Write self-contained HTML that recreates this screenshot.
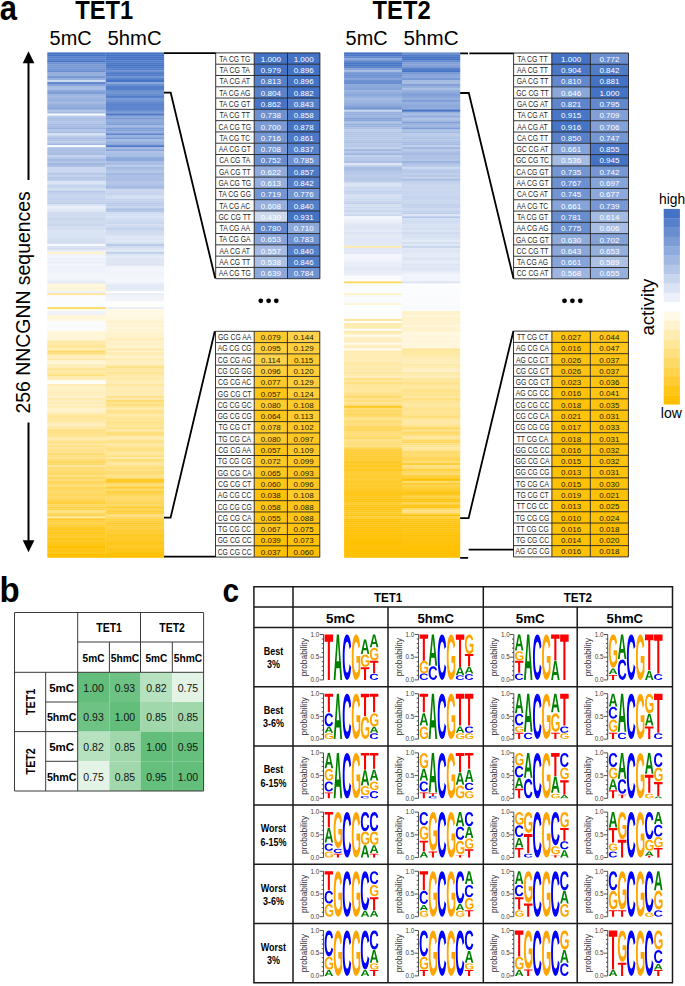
<!DOCTYPE html>
<html><head><meta charset="utf-8"><style>
html,body{margin:0;padding:0;background:#fff;width:685px;height:986px;overflow:hidden}
svg{display:block}
text{font-family:"Liberation Sans",sans-serif}
</style></head><body>
<svg width="685" height="986" viewBox="0 0 685 986">
<rect width="685" height="986" fill="#fff"/>
<text x="-0.3" y="19.7" font-size="35.5" font-weight="bold" textLength="17.2" lengthAdjust="spacingAndGlyphs" fill="#000">a</text>
<text x="75.3" y="19.4" font-size="25.5" font-weight="bold" textLength="58" lengthAdjust="spacingAndGlyphs" fill="#000">TET1</text>
<text x="372.6" y="19.4" font-size="25.5" font-weight="bold" textLength="58" lengthAdjust="spacingAndGlyphs" fill="#000">TET2</text>
<text x="49.6" y="45" font-size="19.6" textLength="42" lengthAdjust="spacingAndGlyphs" fill="#000">5mC</text>
<text x="107.6" y="45" font-size="19.6" textLength="54" lengthAdjust="spacingAndGlyphs" fill="#000">5hmC</text>
<text x="345.6" y="45" font-size="19.6" textLength="42" lengthAdjust="spacingAndGlyphs" fill="#000">5mC</text>
<text x="403.6" y="45" font-size="19.6" textLength="55" lengthAdjust="spacingAndGlyphs" fill="#000">5hmC</text>
<rect x="47.30" y="91.88" width="58.50" height="2.27" fill="#7b9cd5"/>
<rect x="47.30" y="93.86" width="58.50" height="2.27" fill="#9cb5e0"/>
<rect x="47.30" y="95.83" width="58.50" height="2.27" fill="#a5bbe2"/>
<rect x="47.30" y="97.81" width="58.50" height="2.27" fill="#9bb4e0"/>
<rect x="47.30" y="99.78" width="58.50" height="2.27" fill="#9ab3df"/>
<rect x="47.30" y="101.76" width="58.50" height="2.27" fill="#a9bee4"/>
<rect x="47.30" y="103.73" width="58.50" height="2.27" fill="#95afde"/>
<rect x="47.30" y="105.70" width="58.50" height="2.27" fill="#92addd"/>
<rect x="47.30" y="107.68" width="58.50" height="2.27" fill="#88a6da"/>
<rect x="47.30" y="109.65" width="58.50" height="2.27" fill="#b2c5e7"/>
<rect x="47.30" y="111.63" width="58.50" height="2.27" fill="#a6bce3"/>
<rect x="47.30" y="113.60" width="58.50" height="2.27" fill="#f9fbfd"/>
<rect x="47.30" y="115.57" width="58.50" height="2.27" fill="#b9cae9"/>
<rect x="47.30" y="117.55" width="58.50" height="2.27" fill="#a7bde3"/>
<rect x="47.30" y="119.52" width="58.50" height="2.27" fill="#adc1e5"/>
<rect x="47.30" y="121.50" width="58.50" height="2.27" fill="#b5c7e8"/>
<rect x="47.30" y="123.47" width="58.50" height="2.27" fill="#a8bde3"/>
<rect x="47.30" y="125.45" width="58.50" height="2.27" fill="#a6bce3"/>
<rect x="47.30" y="127.42" width="58.50" height="2.27" fill="#99b2df"/>
<rect x="47.30" y="129.39" width="58.50" height="2.27" fill="#b3c6e7"/>
<rect x="47.30" y="131.37" width="58.50" height="2.27" fill="#a3bae2"/>
<rect x="47.30" y="133.34" width="58.50" height="2.27" fill="#dae3f3"/>
<rect x="47.30" y="135.32" width="58.50" height="2.27" fill="#bbcce9"/>
<rect x="47.30" y="137.29" width="58.50" height="2.27" fill="#a7bde3"/>
<rect x="47.30" y="139.27" width="58.50" height="2.27" fill="#afc2e6"/>
<rect x="47.30" y="141.24" width="58.50" height="2.27" fill="#bccdea"/>
<rect x="47.30" y="143.21" width="58.50" height="2.27" fill="#a2b9e2"/>
<rect x="47.30" y="145.19" width="58.50" height="2.27" fill="#fbfcfe"/>
<rect x="47.30" y="147.16" width="58.50" height="2.27" fill="#aec2e6"/>
<rect x="47.30" y="149.14" width="58.50" height="2.27" fill="#a7bce3"/>
<rect x="47.30" y="151.11" width="58.50" height="2.27" fill="#adc1e5"/>
<rect x="47.30" y="153.09" width="58.50" height="2.27" fill="#a4bae2"/>
<rect x="47.30" y="155.06" width="58.50" height="2.27" fill="#c3d1ec"/>
<rect x="47.30" y="157.03" width="58.50" height="2.27" fill="#b5c7e8"/>
<rect x="47.30" y="159.01" width="58.50" height="2.27" fill="#a5bbe3"/>
<rect x="47.30" y="160.98" width="58.50" height="2.27" fill="#b3c6e7"/>
<rect x="47.30" y="162.96" width="58.50" height="2.27" fill="#a1b8e1"/>
<rect x="47.30" y="164.93" width="58.50" height="2.27" fill="#aabfe4"/>
<rect x="47.30" y="166.90" width="58.50" height="2.27" fill="#cdd9ef"/>
<rect x="47.30" y="168.88" width="58.50" height="2.27" fill="#c9d6ee"/>
<rect x="47.30" y="170.85" width="58.50" height="2.27" fill="#cad7ee"/>
<rect x="47.30" y="172.83" width="58.50" height="2.27" fill="#b6c8e8"/>
<rect x="47.30" y="174.80" width="58.50" height="2.27" fill="#c4d2ec"/>
<rect x="47.30" y="176.78" width="58.50" height="2.27" fill="#b6c8e8"/>
<rect x="47.30" y="178.75" width="58.50" height="2.27" fill="#b8c9e9"/>
<rect x="47.30" y="180.72" width="58.50" height="2.27" fill="#dbe4f4"/>
<rect x="47.30" y="182.70" width="58.50" height="2.27" fill="#dae3f3"/>
<rect x="47.30" y="184.67" width="58.50" height="2.27" fill="#c4d3ed"/>
<rect x="47.30" y="186.65" width="58.50" height="2.27" fill="#c7d5ed"/>
<rect x="47.30" y="188.62" width="58.50" height="2.27" fill="#d8e1f3"/>
<rect x="47.30" y="190.60" width="58.50" height="2.27" fill="#b7c9e8"/>
<rect x="47.30" y="192.57" width="58.50" height="2.27" fill="#c1d1ec"/>
<rect x="47.30" y="194.54" width="58.50" height="2.27" fill="#c7d4ed"/>
<rect x="47.30" y="196.52" width="58.50" height="2.27" fill="#c5d3ed"/>
<rect x="47.30" y="198.49" width="58.50" height="2.27" fill="#c0cfeb"/>
<rect x="47.30" y="200.47" width="58.50" height="2.27" fill="#c5d3ed"/>
<rect x="47.30" y="202.44" width="58.50" height="2.27" fill="#bbccea"/>
<rect x="47.30" y="204.41" width="58.50" height="2.27" fill="#dfe7f5"/>
<rect x="47.30" y="206.39" width="58.50" height="2.27" fill="#e9eef8"/>
<rect x="47.30" y="208.36" width="58.50" height="2.27" fill="#e2e9f6"/>
<rect x="47.30" y="210.34" width="58.50" height="2.27" fill="#dce4f4"/>
<rect x="47.30" y="212.31" width="58.50" height="2.27" fill="#ccd8ef"/>
<rect x="47.30" y="214.29" width="58.50" height="2.27" fill="#cedaf0"/>
<rect x="47.30" y="216.26" width="58.50" height="2.27" fill="#cedaf0"/>
<rect x="47.30" y="218.23" width="58.50" height="2.27" fill="#c4d2ec"/>
<rect x="47.30" y="220.21" width="58.50" height="2.27" fill="#ccd9ef"/>
<rect x="47.30" y="222.18" width="58.50" height="2.27" fill="#ccd9ef"/>
<rect x="47.30" y="224.16" width="58.50" height="2.27" fill="#c7d4ed"/>
<rect x="47.30" y="226.13" width="58.50" height="2.27" fill="#d5dff2"/>
<rect x="47.30" y="228.11" width="58.50" height="2.27" fill="#d1ddf1"/>
<rect x="47.30" y="230.08" width="58.50" height="2.27" fill="#dde5f4"/>
<rect x="47.30" y="232.05" width="58.50" height="2.27" fill="#d9e2f3"/>
<rect x="47.30" y="234.03" width="58.50" height="2.27" fill="#d9e2f3"/>
<rect x="47.30" y="236.00" width="58.50" height="2.27" fill="#d9e3f3"/>
<rect x="47.30" y="237.98" width="58.50" height="2.27" fill="#d4def1"/>
<rect x="47.30" y="239.95" width="58.50" height="2.27" fill="#d3def1"/>
<rect x="47.30" y="241.92" width="58.50" height="2.27" fill="#d3def1"/>
<rect x="47.30" y="243.90" width="58.50" height="2.27" fill="#fbfcfe"/>
<rect x="47.30" y="245.87" width="58.50" height="2.27" fill="#dae3f3"/>
<rect x="47.30" y="247.85" width="58.50" height="2.27" fill="#d3def1"/>
<rect x="47.30" y="249.82" width="58.50" height="2.27" fill="#eaeff8"/>
<rect x="47.30" y="251.80" width="58.50" height="2.27" fill="#fff2c9"/>
<rect x="47.30" y="253.77" width="58.50" height="2.27" fill="#f0f3fa"/>
<rect x="47.30" y="255.74" width="58.50" height="2.27" fill="#f5f7fc"/>
<rect x="47.30" y="257.72" width="58.50" height="2.27" fill="#ebf0f9"/>
<rect x="47.30" y="259.69" width="58.50" height="2.27" fill="#f0f4fa"/>
<rect x="47.30" y="261.67" width="58.50" height="2.27" fill="#eaeff8"/>
<rect x="47.30" y="263.64" width="58.50" height="2.27" fill="#f3f6fb"/>
<rect x="47.30" y="265.62" width="58.50" height="2.27" fill="#eef2fa"/>
<rect x="47.30" y="267.59" width="58.50" height="2.27" fill="#eef2fa"/>
<rect x="47.30" y="269.56" width="58.50" height="2.27" fill="#eff3fa"/>
<rect x="47.30" y="271.54" width="58.50" height="2.27" fill="#f1f5fb"/>
<rect x="47.30" y="273.51" width="58.50" height="2.27" fill="#f2f5fb"/>
<rect x="47.30" y="275.49" width="58.50" height="2.27" fill="#f3f6fb"/>
<rect x="47.30" y="277.46" width="58.50" height="2.27" fill="#f2f5fb"/>
<rect x="47.30" y="279.44" width="58.50" height="2.27" fill="#ebf0f9"/>
<rect x="47.30" y="281.41" width="58.50" height="2.27" fill="#e1e8f6"/>
<rect x="47.30" y="283.38" width="58.50" height="2.27" fill="#fff6d9"/>
<rect x="47.30" y="285.36" width="58.50" height="2.27" fill="#fff6db"/>
<rect x="47.30" y="287.33" width="58.50" height="2.27" fill="#fff4d1"/>
<rect x="47.30" y="289.31" width="58.50" height="2.27" fill="#fff7dd"/>
<rect x="47.30" y="291.28" width="58.50" height="2.27" fill="#ebf0f9"/>
<rect x="47.30" y="293.25" width="58.50" height="2.27" fill="#ffe597"/>
<rect x="47.30" y="295.23" width="58.50" height="2.27" fill="#fbfcfe"/>
<rect x="47.30" y="297.20" width="58.50" height="2.27" fill="#fafbfd"/>
<rect x="47.30" y="299.18" width="58.50" height="2.27" fill="#fafbfd"/>
<rect x="47.30" y="301.15" width="58.50" height="2.27" fill="#fafcfe"/>
<rect x="47.30" y="303.13" width="58.50" height="2.27" fill="#fbfcfe"/>
<rect x="47.30" y="305.10" width="58.50" height="2.27" fill="#fafcfe"/>
<rect x="47.30" y="307.07" width="58.50" height="2.27" fill="#ffda68"/>
<rect x="47.30" y="309.05" width="58.50" height="2.27" fill="#fffbed"/>
<rect x="47.30" y="311.02" width="58.50" height="2.27" fill="#eff3fa"/>
<rect x="47.30" y="313.00" width="58.50" height="2.27" fill="#eff3fa"/>
<rect x="47.30" y="314.97" width="58.50" height="2.27" fill="#fff6da"/>
<rect x="47.30" y="316.95" width="58.50" height="2.27" fill="#fff6d9"/>
<rect x="47.30" y="318.92" width="58.50" height="2.27" fill="#fff8e1"/>
<rect x="47.30" y="320.89" width="58.50" height="2.27" fill="#fbfcfe"/>
<rect x="47.30" y="322.87" width="58.50" height="2.27" fill="#fbfcfe"/>
<rect x="47.30" y="324.84" width="58.50" height="2.27" fill="#fafbfd"/>
<rect x="47.30" y="326.82" width="58.50" height="2.27" fill="#fafbfd"/>
<rect x="47.30" y="328.79" width="58.50" height="2.27" fill="#fafcfe"/>
<rect x="47.30" y="330.76" width="58.50" height="2.27" fill="#fff6db"/>
<rect x="47.30" y="332.74" width="58.50" height="2.27" fill="#fff5d7"/>
<rect x="47.30" y="334.71" width="58.50" height="2.27" fill="#fff6da"/>
<rect x="47.30" y="336.69" width="58.50" height="2.27" fill="#fff5d8"/>
<rect x="47.30" y="338.66" width="58.50" height="2.27" fill="#fff5d8"/>
<rect x="47.30" y="340.64" width="58.50" height="2.27" fill="#ffe8a2"/>
<rect x="47.30" y="342.61" width="58.50" height="2.27" fill="#ffeaaa"/>
<rect x="47.30" y="344.58" width="58.50" height="2.27" fill="#ffe595"/>
<rect x="47.30" y="346.56" width="58.50" height="2.27" fill="#ffe699"/>
<rect x="47.30" y="348.53" width="58.50" height="2.27" fill="#ffedb6"/>
<rect x="47.30" y="350.51" width="58.50" height="2.27" fill="#ffda68"/>
<rect x="47.30" y="352.48" width="58.50" height="2.27" fill="#ffdf7c"/>
<rect x="47.30" y="354.46" width="58.50" height="2.27" fill="#ffebae"/>
<rect x="47.30" y="356.43" width="58.50" height="2.27" fill="#ffefc0"/>
<rect x="47.30" y="358.40" width="58.50" height="2.27" fill="#ffe8a4"/>
<rect x="47.30" y="360.38" width="58.50" height="2.27" fill="#fff4d2"/>
<rect x="47.30" y="362.35" width="58.50" height="2.27" fill="#fff5d9"/>
<rect x="47.30" y="364.33" width="58.50" height="2.27" fill="#ffecb3"/>
<rect x="47.30" y="366.30" width="58.50" height="2.27" fill="#ffedb5"/>
<rect x="47.30" y="368.27" width="58.50" height="2.27" fill="#ffe28b"/>
<rect x="47.30" y="370.25" width="58.50" height="2.27" fill="#ffe9a6"/>
<rect x="47.30" y="372.22" width="58.50" height="2.27" fill="#ffe79c"/>
<rect x="47.30" y="374.20" width="58.50" height="2.27" fill="#ffe081"/>
<rect x="47.30" y="376.17" width="58.50" height="2.27" fill="#ffebad"/>
<rect x="47.30" y="378.15" width="58.50" height="2.27" fill="#ffecb4"/>
<rect x="47.30" y="380.12" width="58.50" height="2.27" fill="#fffdf8"/>
<rect x="47.30" y="382.09" width="58.50" height="2.27" fill="#fffdf6"/>
<rect x="47.30" y="384.07" width="58.50" height="2.27" fill="#ffecb2"/>
<rect x="47.30" y="386.04" width="58.50" height="2.27" fill="#fff1c7"/>
<rect x="47.30" y="388.02" width="58.50" height="2.27" fill="#fff0c2"/>
<rect x="47.30" y="389.99" width="58.50" height="2.27" fill="#fff0c3"/>
<rect x="47.30" y="391.97" width="58.50" height="2.27" fill="#ffeebc"/>
<rect x="47.30" y="393.94" width="58.50" height="2.27" fill="#ffefc0"/>
<rect x="47.30" y="395.91" width="58.50" height="2.27" fill="#fff3cf"/>
<rect x="47.30" y="397.89" width="58.50" height="2.27" fill="#ffeaac"/>
<rect x="47.30" y="399.86" width="58.50" height="2.27" fill="#fff0c3"/>
<rect x="47.30" y="401.84" width="58.50" height="2.27" fill="#ffecb1"/>
<rect x="47.30" y="403.81" width="58.50" height="2.27" fill="#fff0c3"/>
<rect x="47.30" y="405.79" width="58.50" height="2.27" fill="#ffecb4"/>
<rect x="47.30" y="407.76" width="58.50" height="2.27" fill="#fff2cb"/>
<rect x="47.30" y="409.73" width="58.50" height="2.27" fill="#fff3ce"/>
<rect x="47.30" y="411.71" width="58.50" height="2.27" fill="#fff0c1"/>
<rect x="47.30" y="413.68" width="58.50" height="2.27" fill="#ffe8a1"/>
<rect x="47.30" y="415.66" width="58.50" height="2.27" fill="#ffe594"/>
<rect x="47.30" y="417.63" width="58.50" height="2.27" fill="#ffe79e"/>
<rect x="47.30" y="419.60" width="58.50" height="2.27" fill="#ffe79d"/>
<rect x="47.30" y="421.58" width="58.50" height="2.27" fill="#ffeaab"/>
<rect x="47.30" y="423.55" width="58.50" height="2.27" fill="#ffefc0"/>
<rect x="47.30" y="425.53" width="58.50" height="2.27" fill="#ffebaf"/>
<rect x="47.30" y="427.50" width="58.50" height="2.27" fill="#ffe69b"/>
<rect x="47.30" y="429.48" width="58.50" height="2.27" fill="#ffdf7c"/>
<rect x="47.30" y="431.45" width="58.50" height="2.27" fill="#ffe184"/>
<rect x="47.30" y="433.42" width="58.50" height="2.27" fill="#ffe28a"/>
<rect x="47.30" y="435.40" width="58.50" height="2.27" fill="#ffe289"/>
<rect x="47.30" y="437.37" width="58.50" height="2.27" fill="#ffebae"/>
<rect x="47.30" y="439.35" width="58.50" height="2.27" fill="#ffe69a"/>
<rect x="47.30" y="441.32" width="58.50" height="2.27" fill="#ffdf7b"/>
<rect x="47.30" y="443.30" width="58.50" height="2.27" fill="#ffe69b"/>
<rect x="47.30" y="445.27" width="58.50" height="2.27" fill="#ffdf7f"/>
<rect x="47.30" y="447.24" width="58.50" height="2.27" fill="#ffe491"/>
<rect x="47.30" y="449.22" width="58.50" height="2.27" fill="#ffe187"/>
<rect x="47.30" y="451.19" width="58.50" height="2.27" fill="#ffe38d"/>
<rect x="47.30" y="453.17" width="58.50" height="2.27" fill="#ffdb6e"/>
<rect x="47.30" y="455.14" width="58.50" height="2.27" fill="#ffe084"/>
<rect x="47.30" y="457.11" width="58.50" height="2.27" fill="#ffe289"/>
<rect x="47.30" y="459.09" width="58.50" height="2.27" fill="#ffdc72"/>
<rect x="47.30" y="461.06" width="58.50" height="2.27" fill="#ffd860"/>
<rect x="47.30" y="463.04" width="58.50" height="2.27" fill="#ffdb6c"/>
<rect x="47.30" y="465.01" width="58.50" height="2.27" fill="#ffe69c"/>
<rect x="47.30" y="466.99" width="58.50" height="2.27" fill="#ffdd75"/>
<rect x="47.30" y="468.96" width="58.50" height="2.27" fill="#ffdd76"/>
<rect x="47.30" y="470.93" width="58.50" height="2.27" fill="#ffdc6f"/>
<rect x="47.30" y="472.91" width="58.50" height="2.27" fill="#ffd965"/>
<rect x="47.30" y="474.88" width="58.50" height="2.27" fill="#ffe185"/>
<rect x="47.30" y="476.86" width="58.50" height="2.27" fill="#ffd861"/>
<rect x="47.30" y="478.83" width="58.50" height="2.27" fill="#ffde7b"/>
<rect x="47.30" y="480.81" width="58.50" height="2.27" fill="#ffd65b"/>
<rect x="47.30" y="482.78" width="58.50" height="2.27" fill="#ffda67"/>
<rect x="47.30" y="484.75" width="58.50" height="2.27" fill="#ffdf7f"/>
<rect x="47.30" y="486.73" width="58.50" height="2.27" fill="#ffd860"/>
<rect x="47.30" y="488.70" width="58.50" height="2.27" fill="#ffd75e"/>
<rect x="47.30" y="490.68" width="58.50" height="2.27" fill="#ffdb6e"/>
<rect x="47.30" y="492.65" width="58.50" height="2.27" fill="#ffd964"/>
<rect x="47.30" y="494.62" width="58.50" height="2.27" fill="#ffd658"/>
<rect x="47.30" y="496.60" width="58.50" height="2.27" fill="#ffd967"/>
<rect x="47.30" y="498.57" width="58.50" height="2.27" fill="#ffd554"/>
<rect x="47.30" y="500.55" width="58.50" height="2.27" fill="#ffcf3d"/>
<rect x="47.30" y="502.52" width="58.50" height="2.27" fill="#ffce37"/>
<rect x="47.30" y="504.50" width="58.50" height="2.27" fill="#ffda68"/>
<rect x="47.30" y="506.47" width="58.50" height="2.27" fill="#ffd146"/>
<rect x="47.30" y="508.44" width="58.50" height="2.27" fill="#ffd34c"/>
<rect x="47.30" y="510.42" width="58.50" height="2.27" fill="#ffe186"/>
<rect x="47.30" y="512.39" width="58.50" height="2.27" fill="#ffd963"/>
<rect x="47.30" y="514.37" width="58.50" height="2.27" fill="#ffd146"/>
<rect x="47.30" y="516.34" width="58.50" height="2.27" fill="#ffe69a"/>
<rect x="47.30" y="52.40" width="58.50" height="2.27" fill="#4472c4"/>
<rect x="47.30" y="54.37" width="58.50" height="2.27" fill="#4472c4"/>
<rect x="47.30" y="56.35" width="58.50" height="2.27" fill="#5680ca"/>
<rect x="47.30" y="58.32" width="58.50" height="2.27" fill="#5982cb"/>
<rect x="47.30" y="60.30" width="58.50" height="2.27" fill="#4774c5"/>
<rect x="47.30" y="62.27" width="58.50" height="2.27" fill="#6d91d1"/>
<rect x="47.30" y="64.25" width="58.50" height="2.27" fill="#799ad5"/>
<rect x="47.30" y="66.22" width="58.50" height="2.27" fill="#7496d3"/>
<rect x="47.30" y="68.19" width="58.50" height="2.27" fill="#7698d4"/>
<rect x="47.30" y="70.17" width="58.50" height="2.27" fill="#698ed0"/>
<rect x="47.30" y="72.14" width="58.50" height="2.27" fill="#91acdc"/>
<rect x="47.30" y="74.12" width="58.50" height="2.27" fill="#94aedd"/>
<rect x="47.30" y="76.09" width="58.50" height="2.27" fill="#7395d3"/>
<rect x="47.30" y="78.06" width="58.50" height="2.27" fill="#95afde"/>
<rect x="47.30" y="80.04" width="58.50" height="2.27" fill="#cdd9ef"/>
<rect x="47.30" y="82.01" width="58.50" height="2.27" fill="#6087cd"/>
<rect x="47.30" y="83.99" width="58.50" height="2.27" fill="#87a5d9"/>
<rect x="47.30" y="85.96" width="58.50" height="2.27" fill="#a5bbe3"/>
<rect x="47.30" y="87.94" width="58.50" height="2.27" fill="#abc0e5"/>
<rect x="47.30" y="89.91" width="58.50" height="2.27" fill="#8ca8db"/>
<rect x="47.30" y="518.32" width="58.50" height="2.27" fill="#ffca29"/>
<rect x="47.30" y="520.29" width="58.50" height="2.27" fill="#ffce38"/>
<rect x="47.30" y="522.26" width="58.50" height="2.27" fill="#ffd24b"/>
<rect x="47.30" y="524.24" width="58.50" height="2.27" fill="#ffce39"/>
<rect x="47.30" y="526.21" width="58.50" height="2.27" fill="#ffca27"/>
<rect x="47.30" y="528.19" width="58.50" height="2.27" fill="#ffc513"/>
<rect x="47.30" y="530.16" width="58.50" height="2.27" fill="#ffca2a"/>
<rect x="47.30" y="532.14" width="58.50" height="2.27" fill="#ffc61a"/>
<rect x="47.30" y="534.11" width="58.50" height="2.27" fill="#ffca28"/>
<rect x="47.30" y="536.08" width="58.50" height="2.27" fill="#ffca2a"/>
<rect x="47.30" y="538.06" width="58.50" height="2.27" fill="#ffc513"/>
<rect x="47.30" y="540.03" width="58.50" height="2.27" fill="#ffc822"/>
<rect x="47.30" y="542.01" width="58.50" height="2.27" fill="#ffc71b"/>
<rect x="47.30" y="543.98" width="58.50" height="2.27" fill="#ffc616"/>
<rect x="47.30" y="545.95" width="58.50" height="2.27" fill="#ffc001"/>
<rect x="47.30" y="547.93" width="58.50" height="2.27" fill="#ffc514"/>
<rect x="47.30" y="549.90" width="58.50" height="2.27" fill="#ffc411"/>
<rect x="47.30" y="551.88" width="58.50" height="2.27" fill="#ffc71d"/>
<rect x="47.30" y="553.85" width="58.50" height="2.27" fill="#ffc002"/>
<rect x="47.30" y="555.83" width="58.50" height="1.97" fill="#ffc000"/>
<rect x="105.80" y="91.88" width="58.30" height="2.27" fill="#7698d4"/>
<rect x="105.80" y="93.86" width="58.30" height="2.27" fill="#698ed0"/>
<rect x="105.80" y="95.83" width="58.30" height="2.27" fill="#527dc8"/>
<rect x="105.80" y="97.81" width="58.30" height="2.27" fill="#799ad5"/>
<rect x="105.80" y="99.78" width="58.30" height="2.27" fill="#7395d3"/>
<rect x="105.80" y="101.76" width="58.30" height="2.27" fill="#648ace"/>
<rect x="105.80" y="103.73" width="58.30" height="2.27" fill="#5a83cb"/>
<rect x="105.80" y="105.70" width="58.30" height="2.27" fill="#5f87cd"/>
<rect x="105.80" y="107.68" width="58.30" height="2.27" fill="#5c84cc"/>
<rect x="105.80" y="109.65" width="58.30" height="2.27" fill="#668ccf"/>
<rect x="105.80" y="111.63" width="58.30" height="2.27" fill="#7e9ed6"/>
<rect x="105.80" y="113.60" width="58.30" height="2.27" fill="#4c78c6"/>
<rect x="105.80" y="115.57" width="58.30" height="2.27" fill="#88a5d9"/>
<rect x="105.80" y="117.55" width="58.30" height="2.27" fill="#7b9bd5"/>
<rect x="105.80" y="119.52" width="58.30" height="2.27" fill="#90abdc"/>
<rect x="105.80" y="121.50" width="58.30" height="2.27" fill="#84a3d8"/>
<rect x="105.80" y="123.47" width="58.30" height="2.27" fill="#809fd7"/>
<rect x="105.80" y="125.45" width="58.30" height="2.27" fill="#a5bbe3"/>
<rect x="105.80" y="127.42" width="58.30" height="2.27" fill="#7d9dd6"/>
<rect x="105.80" y="129.39" width="58.30" height="2.27" fill="#81a0d7"/>
<rect x="105.80" y="131.37" width="58.30" height="2.27" fill="#91acdc"/>
<rect x="105.80" y="133.34" width="58.30" height="2.27" fill="#5f86cd"/>
<rect x="105.80" y="135.32" width="58.30" height="2.27" fill="#99b2df"/>
<rect x="105.80" y="137.29" width="58.30" height="2.27" fill="#7a9bd5"/>
<rect x="105.80" y="139.27" width="58.30" height="2.27" fill="#a4bae2"/>
<rect x="105.80" y="141.24" width="58.30" height="2.27" fill="#93aedd"/>
<rect x="105.80" y="143.21" width="58.30" height="2.27" fill="#8ba7da"/>
<rect x="105.80" y="145.19" width="58.30" height="2.27" fill="#4d79c7"/>
<rect x="105.80" y="147.16" width="58.30" height="2.27" fill="#a4bae2"/>
<rect x="105.80" y="149.14" width="58.30" height="2.27" fill="#8aa7da"/>
<rect x="105.80" y="151.11" width="58.30" height="2.27" fill="#aec2e6"/>
<rect x="105.80" y="153.09" width="58.30" height="2.27" fill="#a8bde3"/>
<rect x="105.80" y="155.06" width="58.30" height="2.27" fill="#a7bde3"/>
<rect x="105.80" y="157.03" width="58.30" height="2.27" fill="#8fabdc"/>
<rect x="105.80" y="159.01" width="58.30" height="2.27" fill="#8ca9db"/>
<rect x="105.80" y="160.98" width="58.30" height="2.27" fill="#a9bee4"/>
<rect x="105.80" y="162.96" width="58.30" height="2.27" fill="#a8bde4"/>
<rect x="105.80" y="164.93" width="58.30" height="2.27" fill="#bcccea"/>
<rect x="105.80" y="166.90" width="58.30" height="2.27" fill="#a3bae2"/>
<rect x="105.80" y="168.88" width="58.30" height="2.27" fill="#aec2e5"/>
<rect x="105.80" y="170.85" width="58.30" height="2.27" fill="#b5c8e8"/>
<rect x="105.80" y="172.83" width="58.30" height="2.27" fill="#a4bae2"/>
<rect x="105.80" y="174.80" width="58.30" height="2.27" fill="#aabfe4"/>
<rect x="105.80" y="176.78" width="58.30" height="2.27" fill="#aec2e5"/>
<rect x="105.80" y="178.75" width="58.30" height="2.27" fill="#a7bde3"/>
<rect x="105.80" y="180.72" width="58.30" height="2.27" fill="#b5c7e8"/>
<rect x="105.80" y="182.70" width="58.30" height="2.27" fill="#b5c7e8"/>
<rect x="105.80" y="184.67" width="58.30" height="2.27" fill="#aabfe4"/>
<rect x="105.80" y="186.65" width="58.30" height="2.27" fill="#a1b8e1"/>
<rect x="105.80" y="188.62" width="58.30" height="2.27" fill="#c8d5ee"/>
<rect x="105.80" y="190.60" width="58.30" height="2.27" fill="#cad7ee"/>
<rect x="105.80" y="192.57" width="58.30" height="2.27" fill="#c2d1ec"/>
<rect x="105.80" y="194.54" width="58.30" height="2.27" fill="#cdd9ef"/>
<rect x="105.80" y="196.52" width="58.30" height="2.27" fill="#d5e0f2"/>
<rect x="105.80" y="198.49" width="58.30" height="2.27" fill="#c5d3ed"/>
<rect x="105.80" y="200.47" width="58.30" height="2.27" fill="#c4d2ec"/>
<rect x="105.80" y="202.44" width="58.30" height="2.27" fill="#bcccea"/>
<rect x="105.80" y="204.41" width="58.30" height="2.27" fill="#bcccea"/>
<rect x="105.80" y="206.39" width="58.30" height="2.27" fill="#c9d7ee"/>
<rect x="105.80" y="208.36" width="58.30" height="2.27" fill="#a8bee4"/>
<rect x="105.80" y="210.34" width="58.30" height="2.27" fill="#b4c6e7"/>
<rect x="105.80" y="212.31" width="58.30" height="2.27" fill="#cfdbf0"/>
<rect x="105.80" y="214.29" width="58.30" height="2.27" fill="#d5e0f2"/>
<rect x="105.80" y="216.26" width="58.30" height="2.27" fill="#d8e2f3"/>
<rect x="105.80" y="218.23" width="58.30" height="2.27" fill="#cfdbf0"/>
<rect x="105.80" y="220.21" width="58.30" height="2.27" fill="#ccd9ef"/>
<rect x="105.80" y="222.18" width="58.30" height="2.27" fill="#c8d6ee"/>
<rect x="105.80" y="224.16" width="58.30" height="2.27" fill="#d4def1"/>
<rect x="105.80" y="226.13" width="58.30" height="2.27" fill="#cad7ee"/>
<rect x="105.80" y="228.11" width="58.30" height="2.27" fill="#c2d1ec"/>
<rect x="105.80" y="230.08" width="58.30" height="2.27" fill="#cedaf0"/>
<rect x="105.80" y="232.05" width="58.30" height="2.27" fill="#d1dcf0"/>
<rect x="105.80" y="234.03" width="58.30" height="2.27" fill="#d5e0f2"/>
<rect x="105.80" y="236.00" width="58.30" height="2.27" fill="#e1e8f5"/>
<rect x="105.80" y="237.98" width="58.30" height="2.27" fill="#dde5f4"/>
<rect x="105.80" y="239.95" width="58.30" height="2.27" fill="#e0e7f5"/>
<rect x="105.80" y="241.92" width="58.30" height="2.27" fill="#d9e2f3"/>
<rect x="105.80" y="243.90" width="58.30" height="2.27" fill="#b8cae9"/>
<rect x="105.80" y="245.87" width="58.30" height="2.27" fill="#cfdbf0"/>
<rect x="105.80" y="247.85" width="58.30" height="2.27" fill="#dce4f4"/>
<rect x="105.80" y="249.82" width="58.30" height="2.27" fill="#e3eaf6"/>
<rect x="105.80" y="251.80" width="58.30" height="2.27" fill="#bfcfeb"/>
<rect x="105.80" y="253.77" width="58.30" height="2.27" fill="#dde5f4"/>
<rect x="105.80" y="255.74" width="58.30" height="2.27" fill="#e5ebf7"/>
<rect x="105.80" y="257.72" width="58.30" height="2.27" fill="#dfe7f5"/>
<rect x="105.80" y="259.69" width="58.30" height="2.27" fill="#dde5f4"/>
<rect x="105.80" y="261.67" width="58.30" height="2.27" fill="#e0e8f5"/>
<rect x="105.80" y="263.64" width="58.30" height="2.27" fill="#dce4f4"/>
<rect x="105.80" y="265.62" width="58.30" height="2.27" fill="#eef2fa"/>
<rect x="105.80" y="267.59" width="58.30" height="2.27" fill="#f2f5fb"/>
<rect x="105.80" y="269.56" width="58.30" height="2.27" fill="#f2f5fb"/>
<rect x="105.80" y="271.54" width="58.30" height="2.27" fill="#f1f4fb"/>
<rect x="105.80" y="273.51" width="58.30" height="2.27" fill="#eef2fa"/>
<rect x="105.80" y="275.49" width="58.30" height="2.27" fill="#f2f6fb"/>
<rect x="105.80" y="277.46" width="58.30" height="2.27" fill="#f2f5fb"/>
<rect x="105.80" y="279.44" width="58.30" height="2.27" fill="#f4f7fc"/>
<rect x="105.80" y="281.41" width="58.30" height="2.27" fill="#f0f4fa"/>
<rect x="105.80" y="283.38" width="58.30" height="2.27" fill="#e6ecf7"/>
<rect x="105.80" y="285.36" width="58.30" height="2.27" fill="#dfe7f5"/>
<rect x="105.80" y="287.33" width="58.30" height="2.27" fill="#e1e9f6"/>
<rect x="105.80" y="289.31" width="58.30" height="2.27" fill="#e6ecf7"/>
<rect x="105.80" y="291.28" width="58.30" height="2.27" fill="#fdfefe"/>
<rect x="105.80" y="293.25" width="58.30" height="2.27" fill="#e6edf7"/>
<rect x="105.80" y="295.23" width="58.30" height="2.27" fill="#f0f4fa"/>
<rect x="105.80" y="297.20" width="58.30" height="2.27" fill="#eff3fa"/>
<rect x="105.80" y="299.18" width="58.30" height="2.27" fill="#f1f5fb"/>
<rect x="105.80" y="301.15" width="58.30" height="2.27" fill="#fdfdfe"/>
<rect x="105.80" y="303.13" width="58.30" height="2.27" fill="#fdfefe"/>
<rect x="105.80" y="305.10" width="58.30" height="2.27" fill="#fdfdfe"/>
<rect x="105.80" y="307.07" width="58.30" height="2.27" fill="#e9eef8"/>
<rect x="105.80" y="309.05" width="58.30" height="2.27" fill="#fff8e4"/>
<rect x="105.80" y="311.02" width="58.30" height="2.27" fill="#fff8e2"/>
<rect x="105.80" y="313.00" width="58.30" height="2.27" fill="#fff9e5"/>
<rect x="105.80" y="314.97" width="58.30" height="2.27" fill="#fff8e4"/>
<rect x="105.80" y="316.95" width="58.30" height="2.27" fill="#fff7de"/>
<rect x="105.80" y="318.92" width="58.30" height="2.27" fill="#fff7dd"/>
<rect x="105.80" y="320.89" width="58.30" height="2.27" fill="#fff2cb"/>
<rect x="105.80" y="322.87" width="58.30" height="2.27" fill="#fff6dc"/>
<rect x="105.80" y="324.84" width="58.30" height="2.27" fill="#fff5d5"/>
<rect x="105.80" y="326.82" width="58.30" height="2.27" fill="#fff6db"/>
<rect x="105.80" y="328.79" width="58.30" height="2.27" fill="#fff5d5"/>
<rect x="105.80" y="330.76" width="58.30" height="2.27" fill="#fff5d8"/>
<rect x="105.80" y="332.74" width="58.30" height="2.27" fill="#fff2cb"/>
<rect x="105.80" y="334.71" width="58.30" height="2.27" fill="#fff3d0"/>
<rect x="105.80" y="336.69" width="58.30" height="2.27" fill="#fff2cb"/>
<rect x="105.80" y="338.66" width="58.30" height="2.27" fill="#ffedb7"/>
<rect x="105.80" y="340.64" width="58.30" height="2.27" fill="#fff2cc"/>
<rect x="105.80" y="342.61" width="58.30" height="2.27" fill="#fff0c2"/>
<rect x="105.80" y="344.58" width="58.30" height="2.27" fill="#fff1c8"/>
<rect x="105.80" y="346.56" width="58.30" height="2.27" fill="#fff2cc"/>
<rect x="105.80" y="348.53" width="58.30" height="2.27" fill="#ffe8a3"/>
<rect x="105.80" y="350.51" width="58.30" height="2.27" fill="#fff2ca"/>
<rect x="105.80" y="352.48" width="58.30" height="2.27" fill="#ffeaa9"/>
<rect x="105.80" y="354.46" width="58.30" height="2.27" fill="#ffefbd"/>
<rect x="105.80" y="356.43" width="58.30" height="2.27" fill="#fff3ce"/>
<rect x="105.80" y="358.40" width="58.30" height="2.27" fill="#ffebac"/>
<rect x="105.80" y="360.38" width="58.30" height="2.27" fill="#ffeeba"/>
<rect x="105.80" y="362.35" width="58.30" height="2.27" fill="#fff0c3"/>
<rect x="105.80" y="364.33" width="58.30" height="2.27" fill="#ffeaa9"/>
<rect x="105.80" y="366.30" width="58.30" height="2.27" fill="#ffe080"/>
<rect x="105.80" y="368.27" width="58.30" height="2.27" fill="#ffe79c"/>
<rect x="105.80" y="370.25" width="58.30" height="2.27" fill="#ffe9a4"/>
<rect x="105.80" y="372.22" width="58.30" height="2.27" fill="#ffe38e"/>
<rect x="105.80" y="374.20" width="58.30" height="2.27" fill="#ffe9a4"/>
<rect x="105.80" y="376.17" width="58.30" height="2.27" fill="#ffebae"/>
<rect x="105.80" y="378.15" width="58.30" height="2.27" fill="#ffe9a4"/>
<rect x="105.80" y="380.12" width="58.30" height="2.27" fill="#ffedb6"/>
<rect x="105.80" y="382.09" width="58.30" height="2.27" fill="#ffedb7"/>
<rect x="105.80" y="384.07" width="58.30" height="2.27" fill="#ffe69b"/>
<rect x="105.80" y="386.04" width="58.30" height="2.27" fill="#ffebb0"/>
<rect x="105.80" y="388.02" width="58.30" height="2.27" fill="#ffeeb8"/>
<rect x="105.80" y="389.99" width="58.30" height="2.27" fill="#ffebae"/>
<rect x="105.80" y="391.97" width="58.30" height="2.27" fill="#ffedb7"/>
<rect x="105.80" y="393.94" width="58.30" height="2.27" fill="#ffecb4"/>
<rect x="105.80" y="395.91" width="58.30" height="2.27" fill="#ffe187"/>
<rect x="105.80" y="397.89" width="58.30" height="2.27" fill="#ffebaf"/>
<rect x="105.80" y="399.86" width="58.30" height="2.27" fill="#ffdc71"/>
<rect x="105.80" y="401.84" width="58.30" height="2.27" fill="#ffe491"/>
<rect x="105.80" y="403.81" width="58.30" height="2.27" fill="#ffdf7e"/>
<rect x="105.80" y="405.79" width="58.30" height="2.27" fill="#ffe69a"/>
<rect x="105.80" y="407.76" width="58.30" height="2.27" fill="#ffecb2"/>
<rect x="105.80" y="409.73" width="58.30" height="2.27" fill="#ffe38f"/>
<rect x="105.80" y="411.71" width="58.30" height="2.27" fill="#ffe38c"/>
<rect x="105.80" y="413.68" width="58.30" height="2.27" fill="#ffebae"/>
<rect x="105.80" y="415.66" width="58.30" height="2.27" fill="#ffe8a1"/>
<rect x="105.80" y="417.63" width="58.30" height="2.27" fill="#ffe38e"/>
<rect x="105.80" y="419.60" width="58.30" height="2.27" fill="#ffe597"/>
<rect x="105.80" y="421.58" width="58.30" height="2.27" fill="#ffe083"/>
<rect x="105.80" y="423.55" width="58.30" height="2.27" fill="#ffe491"/>
<rect x="105.80" y="425.53" width="58.30" height="2.27" fill="#ffe597"/>
<rect x="105.80" y="427.50" width="58.30" height="2.27" fill="#ffe083"/>
<rect x="105.80" y="429.48" width="58.30" height="2.27" fill="#ffeaab"/>
<rect x="105.80" y="431.45" width="58.30" height="2.27" fill="#ffde7b"/>
<rect x="105.80" y="433.42" width="58.30" height="2.27" fill="#ffdb6f"/>
<rect x="105.80" y="435.40" width="58.30" height="2.27" fill="#ffe69a"/>
<rect x="105.80" y="437.37" width="58.30" height="2.27" fill="#ffecb3"/>
<rect x="105.80" y="439.35" width="58.30" height="2.27" fill="#ffe38d"/>
<rect x="105.80" y="441.32" width="58.30" height="2.27" fill="#ffdf7f"/>
<rect x="105.80" y="443.30" width="58.30" height="2.27" fill="#ffe8a3"/>
<rect x="105.80" y="445.27" width="58.30" height="2.27" fill="#ffe698"/>
<rect x="105.80" y="447.24" width="58.30" height="2.27" fill="#ffdf7e"/>
<rect x="105.80" y="449.22" width="58.30" height="2.27" fill="#ffdf7c"/>
<rect x="105.80" y="451.19" width="58.30" height="2.27" fill="#ffe594"/>
<rect x="105.80" y="453.17" width="58.30" height="2.27" fill="#ffe79e"/>
<rect x="105.80" y="455.14" width="58.30" height="2.27" fill="#ffdf7f"/>
<rect x="105.80" y="457.11" width="58.30" height="2.27" fill="#ffeaa9"/>
<rect x="105.80" y="459.09" width="58.30" height="2.27" fill="#ffdc6f"/>
<rect x="105.80" y="461.06" width="58.30" height="2.27" fill="#ffe38f"/>
<rect x="105.80" y="463.04" width="58.30" height="2.27" fill="#ffe9a7"/>
<rect x="105.80" y="465.01" width="58.30" height="2.27" fill="#ffe38c"/>
<rect x="105.80" y="466.99" width="58.30" height="2.27" fill="#ffde78"/>
<rect x="105.80" y="468.96" width="58.30" height="2.27" fill="#ffe28a"/>
<rect x="105.80" y="470.93" width="58.30" height="2.27" fill="#ffdc72"/>
<rect x="105.80" y="472.91" width="58.30" height="2.27" fill="#ffde7a"/>
<rect x="105.80" y="474.88" width="58.30" height="2.27" fill="#ffe38d"/>
<rect x="105.80" y="476.86" width="58.30" height="2.27" fill="#ffdf7f"/>
<rect x="105.80" y="478.83" width="58.30" height="2.27" fill="#ffca27"/>
<rect x="105.80" y="480.81" width="58.30" height="2.27" fill="#ffcb2f"/>
<rect x="105.80" y="482.78" width="58.30" height="2.27" fill="#ffdc71"/>
<rect x="105.80" y="484.75" width="58.30" height="2.27" fill="#ffdd76"/>
<rect x="105.80" y="486.73" width="58.30" height="2.27" fill="#ffcd36"/>
<rect x="105.80" y="488.70" width="58.30" height="2.27" fill="#ffdd74"/>
<rect x="105.80" y="490.68" width="58.30" height="2.27" fill="#ffd042"/>
<rect x="105.80" y="492.65" width="58.30" height="2.27" fill="#ffd247"/>
<rect x="105.80" y="494.62" width="58.30" height="2.27" fill="#ffd860"/>
<rect x="105.80" y="496.60" width="58.30" height="2.27" fill="#ffda6a"/>
<rect x="105.80" y="498.57" width="58.30" height="2.27" fill="#ffd966"/>
<rect x="105.80" y="500.55" width="58.30" height="2.27" fill="#ffd65a"/>
<rect x="105.80" y="502.52" width="58.30" height="2.27" fill="#ffd450"/>
<rect x="105.80" y="504.50" width="58.30" height="2.27" fill="#ffd863"/>
<rect x="105.80" y="506.47" width="58.30" height="2.27" fill="#ffcc30"/>
<rect x="105.80" y="508.44" width="58.30" height="2.27" fill="#ffd556"/>
<rect x="105.80" y="510.42" width="58.30" height="2.27" fill="#ffcf3c"/>
<rect x="105.80" y="512.39" width="58.30" height="2.27" fill="#ffcf3e"/>
<rect x="105.80" y="514.37" width="58.30" height="2.27" fill="#ffdf7f"/>
<rect x="105.80" y="516.34" width="58.30" height="2.27" fill="#ffd863"/>
<rect x="105.80" y="52.40" width="58.30" height="2.27" fill="#4472c4"/>
<rect x="105.80" y="54.37" width="58.30" height="2.27" fill="#4472c4"/>
<rect x="105.80" y="56.35" width="58.30" height="2.27" fill="#4472c4"/>
<rect x="105.80" y="58.32" width="58.30" height="2.27" fill="#4472c4"/>
<rect x="105.80" y="60.30" width="58.30" height="2.27" fill="#547ec9"/>
<rect x="105.80" y="62.27" width="58.30" height="2.27" fill="#4d79c7"/>
<rect x="105.80" y="64.25" width="58.30" height="2.27" fill="#4573c4"/>
<rect x="105.80" y="66.22" width="58.30" height="2.27" fill="#4c78c7"/>
<rect x="105.80" y="68.19" width="58.30" height="2.27" fill="#5680ca"/>
<rect x="105.80" y="70.17" width="58.30" height="2.27" fill="#6c90d1"/>
<rect x="105.80" y="72.14" width="58.30" height="2.27" fill="#4e79c7"/>
<rect x="105.80" y="74.12" width="58.30" height="2.27" fill="#547ec9"/>
<rect x="105.80" y="76.09" width="58.30" height="2.27" fill="#7093d2"/>
<rect x="105.80" y="78.06" width="58.30" height="2.27" fill="#557fc9"/>
<rect x="105.80" y="80.04" width="58.30" height="2.27" fill="#4472c4"/>
<rect x="105.80" y="82.01" width="58.30" height="2.27" fill="#8ca8db"/>
<rect x="105.80" y="83.99" width="58.30" height="2.27" fill="#6d91d1"/>
<rect x="105.80" y="85.96" width="58.30" height="2.27" fill="#557fc9"/>
<rect x="105.80" y="87.94" width="58.30" height="2.27" fill="#527dc9"/>
<rect x="105.80" y="89.91" width="58.30" height="2.27" fill="#6d91d1"/>
<rect x="105.80" y="518.32" width="58.30" height="2.27" fill="#ffd24a"/>
<rect x="105.80" y="520.29" width="58.30" height="2.27" fill="#ffcf3d"/>
<rect x="105.80" y="522.26" width="58.30" height="2.27" fill="#ffcc30"/>
<rect x="105.80" y="524.24" width="58.30" height="2.27" fill="#ffcd35"/>
<rect x="105.80" y="526.21" width="58.30" height="2.27" fill="#ffcf3d"/>
<rect x="105.80" y="528.19" width="58.30" height="2.27" fill="#ffce38"/>
<rect x="105.80" y="530.16" width="58.30" height="2.27" fill="#ffca2a"/>
<rect x="105.80" y="532.14" width="58.30" height="2.27" fill="#ffcc2f"/>
<rect x="105.80" y="534.11" width="58.30" height="2.27" fill="#ffc925"/>
<rect x="105.80" y="536.08" width="58.30" height="2.27" fill="#ffc821"/>
<rect x="105.80" y="538.06" width="58.30" height="2.27" fill="#ffcb2b"/>
<rect x="105.80" y="540.03" width="58.30" height="2.27" fill="#ffc822"/>
<rect x="105.80" y="542.01" width="58.30" height="2.27" fill="#ffc71d"/>
<rect x="105.80" y="543.98" width="58.30" height="2.27" fill="#ffc820"/>
<rect x="105.80" y="545.95" width="58.30" height="2.27" fill="#ffca2a"/>
<rect x="105.80" y="547.93" width="58.30" height="2.27" fill="#ffc619"/>
<rect x="105.80" y="549.90" width="58.30" height="2.27" fill="#ffc619"/>
<rect x="105.80" y="551.88" width="58.30" height="2.27" fill="#ffc30d"/>
<rect x="105.80" y="553.85" width="58.30" height="2.27" fill="#ffc30b"/>
<rect x="105.80" y="555.83" width="58.30" height="1.97" fill="#ffc000"/>
<rect x="344.10" y="91.88" width="57.90" height="2.27" fill="#94aedd"/>
<rect x="344.10" y="93.86" width="57.90" height="2.27" fill="#8aa7da"/>
<rect x="344.10" y="95.83" width="57.90" height="2.27" fill="#97b1de"/>
<rect x="344.10" y="97.81" width="57.90" height="2.27" fill="#a6bce3"/>
<rect x="344.10" y="99.78" width="57.90" height="2.27" fill="#9eb6e0"/>
<rect x="344.10" y="101.76" width="57.90" height="2.27" fill="#9ab3df"/>
<rect x="344.10" y="103.73" width="57.90" height="2.27" fill="#92addd"/>
<rect x="344.10" y="105.70" width="57.90" height="2.27" fill="#86a3d9"/>
<rect x="344.10" y="107.68" width="57.90" height="2.27" fill="#7295d2"/>
<rect x="344.10" y="109.65" width="57.90" height="2.27" fill="#cad7ee"/>
<rect x="344.10" y="111.63" width="57.90" height="2.27" fill="#9bb3df"/>
<rect x="344.10" y="113.60" width="57.90" height="2.27" fill="#96b0de"/>
<rect x="344.10" y="115.57" width="57.90" height="2.27" fill="#a0b7e1"/>
<rect x="344.10" y="117.55" width="57.90" height="2.27" fill="#85a3d9"/>
<rect x="344.10" y="119.52" width="57.90" height="2.27" fill="#89a6da"/>
<rect x="344.10" y="121.50" width="57.90" height="2.27" fill="#b1c4e6"/>
<rect x="344.10" y="123.47" width="57.90" height="2.27" fill="#97b0de"/>
<rect x="344.10" y="125.45" width="57.90" height="2.27" fill="#9cb5e0"/>
<rect x="344.10" y="127.42" width="57.90" height="2.27" fill="#acc0e5"/>
<rect x="344.10" y="129.39" width="57.90" height="2.27" fill="#bfcfeb"/>
<rect x="344.10" y="131.37" width="57.90" height="2.27" fill="#b3c6e7"/>
<rect x="344.10" y="133.34" width="57.90" height="2.27" fill="#b3c6e7"/>
<rect x="344.10" y="135.32" width="57.90" height="2.27" fill="#b5c7e8"/>
<rect x="344.10" y="137.29" width="57.90" height="2.27" fill="#b7c9e8"/>
<rect x="344.10" y="139.27" width="57.90" height="2.27" fill="#b8c9e8"/>
<rect x="344.10" y="141.24" width="57.90" height="2.27" fill="#acc1e5"/>
<rect x="344.10" y="143.21" width="57.90" height="2.27" fill="#b8c9e9"/>
<rect x="344.10" y="145.19" width="57.90" height="2.27" fill="#b4c6e7"/>
<rect x="344.10" y="147.16" width="57.90" height="2.27" fill="#c1d0eb"/>
<rect x="344.10" y="149.14" width="57.90" height="2.27" fill="#a0b7e1"/>
<rect x="344.10" y="151.11" width="57.90" height="2.27" fill="#b5c7e8"/>
<rect x="344.10" y="153.09" width="57.90" height="2.27" fill="#a0b7e1"/>
<rect x="344.10" y="155.06" width="57.90" height="2.27" fill="#c1d0ec"/>
<rect x="344.10" y="157.03" width="57.90" height="2.27" fill="#b8cae9"/>
<rect x="344.10" y="159.01" width="57.90" height="2.27" fill="#b6c8e8"/>
<rect x="344.10" y="160.98" width="57.90" height="2.27" fill="#acc0e5"/>
<rect x="344.10" y="162.96" width="57.90" height="2.27" fill="#dfe7f5"/>
<rect x="344.10" y="164.93" width="57.90" height="2.27" fill="#c6d4ed"/>
<rect x="344.10" y="166.90" width="57.90" height="2.27" fill="#a7bde3"/>
<rect x="344.10" y="168.88" width="57.90" height="2.27" fill="#abc0e5"/>
<rect x="344.10" y="170.85" width="57.90" height="2.27" fill="#b6c8e8"/>
<rect x="344.10" y="172.83" width="57.90" height="2.27" fill="#b6c8e8"/>
<rect x="344.10" y="174.80" width="57.90" height="2.27" fill="#bdcdea"/>
<rect x="344.10" y="176.78" width="57.90" height="2.27" fill="#bacbe9"/>
<rect x="344.10" y="178.75" width="57.90" height="2.27" fill="#b6c8e8"/>
<rect x="344.10" y="180.72" width="57.90" height="2.27" fill="#c3d2ec"/>
<rect x="344.10" y="182.70" width="57.90" height="2.27" fill="#dce4f4"/>
<rect x="344.10" y="184.67" width="57.90" height="2.27" fill="#dde5f4"/>
<rect x="344.10" y="186.65" width="57.90" height="2.27" fill="#cbd8ef"/>
<rect x="344.10" y="188.62" width="57.90" height="2.27" fill="#cfdbf0"/>
<rect x="344.10" y="190.60" width="57.90" height="2.27" fill="#c4d3ec"/>
<rect x="344.10" y="192.57" width="57.90" height="2.27" fill="#c8d5ee"/>
<rect x="344.10" y="194.54" width="57.90" height="2.27" fill="#d6e0f2"/>
<rect x="344.10" y="196.52" width="57.90" height="2.27" fill="#d2ddf1"/>
<rect x="344.10" y="198.49" width="57.90" height="2.27" fill="#cfdbf0"/>
<rect x="344.10" y="200.47" width="57.90" height="2.27" fill="#cad7ee"/>
<rect x="344.10" y="202.44" width="57.90" height="2.27" fill="#c0cfeb"/>
<rect x="344.10" y="204.41" width="57.90" height="2.27" fill="#d6e0f2"/>
<rect x="344.10" y="206.39" width="57.90" height="2.27" fill="#ccd9ef"/>
<rect x="344.10" y="208.36" width="57.90" height="2.27" fill="#d1ddf1"/>
<rect x="344.10" y="210.34" width="57.90" height="2.27" fill="#c6d4ed"/>
<rect x="344.10" y="212.31" width="57.90" height="2.27" fill="#d6e0f2"/>
<rect x="344.10" y="214.29" width="57.90" height="2.27" fill="#c9d6ee"/>
<rect x="344.10" y="216.26" width="57.90" height="2.27" fill="#f4f7fc"/>
<rect x="344.10" y="218.23" width="57.90" height="2.27" fill="#eef2fa"/>
<rect x="344.10" y="220.21" width="57.90" height="2.27" fill="#ebf0f9"/>
<rect x="344.10" y="222.18" width="57.90" height="2.27" fill="#e3eaf6"/>
<rect x="344.10" y="224.16" width="57.90" height="2.27" fill="#dfe7f5"/>
<rect x="344.10" y="226.13" width="57.90" height="2.27" fill="#dce5f4"/>
<rect x="344.10" y="228.11" width="57.90" height="2.27" fill="#dde5f4"/>
<rect x="344.10" y="230.08" width="57.90" height="2.27" fill="#e5ebf7"/>
<rect x="344.10" y="232.05" width="57.90" height="2.27" fill="#dae3f3"/>
<rect x="344.10" y="234.03" width="57.90" height="2.27" fill="#e3eaf6"/>
<rect x="344.10" y="236.00" width="57.90" height="2.27" fill="#e4ebf7"/>
<rect x="344.10" y="237.98" width="57.90" height="2.27" fill="#e0e7f5"/>
<rect x="344.10" y="239.95" width="57.90" height="2.27" fill="#e0e7f5"/>
<rect x="344.10" y="241.92" width="57.90" height="2.27" fill="#e2e9f6"/>
<rect x="344.10" y="243.90" width="57.90" height="2.27" fill="#e1e8f6"/>
<rect x="344.10" y="245.87" width="57.90" height="2.27" fill="#ffecb0"/>
<rect x="344.10" y="247.85" width="57.90" height="2.27" fill="#e0e8f5"/>
<rect x="344.10" y="249.82" width="57.90" height="2.27" fill="#e4ebf7"/>
<rect x="344.10" y="251.80" width="57.90" height="2.27" fill="#e1e8f6"/>
<rect x="344.10" y="253.77" width="57.90" height="2.27" fill="#f4f6fb"/>
<rect x="344.10" y="255.74" width="57.90" height="2.27" fill="#f3f6fb"/>
<rect x="344.10" y="257.72" width="57.90" height="2.27" fill="#f2f5fb"/>
<rect x="344.10" y="259.69" width="57.90" height="2.27" fill="#eff3fa"/>
<rect x="344.10" y="261.67" width="57.90" height="2.27" fill="#e9eff8"/>
<rect x="344.10" y="263.64" width="57.90" height="2.27" fill="#e9eef8"/>
<rect x="344.10" y="265.62" width="57.90" height="2.27" fill="#e7edf7"/>
<rect x="344.10" y="267.59" width="57.90" height="2.27" fill="#e2e9f6"/>
<rect x="344.10" y="269.56" width="57.90" height="2.27" fill="#e4ebf6"/>
<rect x="344.10" y="271.54" width="57.90" height="2.27" fill="#e7edf7"/>
<rect x="344.10" y="273.51" width="57.90" height="2.27" fill="#e9eef8"/>
<rect x="344.10" y="275.49" width="57.90" height="2.27" fill="#fbfcfe"/>
<rect x="344.10" y="277.46" width="57.90" height="2.27" fill="#f9fafd"/>
<rect x="344.10" y="279.44" width="57.90" height="2.27" fill="#fbfcfe"/>
<rect x="344.10" y="281.41" width="57.90" height="2.27" fill="#ffd862"/>
<rect x="344.10" y="283.38" width="57.90" height="2.27" fill="#fbfcfe"/>
<rect x="344.10" y="285.36" width="57.90" height="2.27" fill="#fbfcfe"/>
<rect x="344.10" y="287.33" width="57.90" height="2.27" fill="#fbfcfe"/>
<rect x="344.10" y="289.31" width="57.90" height="2.27" fill="#fbfcfe"/>
<rect x="344.10" y="291.28" width="57.90" height="2.27" fill="#fbfcfe"/>
<rect x="344.10" y="293.25" width="57.90" height="2.27" fill="#fff2c9"/>
<rect x="344.10" y="295.23" width="57.90" height="2.27" fill="#f7f9fc"/>
<rect x="344.10" y="297.20" width="57.90" height="2.27" fill="#fafbfd"/>
<rect x="344.10" y="299.18" width="57.90" height="2.27" fill="#fafbfd"/>
<rect x="344.10" y="301.15" width="57.90" height="2.27" fill="#f8fafd"/>
<rect x="344.10" y="303.13" width="57.90" height="2.27" fill="#fff4d3"/>
<rect x="344.10" y="305.10" width="57.90" height="2.27" fill="#fcfdfe"/>
<rect x="344.10" y="307.07" width="57.90" height="2.27" fill="#fcfdfe"/>
<rect x="344.10" y="309.05" width="57.90" height="2.27" fill="#fdfdfe"/>
<rect x="344.10" y="311.02" width="57.90" height="2.27" fill="#fbfcfe"/>
<rect x="344.10" y="313.00" width="57.90" height="2.27" fill="#fcfdfe"/>
<rect x="344.10" y="314.97" width="57.90" height="2.27" fill="#fcfdfe"/>
<rect x="344.10" y="316.95" width="57.90" height="2.27" fill="#fcfdfe"/>
<rect x="344.10" y="318.92" width="57.90" height="2.27" fill="#ffe597"/>
<rect x="344.10" y="320.89" width="57.90" height="2.27" fill="#ffffff"/>
<rect x="344.10" y="322.87" width="57.90" height="2.27" fill="#ffecb2"/>
<rect x="344.10" y="324.84" width="57.90" height="2.27" fill="#ffecb2"/>
<rect x="344.10" y="326.82" width="57.90" height="2.27" fill="#ffedb4"/>
<rect x="344.10" y="328.79" width="57.90" height="2.27" fill="#fefeff"/>
<rect x="344.10" y="330.76" width="57.90" height="2.27" fill="#ffebac"/>
<rect x="344.10" y="332.74" width="57.90" height="2.27" fill="#ffefbe"/>
<rect x="344.10" y="334.71" width="57.90" height="2.27" fill="#fffbef"/>
<rect x="344.10" y="336.69" width="57.90" height="2.27" fill="#fff1c6"/>
<rect x="344.10" y="338.66" width="57.90" height="2.27" fill="#fff0c1"/>
<rect x="344.10" y="340.64" width="57.90" height="2.27" fill="#ffefbe"/>
<rect x="344.10" y="342.61" width="57.90" height="2.27" fill="#fffbef"/>
<rect x="344.10" y="344.58" width="57.90" height="2.27" fill="#fff1c4"/>
<rect x="344.10" y="346.56" width="57.90" height="2.27" fill="#ffeebb"/>
<rect x="344.10" y="348.53" width="57.90" height="2.27" fill="#fffdf6"/>
<rect x="344.10" y="350.51" width="57.90" height="2.27" fill="#ffeaa9"/>
<rect x="344.10" y="352.48" width="57.90" height="2.27" fill="#ffecb3"/>
<rect x="344.10" y="354.46" width="57.90" height="2.27" fill="#ffecb3"/>
<rect x="344.10" y="356.43" width="57.90" height="2.27" fill="#ffebac"/>
<rect x="344.10" y="358.40" width="57.90" height="2.27" fill="#ffecb3"/>
<rect x="344.10" y="360.38" width="57.90" height="2.27" fill="#ffecb1"/>
<rect x="344.10" y="362.35" width="57.90" height="2.27" fill="#ffe79e"/>
<rect x="344.10" y="364.33" width="57.90" height="2.27" fill="#ffe9a7"/>
<rect x="344.10" y="366.30" width="57.90" height="2.27" fill="#ffebad"/>
<rect x="344.10" y="368.27" width="57.90" height="2.27" fill="#ffe8a2"/>
<rect x="344.10" y="370.25" width="57.90" height="2.27" fill="#ffebaf"/>
<rect x="344.10" y="372.22" width="57.90" height="2.27" fill="#ffe69b"/>
<rect x="344.10" y="374.20" width="57.90" height="2.27" fill="#ffebac"/>
<rect x="344.10" y="376.17" width="57.90" height="2.27" fill="#ffeebc"/>
<rect x="344.10" y="378.15" width="57.90" height="2.27" fill="#ffdf7c"/>
<rect x="344.10" y="380.12" width="57.90" height="2.27" fill="#ffe79e"/>
<rect x="344.10" y="382.09" width="57.90" height="2.27" fill="#ffe081"/>
<rect x="344.10" y="384.07" width="57.90" height="2.27" fill="#ffe596"/>
<rect x="344.10" y="386.04" width="57.90" height="2.27" fill="#ffe79e"/>
<rect x="344.10" y="388.02" width="57.90" height="2.27" fill="#ffe79d"/>
<rect x="344.10" y="389.99" width="57.90" height="2.27" fill="#ffe79f"/>
<rect x="344.10" y="391.97" width="57.90" height="2.27" fill="#ffe490"/>
<rect x="344.10" y="393.94" width="57.90" height="2.27" fill="#ffe38c"/>
<rect x="344.10" y="395.91" width="57.90" height="2.27" fill="#ffda6a"/>
<rect x="344.10" y="397.89" width="57.90" height="2.27" fill="#ffe491"/>
<rect x="344.10" y="399.86" width="57.90" height="2.27" fill="#ffdf7c"/>
<rect x="344.10" y="401.84" width="57.90" height="2.27" fill="#ffe69b"/>
<rect x="344.10" y="403.81" width="57.90" height="2.27" fill="#ffe083"/>
<rect x="344.10" y="405.79" width="57.90" height="2.27" fill="#ffc71e"/>
<rect x="344.10" y="407.76" width="57.90" height="2.27" fill="#ffde7a"/>
<rect x="344.10" y="409.73" width="57.90" height="2.27" fill="#ffd863"/>
<rect x="344.10" y="411.71" width="57.90" height="2.27" fill="#ffdc73"/>
<rect x="344.10" y="413.68" width="57.90" height="2.27" fill="#ffd75d"/>
<rect x="344.10" y="415.66" width="57.90" height="2.27" fill="#ffdc73"/>
<rect x="344.10" y="417.63" width="57.90" height="2.27" fill="#ffe595"/>
<rect x="344.10" y="419.60" width="57.90" height="2.27" fill="#ffde7a"/>
<rect x="344.10" y="421.58" width="57.90" height="2.27" fill="#ffdc72"/>
<rect x="344.10" y="423.55" width="57.90" height="2.27" fill="#ffdf7f"/>
<rect x="344.10" y="425.53" width="57.90" height="2.27" fill="#ffd967"/>
<rect x="344.10" y="427.50" width="57.90" height="2.27" fill="#ffd659"/>
<rect x="344.10" y="429.48" width="57.90" height="2.27" fill="#ffd65a"/>
<rect x="344.10" y="431.45" width="57.90" height="2.27" fill="#ffdd77"/>
<rect x="344.10" y="433.42" width="57.90" height="2.27" fill="#ffdd73"/>
<rect x="344.10" y="435.40" width="57.90" height="2.27" fill="#ffdc72"/>
<rect x="344.10" y="437.37" width="57.90" height="2.27" fill="#ffd75c"/>
<rect x="344.10" y="439.35" width="57.90" height="2.27" fill="#ffe38d"/>
<rect x="344.10" y="441.32" width="57.90" height="2.27" fill="#ffdd77"/>
<rect x="344.10" y="443.30" width="57.90" height="2.27" fill="#ffdd76"/>
<rect x="344.10" y="445.27" width="57.90" height="2.27" fill="#ffe084"/>
<rect x="344.10" y="447.24" width="57.90" height="2.27" fill="#ffd450"/>
<rect x="344.10" y="449.22" width="57.90" height="2.27" fill="#ffcd37"/>
<rect x="344.10" y="451.19" width="57.90" height="2.27" fill="#ffcd33"/>
<rect x="344.10" y="453.17" width="57.90" height="2.27" fill="#ffcd33"/>
<rect x="344.10" y="455.14" width="57.90" height="2.27" fill="#ffcd36"/>
<rect x="344.10" y="457.11" width="57.90" height="2.27" fill="#ffcc31"/>
<rect x="344.10" y="459.09" width="57.90" height="2.27" fill="#ffce38"/>
<rect x="344.10" y="461.06" width="57.90" height="2.27" fill="#ffc821"/>
<rect x="344.10" y="463.04" width="57.90" height="2.27" fill="#ffcc32"/>
<rect x="344.10" y="465.01" width="57.90" height="2.27" fill="#ffc922"/>
<rect x="344.10" y="466.99" width="57.90" height="2.27" fill="#ffcd35"/>
<rect x="344.10" y="468.96" width="57.90" height="2.27" fill="#ffc923"/>
<rect x="344.10" y="470.93" width="57.90" height="2.27" fill="#ffcd35"/>
<rect x="344.10" y="472.91" width="57.90" height="2.27" fill="#ffce3a"/>
<rect x="344.10" y="474.88" width="57.90" height="2.27" fill="#ffcd33"/>
<rect x="344.10" y="476.86" width="57.90" height="2.27" fill="#ffcc32"/>
<rect x="344.10" y="478.83" width="57.90" height="2.27" fill="#ffcf3e"/>
<rect x="344.10" y="480.81" width="57.90" height="2.27" fill="#ffca27"/>
<rect x="344.10" y="482.78" width="57.90" height="2.27" fill="#ffcd36"/>
<rect x="344.10" y="484.75" width="57.90" height="2.27" fill="#ffca27"/>
<rect x="344.10" y="486.73" width="57.90" height="2.27" fill="#ffcd33"/>
<rect x="344.10" y="488.70" width="57.90" height="2.27" fill="#ffca27"/>
<rect x="344.10" y="490.68" width="57.90" height="2.27" fill="#ffc820"/>
<rect x="344.10" y="492.65" width="57.90" height="2.27" fill="#ffc40e"/>
<rect x="344.10" y="494.62" width="57.90" height="2.27" fill="#ffc71a"/>
<rect x="344.10" y="496.60" width="57.90" height="2.27" fill="#ffc71d"/>
<rect x="344.10" y="498.57" width="57.90" height="2.27" fill="#ffc618"/>
<rect x="344.10" y="500.55" width="57.90" height="2.27" fill="#ffc512"/>
<rect x="344.10" y="502.52" width="57.90" height="2.27" fill="#ffcc32"/>
<rect x="344.10" y="504.50" width="57.90" height="2.27" fill="#ffc71d"/>
<rect x="344.10" y="506.47" width="57.90" height="2.27" fill="#ffc515"/>
<rect x="344.10" y="508.44" width="57.90" height="2.27" fill="#ffc514"/>
<rect x="344.10" y="510.42" width="57.90" height="2.27" fill="#ffc820"/>
<rect x="344.10" y="512.39" width="57.90" height="2.27" fill="#ffc926"/>
<rect x="344.10" y="514.37" width="57.90" height="2.27" fill="#ffc514"/>
<rect x="344.10" y="516.34" width="57.90" height="2.27" fill="#ffce37"/>
<rect x="344.10" y="52.40" width="57.90" height="2.27" fill="#4472c4"/>
<rect x="344.10" y="54.37" width="57.90" height="2.27" fill="#4a77c6"/>
<rect x="344.10" y="56.35" width="57.90" height="2.27" fill="#6288cd"/>
<rect x="344.10" y="58.32" width="57.90" height="2.27" fill="#8aa7da"/>
<rect x="344.10" y="60.30" width="57.90" height="2.27" fill="#5f86cc"/>
<rect x="344.10" y="62.27" width="57.90" height="2.27" fill="#4875c5"/>
<rect x="344.10" y="64.25" width="57.90" height="2.27" fill="#4775c5"/>
<rect x="344.10" y="66.22" width="57.90" height="2.27" fill="#5881ca"/>
<rect x="344.10" y="68.19" width="57.90" height="2.27" fill="#86a4d9"/>
<rect x="344.10" y="70.17" width="57.90" height="2.27" fill="#a5bbe3"/>
<rect x="344.10" y="72.14" width="57.90" height="2.27" fill="#7496d3"/>
<rect x="344.10" y="74.12" width="57.90" height="2.27" fill="#6c90d1"/>
<rect x="344.10" y="76.09" width="57.90" height="2.27" fill="#7294d2"/>
<rect x="344.10" y="78.06" width="57.90" height="2.27" fill="#86a4d9"/>
<rect x="344.10" y="80.04" width="57.90" height="2.27" fill="#698ed0"/>
<rect x="344.10" y="82.01" width="57.90" height="2.27" fill="#6a8fd0"/>
<rect x="344.10" y="83.99" width="57.90" height="2.27" fill="#8eaadb"/>
<rect x="344.10" y="85.96" width="57.90" height="2.27" fill="#8ba7da"/>
<rect x="344.10" y="87.94" width="57.90" height="2.27" fill="#86a4d9"/>
<rect x="344.10" y="89.91" width="57.90" height="2.27" fill="#9db5e0"/>
<rect x="344.10" y="518.32" width="57.90" height="2.27" fill="#ffc412"/>
<rect x="344.10" y="520.29" width="57.90" height="2.27" fill="#ffc206"/>
<rect x="344.10" y="522.26" width="57.90" height="2.27" fill="#ffc411"/>
<rect x="344.10" y="524.24" width="57.90" height="2.27" fill="#ffc411"/>
<rect x="344.10" y="526.21" width="57.90" height="2.27" fill="#ffc30e"/>
<rect x="344.10" y="528.19" width="57.90" height="2.27" fill="#ffc206"/>
<rect x="344.10" y="530.16" width="57.90" height="2.27" fill="#ffc208"/>
<rect x="344.10" y="532.14" width="57.90" height="2.27" fill="#ffc30c"/>
<rect x="344.10" y="534.11" width="57.90" height="2.27" fill="#ffc207"/>
<rect x="344.10" y="536.08" width="57.90" height="2.27" fill="#ffc208"/>
<rect x="344.10" y="538.06" width="57.90" height="2.27" fill="#ffc206"/>
<rect x="344.10" y="540.03" width="57.90" height="2.27" fill="#ffc105"/>
<rect x="344.10" y="542.01" width="57.90" height="2.27" fill="#ffc103"/>
<rect x="344.10" y="543.98" width="57.90" height="2.27" fill="#ffc105"/>
<rect x="344.10" y="545.95" width="57.90" height="2.27" fill="#ffc20a"/>
<rect x="344.10" y="547.93" width="57.90" height="2.27" fill="#ffc103"/>
<rect x="344.10" y="549.90" width="57.90" height="2.27" fill="#ffc000"/>
<rect x="344.10" y="551.88" width="57.90" height="2.27" fill="#ffc206"/>
<rect x="344.10" y="553.85" width="57.90" height="2.27" fill="#ffc104"/>
<rect x="344.10" y="555.83" width="57.90" height="1.97" fill="#ffc206"/>
<rect x="402.00" y="91.88" width="58.20" height="2.27" fill="#89a6da"/>
<rect x="402.00" y="93.86" width="58.20" height="2.27" fill="#82a0d7"/>
<rect x="402.00" y="95.83" width="58.20" height="2.27" fill="#89a6da"/>
<rect x="402.00" y="97.81" width="58.20" height="2.27" fill="#98b1df"/>
<rect x="402.00" y="99.78" width="58.20" height="2.27" fill="#7e9dd6"/>
<rect x="402.00" y="101.76" width="58.20" height="2.27" fill="#97b0de"/>
<rect x="402.00" y="103.73" width="58.20" height="2.27" fill="#92addd"/>
<rect x="402.00" y="105.70" width="58.20" height="2.27" fill="#8ca8db"/>
<rect x="402.00" y="107.68" width="58.20" height="2.27" fill="#90abdc"/>
<rect x="402.00" y="109.65" width="58.20" height="2.27" fill="#4472c4"/>
<rect x="402.00" y="111.63" width="58.20" height="2.27" fill="#95afde"/>
<rect x="402.00" y="113.60" width="58.20" height="2.27" fill="#a8bee4"/>
<rect x="402.00" y="115.57" width="58.20" height="2.27" fill="#8faadc"/>
<rect x="402.00" y="117.55" width="58.20" height="2.27" fill="#adc1e5"/>
<rect x="402.00" y="119.52" width="58.20" height="2.27" fill="#a6bce3"/>
<rect x="402.00" y="121.50" width="58.20" height="2.27" fill="#809fd7"/>
<rect x="402.00" y="123.47" width="58.20" height="2.27" fill="#9ab3df"/>
<rect x="402.00" y="125.45" width="58.20" height="2.27" fill="#9eb6e0"/>
<rect x="402.00" y="127.42" width="58.20" height="2.27" fill="#7d9dd6"/>
<rect x="402.00" y="129.39" width="58.20" height="2.27" fill="#b0c3e6"/>
<rect x="402.00" y="131.37" width="58.20" height="2.27" fill="#a2b9e2"/>
<rect x="402.00" y="133.34" width="58.20" height="2.27" fill="#bacbe9"/>
<rect x="402.00" y="135.32" width="58.20" height="2.27" fill="#b5c7e8"/>
<rect x="402.00" y="137.29" width="58.20" height="2.27" fill="#adc1e5"/>
<rect x="402.00" y="139.27" width="58.20" height="2.27" fill="#b6c8e8"/>
<rect x="402.00" y="141.24" width="58.20" height="2.27" fill="#a9bee4"/>
<rect x="402.00" y="143.21" width="58.20" height="2.27" fill="#a5bbe2"/>
<rect x="402.00" y="145.19" width="58.20" height="2.27" fill="#bdcdea"/>
<rect x="402.00" y="147.16" width="58.20" height="2.27" fill="#9db5e0"/>
<rect x="402.00" y="149.14" width="58.20" height="2.27" fill="#b8c9e9"/>
<rect x="402.00" y="151.11" width="58.20" height="2.27" fill="#acc1e5"/>
<rect x="402.00" y="153.09" width="58.20" height="2.27" fill="#a3b9e2"/>
<rect x="402.00" y="155.06" width="58.20" height="2.27" fill="#afc2e6"/>
<rect x="402.00" y="157.03" width="58.20" height="2.27" fill="#aec2e5"/>
<rect x="402.00" y="159.01" width="58.20" height="2.27" fill="#b4c7e7"/>
<rect x="402.00" y="160.98" width="58.20" height="2.27" fill="#9cb5e0"/>
<rect x="402.00" y="162.96" width="58.20" height="2.27" fill="#afc2e6"/>
<rect x="402.00" y="164.93" width="58.20" height="2.27" fill="#b9cbe9"/>
<rect x="402.00" y="166.90" width="58.20" height="2.27" fill="#cedaf0"/>
<rect x="402.00" y="168.88" width="58.20" height="2.27" fill="#bbccea"/>
<rect x="402.00" y="170.85" width="58.20" height="2.27" fill="#b6c8e8"/>
<rect x="402.00" y="172.83" width="58.20" height="2.27" fill="#c1d0eb"/>
<rect x="402.00" y="174.80" width="58.20" height="2.27" fill="#b6c8e8"/>
<rect x="402.00" y="176.78" width="58.20" height="2.27" fill="#c5d3ed"/>
<rect x="402.00" y="178.75" width="58.20" height="2.27" fill="#abc0e4"/>
<rect x="402.00" y="180.72" width="58.20" height="2.27" fill="#c1d0eb"/>
<rect x="402.00" y="182.70" width="58.20" height="2.27" fill="#c6d4ed"/>
<rect x="402.00" y="184.67" width="58.20" height="2.27" fill="#ccd8ef"/>
<rect x="402.00" y="186.65" width="58.20" height="2.27" fill="#c7d5ed"/>
<rect x="402.00" y="188.62" width="58.20" height="2.27" fill="#cad7ee"/>
<rect x="402.00" y="190.60" width="58.20" height="2.27" fill="#c9d6ee"/>
<rect x="402.00" y="192.57" width="58.20" height="2.27" fill="#c8d5ee"/>
<rect x="402.00" y="194.54" width="58.20" height="2.27" fill="#c8d5ee"/>
<rect x="402.00" y="196.52" width="58.20" height="2.27" fill="#c2d1ec"/>
<rect x="402.00" y="198.49" width="58.20" height="2.27" fill="#c6d4ed"/>
<rect x="402.00" y="200.47" width="58.20" height="2.27" fill="#cbd8ee"/>
<rect x="402.00" y="202.44" width="58.20" height="2.27" fill="#c7d5ed"/>
<rect x="402.00" y="204.41" width="58.20" height="2.27" fill="#beceea"/>
<rect x="402.00" y="206.39" width="58.20" height="2.27" fill="#c4d2ec"/>
<rect x="402.00" y="208.36" width="58.20" height="2.27" fill="#cbd8ef"/>
<rect x="402.00" y="210.34" width="58.20" height="2.27" fill="#c3d2ec"/>
<rect x="402.00" y="212.31" width="58.20" height="2.27" fill="#bdcdea"/>
<rect x="402.00" y="214.29" width="58.20" height="2.27" fill="#dee6f5"/>
<rect x="402.00" y="216.26" width="58.20" height="2.27" fill="#b5c7e8"/>
<rect x="402.00" y="218.23" width="58.20" height="2.27" fill="#d5dff2"/>
<rect x="402.00" y="220.21" width="58.20" height="2.27" fill="#cedaef"/>
<rect x="402.00" y="222.18" width="58.20" height="2.27" fill="#d3def1"/>
<rect x="402.00" y="224.16" width="58.20" height="2.27" fill="#d7e1f2"/>
<rect x="402.00" y="226.13" width="58.20" height="2.27" fill="#d7e1f2"/>
<rect x="402.00" y="228.11" width="58.20" height="2.27" fill="#d2ddf1"/>
<rect x="402.00" y="230.08" width="58.20" height="2.27" fill="#dbe4f4"/>
<rect x="402.00" y="232.05" width="58.20" height="2.27" fill="#d0dbf0"/>
<rect x="402.00" y="234.03" width="58.20" height="2.27" fill="#d7e1f2"/>
<rect x="402.00" y="236.00" width="58.20" height="2.27" fill="#d7e1f3"/>
<rect x="402.00" y="237.98" width="58.20" height="2.27" fill="#dce5f4"/>
<rect x="402.00" y="239.95" width="58.20" height="2.27" fill="#e3eaf6"/>
<rect x="402.00" y="241.92" width="58.20" height="2.27" fill="#d4dff1"/>
<rect x="402.00" y="243.90" width="58.20" height="2.27" fill="#e1e9f6"/>
<rect x="402.00" y="245.87" width="58.20" height="2.27" fill="#c7d5ed"/>
<rect x="402.00" y="247.85" width="58.20" height="2.27" fill="#e1e8f6"/>
<rect x="402.00" y="249.82" width="58.20" height="2.27" fill="#dde5f4"/>
<rect x="402.00" y="251.80" width="58.20" height="2.27" fill="#e2e9f6"/>
<rect x="402.00" y="253.77" width="58.20" height="2.27" fill="#e4ebf6"/>
<rect x="402.00" y="255.74" width="58.20" height="2.27" fill="#e4eaf6"/>
<rect x="402.00" y="257.72" width="58.20" height="2.27" fill="#dce4f4"/>
<rect x="402.00" y="259.69" width="58.20" height="2.27" fill="#e3eaf6"/>
<rect x="402.00" y="261.67" width="58.20" height="2.27" fill="#e7edf8"/>
<rect x="402.00" y="263.64" width="58.20" height="2.27" fill="#dce5f4"/>
<rect x="402.00" y="265.62" width="58.20" height="2.27" fill="#e3eaf6"/>
<rect x="402.00" y="267.59" width="58.20" height="2.27" fill="#dbe4f4"/>
<rect x="402.00" y="269.56" width="58.20" height="2.27" fill="#e1e8f5"/>
<rect x="402.00" y="271.54" width="58.20" height="2.27" fill="#e7edf7"/>
<rect x="402.00" y="273.51" width="58.20" height="2.27" fill="#f0f4fa"/>
<rect x="402.00" y="275.49" width="58.20" height="2.27" fill="#f1f5fb"/>
<rect x="402.00" y="277.46" width="58.20" height="2.27" fill="#eef2fa"/>
<rect x="402.00" y="279.44" width="58.20" height="2.27" fill="#f0f3fa"/>
<rect x="402.00" y="281.41" width="58.20" height="2.27" fill="#dbe4f4"/>
<rect x="402.00" y="283.38" width="58.20" height="2.27" fill="#fbfcfe"/>
<rect x="402.00" y="285.36" width="58.20" height="2.27" fill="#fafbfd"/>
<rect x="402.00" y="287.33" width="58.20" height="2.27" fill="#fafcfe"/>
<rect x="402.00" y="289.31" width="58.20" height="2.27" fill="#f9fbfd"/>
<rect x="402.00" y="291.28" width="58.20" height="2.27" fill="#fbfcfe"/>
<rect x="402.00" y="293.25" width="58.20" height="2.27" fill="#f9fbfd"/>
<rect x="402.00" y="295.23" width="58.20" height="2.27" fill="#fafbfd"/>
<rect x="402.00" y="297.20" width="58.20" height="2.27" fill="#fafbfe"/>
<rect x="402.00" y="299.18" width="58.20" height="2.27" fill="#fafbfd"/>
<rect x="402.00" y="301.15" width="58.20" height="2.27" fill="#f9fafd"/>
<rect x="402.00" y="303.13" width="58.20" height="2.27" fill="#fbfcfe"/>
<rect x="402.00" y="305.10" width="58.20" height="2.27" fill="#fafbfd"/>
<rect x="402.00" y="307.07" width="58.20" height="2.27" fill="#f9fafd"/>
<rect x="402.00" y="309.05" width="58.20" height="2.27" fill="#fbfcfe"/>
<rect x="402.00" y="311.02" width="58.20" height="2.27" fill="#fff3cd"/>
<rect x="402.00" y="313.00" width="58.20" height="2.27" fill="#fff2cb"/>
<rect x="402.00" y="314.97" width="58.20" height="2.27" fill="#fff5d8"/>
<rect x="402.00" y="316.95" width="58.20" height="2.27" fill="#fff3cf"/>
<rect x="402.00" y="318.92" width="58.20" height="2.27" fill="#fff2cc"/>
<rect x="402.00" y="320.89" width="58.20" height="2.27" fill="#fff3cd"/>
<rect x="402.00" y="322.87" width="58.20" height="2.27" fill="#fff3cd"/>
<rect x="402.00" y="324.84" width="58.20" height="2.27" fill="#fff6db"/>
<rect x="402.00" y="326.82" width="58.20" height="2.27" fill="#fff3cd"/>
<rect x="402.00" y="328.79" width="58.20" height="2.27" fill="#fff2cb"/>
<rect x="402.00" y="330.76" width="58.20" height="2.27" fill="#fff5d5"/>
<rect x="402.00" y="332.74" width="58.20" height="2.27" fill="#fff9e6"/>
<rect x="402.00" y="334.71" width="58.20" height="2.27" fill="#fff5d8"/>
<rect x="402.00" y="336.69" width="58.20" height="2.27" fill="#fff8e1"/>
<rect x="402.00" y="338.66" width="58.20" height="2.27" fill="#fff6dc"/>
<rect x="402.00" y="340.64" width="58.20" height="2.27" fill="#fff6da"/>
<rect x="402.00" y="342.61" width="58.20" height="2.27" fill="#fff8e1"/>
<rect x="402.00" y="344.58" width="58.20" height="2.27" fill="#fff5d7"/>
<rect x="402.00" y="346.56" width="58.20" height="2.27" fill="#fff7e0"/>
<rect x="402.00" y="348.53" width="58.20" height="2.27" fill="#ffe490"/>
<rect x="402.00" y="350.51" width="58.20" height="2.27" fill="#ffe8a3"/>
<rect x="402.00" y="352.48" width="58.20" height="2.27" fill="#ffe79c"/>
<rect x="402.00" y="354.46" width="58.20" height="2.27" fill="#ffe9a7"/>
<rect x="402.00" y="356.43" width="58.20" height="2.27" fill="#ffeaab"/>
<rect x="402.00" y="358.40" width="58.20" height="2.27" fill="#ffedb7"/>
<rect x="402.00" y="360.38" width="58.20" height="2.27" fill="#ffecb4"/>
<rect x="402.00" y="362.35" width="58.20" height="2.27" fill="#ffedb7"/>
<rect x="402.00" y="364.33" width="58.20" height="2.27" fill="#ffe8a3"/>
<rect x="402.00" y="366.30" width="58.20" height="2.27" fill="#ffecb0"/>
<rect x="402.00" y="368.27" width="58.20" height="2.27" fill="#ffefbf"/>
<rect x="402.00" y="370.25" width="58.20" height="2.27" fill="#fff1c5"/>
<rect x="402.00" y="372.22" width="58.20" height="2.27" fill="#ffe8a1"/>
<rect x="402.00" y="374.20" width="58.20" height="2.27" fill="#ffebb0"/>
<rect x="402.00" y="376.17" width="58.20" height="2.27" fill="#ffedb5"/>
<rect x="402.00" y="378.15" width="58.20" height="2.27" fill="#ffe69a"/>
<rect x="402.00" y="380.12" width="58.20" height="2.27" fill="#ffe699"/>
<rect x="402.00" y="382.09" width="58.20" height="2.27" fill="#ffe38f"/>
<rect x="402.00" y="384.07" width="58.20" height="2.27" fill="#ffe595"/>
<rect x="402.00" y="386.04" width="58.20" height="2.27" fill="#ffe9a5"/>
<rect x="402.00" y="388.02" width="58.20" height="2.27" fill="#ffe595"/>
<rect x="402.00" y="389.99" width="58.20" height="2.27" fill="#ffe289"/>
<rect x="402.00" y="391.97" width="58.20" height="2.27" fill="#ffe492"/>
<rect x="402.00" y="393.94" width="58.20" height="2.27" fill="#ffe490"/>
<rect x="402.00" y="395.91" width="58.20" height="2.27" fill="#ffe8a4"/>
<rect x="402.00" y="397.89" width="58.20" height="2.27" fill="#ffe081"/>
<rect x="402.00" y="399.86" width="58.20" height="2.27" fill="#ffe493"/>
<rect x="402.00" y="401.84" width="58.20" height="2.27" fill="#ffe597"/>
<rect x="402.00" y="403.81" width="58.20" height="2.27" fill="#ffe9a6"/>
<rect x="402.00" y="405.79" width="58.20" height="2.27" fill="#ffe7a0"/>
<rect x="402.00" y="407.76" width="58.20" height="2.27" fill="#ffe38d"/>
<rect x="402.00" y="409.73" width="58.20" height="2.27" fill="#ffe494"/>
<rect x="402.00" y="411.71" width="58.20" height="2.27" fill="#ffe594"/>
<rect x="402.00" y="413.68" width="58.20" height="2.27" fill="#ffe491"/>
<rect x="402.00" y="415.66" width="58.20" height="2.27" fill="#ffde79"/>
<rect x="402.00" y="417.63" width="58.20" height="2.27" fill="#ffe493"/>
<rect x="402.00" y="419.60" width="58.20" height="2.27" fill="#ffe8a3"/>
<rect x="402.00" y="421.58" width="58.20" height="2.27" fill="#ffe8a4"/>
<rect x="402.00" y="423.55" width="58.20" height="2.27" fill="#ffe79e"/>
<rect x="402.00" y="425.53" width="58.20" height="2.27" fill="#ffe186"/>
<rect x="402.00" y="427.50" width="58.20" height="2.27" fill="#ffd65a"/>
<rect x="402.00" y="429.48" width="58.20" height="2.27" fill="#ffe28b"/>
<rect x="402.00" y="431.45" width="58.20" height="2.27" fill="#ffd85f"/>
<rect x="402.00" y="433.42" width="58.20" height="2.27" fill="#ffdb6d"/>
<rect x="402.00" y="435.40" width="58.20" height="2.27" fill="#ffe491"/>
<rect x="402.00" y="437.37" width="58.20" height="2.27" fill="#ffe69a"/>
<rect x="402.00" y="439.35" width="58.20" height="2.27" fill="#ffd964"/>
<rect x="402.00" y="441.32" width="58.20" height="2.27" fill="#ffd75d"/>
<rect x="402.00" y="443.30" width="58.20" height="2.27" fill="#ffe187"/>
<rect x="402.00" y="445.27" width="58.20" height="2.27" fill="#ffe493"/>
<rect x="402.00" y="447.24" width="58.20" height="2.27" fill="#ffe8a1"/>
<rect x="402.00" y="449.22" width="58.20" height="2.27" fill="#ffe38e"/>
<rect x="402.00" y="451.19" width="58.20" height="2.27" fill="#ffd862"/>
<rect x="402.00" y="453.17" width="58.20" height="2.27" fill="#ffdc70"/>
<rect x="402.00" y="455.14" width="58.20" height="2.27" fill="#ffda68"/>
<rect x="402.00" y="457.11" width="58.20" height="2.27" fill="#ffd659"/>
<rect x="402.00" y="459.09" width="58.20" height="2.27" fill="#ffd553"/>
<rect x="402.00" y="461.06" width="58.20" height="2.27" fill="#ffdd76"/>
<rect x="402.00" y="463.04" width="58.20" height="2.27" fill="#ffcd34"/>
<rect x="402.00" y="465.01" width="58.20" height="2.27" fill="#ffe186"/>
<rect x="402.00" y="466.99" width="58.20" height="2.27" fill="#ffde79"/>
<rect x="402.00" y="468.96" width="58.20" height="2.27" fill="#ffd143"/>
<rect x="402.00" y="470.93" width="58.20" height="2.27" fill="#ffd85f"/>
<rect x="402.00" y="472.91" width="58.20" height="2.27" fill="#ffdc71"/>
<rect x="402.00" y="474.88" width="58.20" height="2.27" fill="#ffd041"/>
<rect x="402.00" y="476.86" width="58.20" height="2.27" fill="#ffcf3b"/>
<rect x="402.00" y="478.83" width="58.20" height="2.27" fill="#ffc000"/>
<rect x="402.00" y="480.81" width="58.20" height="2.27" fill="#ffdc70"/>
<rect x="402.00" y="482.78" width="58.20" height="2.27" fill="#ffcd35"/>
<rect x="402.00" y="484.75" width="58.20" height="2.27" fill="#ffd452"/>
<rect x="402.00" y="486.73" width="58.20" height="2.27" fill="#ffd040"/>
<rect x="402.00" y="488.70" width="58.20" height="2.27" fill="#ffcc2f"/>
<rect x="402.00" y="490.68" width="58.20" height="2.27" fill="#ffc820"/>
<rect x="402.00" y="492.65" width="58.20" height="2.27" fill="#ffc40f"/>
<rect x="402.00" y="494.62" width="58.20" height="2.27" fill="#ffcd36"/>
<rect x="402.00" y="496.60" width="58.20" height="2.27" fill="#ffd145"/>
<rect x="402.00" y="498.57" width="58.20" height="2.27" fill="#ffc619"/>
<rect x="402.00" y="500.55" width="58.20" height="2.27" fill="#ffc514"/>
<rect x="402.00" y="502.52" width="58.20" height="2.27" fill="#ffd75d"/>
<rect x="402.00" y="504.50" width="58.20" height="2.27" fill="#ffc410"/>
<rect x="402.00" y="506.47" width="58.20" height="2.27" fill="#ffc513"/>
<rect x="402.00" y="508.44" width="58.20" height="2.27" fill="#ffdb6c"/>
<rect x="402.00" y="510.42" width="58.20" height="2.27" fill="#ffe184"/>
<rect x="402.00" y="512.39" width="58.20" height="2.27" fill="#ffd75d"/>
<rect x="402.00" y="514.37" width="58.20" height="2.27" fill="#ffc104"/>
<rect x="402.00" y="516.34" width="58.20" height="2.27" fill="#ffd144"/>
<rect x="402.00" y="52.40" width="58.20" height="2.27" fill="#6b8fd0"/>
<rect x="402.00" y="54.37" width="58.20" height="2.27" fill="#517cc8"/>
<rect x="402.00" y="56.35" width="58.20" height="2.27" fill="#4472c4"/>
<rect x="402.00" y="58.32" width="58.20" height="2.27" fill="#4472c4"/>
<rect x="402.00" y="60.30" width="58.20" height="2.27" fill="#6289ce"/>
<rect x="402.00" y="62.27" width="58.20" height="2.27" fill="#82a0d7"/>
<rect x="402.00" y="64.25" width="58.20" height="2.27" fill="#83a1d8"/>
<rect x="402.00" y="66.22" width="58.20" height="2.27" fill="#7496d3"/>
<rect x="402.00" y="68.19" width="58.20" height="2.27" fill="#4c78c7"/>
<rect x="402.00" y="70.17" width="58.20" height="2.27" fill="#4472c4"/>
<rect x="402.00" y="72.14" width="58.20" height="2.27" fill="#7697d4"/>
<rect x="402.00" y="74.12" width="58.20" height="2.27" fill="#86a4d9"/>
<rect x="402.00" y="76.09" width="58.20" height="2.27" fill="#8da9db"/>
<rect x="402.00" y="78.06" width="58.20" height="2.27" fill="#7798d4"/>
<rect x="402.00" y="80.04" width="58.20" height="2.27" fill="#a4bbe2"/>
<rect x="402.00" y="82.01" width="58.20" height="2.27" fill="#a7bde3"/>
<rect x="402.00" y="83.99" width="58.20" height="2.27" fill="#84a2d8"/>
<rect x="402.00" y="85.96" width="58.20" height="2.27" fill="#96b0de"/>
<rect x="402.00" y="87.94" width="58.20" height="2.27" fill="#adc1e5"/>
<rect x="402.00" y="89.91" width="58.20" height="2.27" fill="#95afde"/>
<rect x="402.00" y="518.32" width="58.20" height="2.27" fill="#ffc618"/>
<rect x="402.00" y="520.29" width="58.20" height="2.27" fill="#ffc61a"/>
<rect x="402.00" y="522.26" width="58.20" height="2.27" fill="#ffc411"/>
<rect x="402.00" y="524.24" width="58.20" height="2.27" fill="#ffc411"/>
<rect x="402.00" y="526.21" width="58.20" height="2.27" fill="#ffc410"/>
<rect x="402.00" y="528.19" width="58.20" height="2.27" fill="#ffc515"/>
<rect x="402.00" y="530.16" width="58.20" height="2.27" fill="#ffc40f"/>
<rect x="402.00" y="532.14" width="58.20" height="2.27" fill="#ffc30c"/>
<rect x="402.00" y="534.11" width="58.20" height="2.27" fill="#ffc30e"/>
<rect x="402.00" y="536.08" width="58.20" height="2.27" fill="#ffc30c"/>
<rect x="402.00" y="538.06" width="58.20" height="2.27" fill="#ffc30d"/>
<rect x="402.00" y="540.03" width="58.20" height="2.27" fill="#ffc30d"/>
<rect x="402.00" y="542.01" width="58.20" height="2.27" fill="#ffc30c"/>
<rect x="402.00" y="543.98" width="58.20" height="2.27" fill="#ffc30b"/>
<rect x="402.00" y="545.95" width="58.20" height="2.27" fill="#ffc103"/>
<rect x="402.00" y="547.93" width="58.20" height="2.27" fill="#ffc206"/>
<rect x="402.00" y="549.90" width="58.20" height="2.27" fill="#ffc105"/>
<rect x="402.00" y="551.88" width="58.20" height="2.27" fill="#ffc000"/>
<rect x="402.00" y="553.85" width="58.20" height="2.27" fill="#ffc002"/>
<rect x="402.00" y="555.83" width="58.20" height="1.97" fill="#ffc000"/>
<path d="M28.5,51.3 L22.7,63.2 L34.4,63.2Z" fill="#000"/>
<path d="M28.5,552.2 L22.7,540.3 L34.4,540.3Z" fill="#000"/>
<line x1="28.5" y1="62" x2="28.5" y2="180" stroke="#000" stroke-width="2"/>
<line x1="28.5" y1="422.5" x2="28.5" y2="541" stroke="#000" stroke-width="2"/>
<text transform="translate(30.3,413.6) rotate(-90)" font-size="19.4" fill="#000" textLength="222.4" lengthAdjust="spacingAndGlyphs">256 NNCGNN sequences</text>
<rect x="215.70" y="52.90" width="38.50" height="225.80" fill="#fff"/>
<rect x="254.20" y="52.90" width="33.30" height="11.29" fill="#4472c4"/>
<rect x="287.50" y="52.90" width="32.40" height="11.29" fill="#4472c4"/>
<rect x="254.20" y="64.19" width="33.30" height="11.29" fill="#4472c4"/>
<rect x="287.50" y="64.19" width="32.40" height="11.29" fill="#4472c4"/>
<rect x="254.20" y="75.48" width="33.30" height="11.29" fill="#5680ca"/>
<rect x="287.50" y="75.48" width="32.40" height="11.29" fill="#4472c4"/>
<rect x="254.20" y="86.77" width="33.30" height="11.29" fill="#5982cb"/>
<rect x="287.50" y="86.77" width="32.40" height="11.29" fill="#4472c4"/>
<rect x="254.20" y="98.06" width="33.30" height="11.29" fill="#4774c5"/>
<rect x="287.50" y="98.06" width="32.40" height="11.29" fill="#547ec9"/>
<rect x="254.20" y="109.35" width="33.30" height="11.29" fill="#6d91d1"/>
<rect x="287.50" y="109.35" width="32.40" height="11.29" fill="#4d79c7"/>
<rect x="254.20" y="120.64" width="33.30" height="11.29" fill="#799ad5"/>
<rect x="287.50" y="120.64" width="32.40" height="11.29" fill="#4573c4"/>
<rect x="254.20" y="131.93" width="33.30" height="11.29" fill="#7496d3"/>
<rect x="287.50" y="131.93" width="32.40" height="11.29" fill="#4c78c7"/>
<rect x="254.20" y="143.22" width="33.30" height="11.29" fill="#7698d4"/>
<rect x="287.50" y="143.22" width="32.40" height="11.29" fill="#5680ca"/>
<rect x="254.20" y="154.51" width="33.30" height="11.29" fill="#698ed0"/>
<rect x="287.50" y="154.51" width="32.40" height="11.29" fill="#6c90d1"/>
<rect x="254.20" y="165.80" width="33.30" height="11.29" fill="#91acdc"/>
<rect x="287.50" y="165.80" width="32.40" height="11.29" fill="#4e79c7"/>
<rect x="254.20" y="177.09" width="33.30" height="11.29" fill="#94aedd"/>
<rect x="287.50" y="177.09" width="32.40" height="11.29" fill="#547ec9"/>
<rect x="254.20" y="188.38" width="33.30" height="11.29" fill="#7395d3"/>
<rect x="287.50" y="188.38" width="32.40" height="11.29" fill="#7093d2"/>
<rect x="254.20" y="199.67" width="33.30" height="11.29" fill="#95afde"/>
<rect x="287.50" y="199.67" width="32.40" height="11.29" fill="#557fc9"/>
<rect x="254.20" y="210.96" width="33.30" height="11.29" fill="#cdd9ef"/>
<rect x="287.50" y="210.96" width="32.40" height="11.29" fill="#4472c4"/>
<rect x="254.20" y="222.25" width="33.30" height="11.29" fill="#6087cd"/>
<rect x="287.50" y="222.25" width="32.40" height="11.29" fill="#8ca8db"/>
<rect x="254.20" y="233.54" width="33.30" height="11.29" fill="#87a5d9"/>
<rect x="287.50" y="233.54" width="32.40" height="11.29" fill="#6d91d1"/>
<rect x="254.20" y="244.83" width="33.30" height="11.29" fill="#a5bbe3"/>
<rect x="287.50" y="244.83" width="32.40" height="11.29" fill="#557fc9"/>
<rect x="254.20" y="256.12" width="33.30" height="11.29" fill="#abc0e5"/>
<rect x="287.50" y="256.12" width="32.40" height="11.29" fill="#527dc9"/>
<rect x="254.20" y="267.41" width="33.30" height="11.29" fill="#8ca8db"/>
<rect x="287.50" y="267.41" width="32.40" height="11.29" fill="#6d91d1"/>
<path d="M215.7,52.90H319.9M215.7,64.19H319.9M215.7,75.48H319.9M215.7,86.77H319.9M215.7,98.06H319.9M215.7,109.35H319.9M215.7,120.64H319.9M215.7,131.93H319.9M215.7,143.22H319.9M215.7,154.51H319.9M215.7,165.80H319.9M215.7,177.09H319.9M215.7,188.38H319.9M215.7,199.67H319.9M215.7,210.96H319.9M215.7,222.25H319.9M215.7,233.54H319.9M215.7,244.83H319.9M215.7,256.12H319.9M215.7,267.41H319.9M215.7,278.70H319.9M215.7,52.9V278.70M254.2,52.9V278.70M287.5,52.9V278.70M319.9,52.9V278.70" stroke="#202020" stroke-width="0.9" fill="none"/>
<text x="234.75" y="61.76" font-size="8.2" text-anchor="middle" fill="#262626" textLength="31.1" lengthAdjust="spacingAndGlyphs">TA CG TG</text>
<text x="270.85" y="61.76" font-size="8" text-anchor="middle" fill="#fff">1.000</text>
<text x="303.70" y="61.76" font-size="8" text-anchor="middle" fill="#fff">1.000</text>
<text x="234.75" y="73.05" font-size="8.2" text-anchor="middle" fill="#262626" textLength="30.5" lengthAdjust="spacingAndGlyphs">TA CG TA</text>
<text x="270.85" y="73.05" font-size="8" text-anchor="middle" fill="#fff">0.979</text>
<text x="303.70" y="73.05" font-size="8" text-anchor="middle" fill="#fff">0.896</text>
<text x="234.75" y="84.34" font-size="8.2" text-anchor="middle" fill="#262626" textLength="30.5" lengthAdjust="spacingAndGlyphs">TA CG AT</text>
<text x="270.85" y="84.34" font-size="8" text-anchor="middle" fill="#fff">0.813</text>
<text x="303.70" y="84.34" font-size="8" text-anchor="middle" fill="#fff">0.896</text>
<text x="234.75" y="95.63" font-size="8.2" text-anchor="middle" fill="#262626" textLength="31.2" lengthAdjust="spacingAndGlyphs">TA CG AG</text>
<text x="270.85" y="95.63" font-size="8" text-anchor="middle" fill="#fff">0.804</text>
<text x="303.70" y="95.63" font-size="8" text-anchor="middle" fill="#fff">0.882</text>
<text x="234.75" y="106.92" font-size="8.2" text-anchor="middle" fill="#262626" textLength="31.2" lengthAdjust="spacingAndGlyphs">TA CG GT</text>
<text x="270.85" y="106.92" font-size="8" text-anchor="middle" fill="#fff">0.862</text>
<text x="303.70" y="106.92" font-size="8" text-anchor="middle" fill="#fff">0.843</text>
<text x="234.75" y="118.21" font-size="8.2" text-anchor="middle" fill="#262626" textLength="30.5" lengthAdjust="spacingAndGlyphs">TA CG TT</text>
<text x="270.85" y="118.21" font-size="8" text-anchor="middle" fill="#fff">0.738</text>
<text x="303.70" y="118.21" font-size="8" text-anchor="middle" fill="#fff">0.858</text>
<text x="234.75" y="129.50" font-size="8.2" text-anchor="middle" fill="#262626" textLength="32.4" lengthAdjust="spacingAndGlyphs">CA CG TG</text>
<text x="270.85" y="129.50" font-size="8" text-anchor="middle" fill="#fff">0.700</text>
<text x="303.70" y="129.50" font-size="8" text-anchor="middle" fill="#fff">0.878</text>
<text x="234.75" y="140.79" font-size="8.2" text-anchor="middle" fill="#262626" textLength="30.7" lengthAdjust="spacingAndGlyphs">TA CG TC</text>
<text x="270.85" y="140.79" font-size="8" text-anchor="middle" fill="#fff">0.716</text>
<text x="303.70" y="140.79" font-size="8" text-anchor="middle" fill="#fff">0.861</text>
<text x="234.75" y="152.08" font-size="8.2" text-anchor="middle" fill="#262626" textLength="32.1" lengthAdjust="spacingAndGlyphs">AA CG GT</text>
<text x="270.85" y="152.08" font-size="8" text-anchor="middle" fill="#fff">0.708</text>
<text x="303.70" y="152.08" font-size="8" text-anchor="middle" fill="#fff">0.837</text>
<text x="234.75" y="163.37" font-size="8.2" text-anchor="middle" fill="#262626" textLength="31.1" lengthAdjust="spacingAndGlyphs">CA CG TA</text>
<text x="270.85" y="163.37" font-size="8" text-anchor="middle" fill="#fff">0.752</text>
<text x="303.70" y="163.37" font-size="8" text-anchor="middle" fill="#fff">0.785</text>
<text x="234.75" y="174.66" font-size="8.2" text-anchor="middle" fill="#262626" textLength="31.6" lengthAdjust="spacingAndGlyphs">GA CG TT</text>
<text x="270.85" y="174.66" font-size="8" text-anchor="middle" fill="#fff">0.622</text>
<text x="303.70" y="174.66" font-size="8" text-anchor="middle" fill="#fff">0.857</text>
<text x="234.75" y="185.95" font-size="8.2" text-anchor="middle" fill="#262626" textLength="32.7" lengthAdjust="spacingAndGlyphs">GA CG TG</text>
<text x="270.85" y="185.95" font-size="8" text-anchor="middle" fill="#fff">0.613</text>
<text x="303.70" y="185.95" font-size="8" text-anchor="middle" fill="#fff">0.842</text>
<text x="234.75" y="197.24" font-size="8.2" text-anchor="middle" fill="#262626" textLength="32.4" lengthAdjust="spacingAndGlyphs">TA CG GG</text>
<text x="270.85" y="197.24" font-size="8" text-anchor="middle" fill="#fff">0.719</text>
<text x="303.70" y="197.24" font-size="8" text-anchor="middle" fill="#fff">0.776</text>
<text x="234.75" y="208.53" font-size="8.2" text-anchor="middle" fill="#262626" textLength="30.9" lengthAdjust="spacingAndGlyphs">TA CG AC</text>
<text x="270.85" y="208.53" font-size="8" text-anchor="middle" fill="#fff">0.608</text>
<text x="303.70" y="208.53" font-size="8" text-anchor="middle" fill="#fff">0.840</text>
<text x="234.75" y="219.82" font-size="8.2" text-anchor="middle" fill="#262626" textLength="32.4" lengthAdjust="spacingAndGlyphs">GC CG TT</text>
<text x="270.85" y="219.82" font-size="8" text-anchor="middle" fill="#fff">0.430</text>
<text x="303.70" y="219.82" font-size="8" text-anchor="middle" fill="#fff">0.931</text>
<text x="234.75" y="231.11" font-size="8.2" text-anchor="middle" fill="#262626" textLength="30.5" lengthAdjust="spacingAndGlyphs">TA CG AA</text>
<text x="270.85" y="231.11" font-size="8" text-anchor="middle" fill="#fff">0.780</text>
<text x="303.70" y="231.11" font-size="8" text-anchor="middle" fill="#fff">0.710</text>
<text x="234.75" y="242.40" font-size="8.2" text-anchor="middle" fill="#262626" textLength="31.6" lengthAdjust="spacingAndGlyphs">TA CG GA</text>
<text x="270.85" y="242.40" font-size="8" text-anchor="middle" fill="#fff">0.653</text>
<text x="303.70" y="242.40" font-size="8" text-anchor="middle" fill="#fff">0.783</text>
<text x="234.75" y="253.69" font-size="8.2" text-anchor="middle" fill="#262626" textLength="30.5" lengthAdjust="spacingAndGlyphs">AA CG AT</text>
<text x="270.85" y="253.69" font-size="8" text-anchor="middle" fill="#fff">0.557</text>
<text x="303.70" y="253.69" font-size="8" text-anchor="middle" fill="#fff">0.840</text>
<text x="234.75" y="264.98" font-size="8.2" text-anchor="middle" fill="#262626" textLength="30.9" lengthAdjust="spacingAndGlyphs">AA CG TT</text>
<text x="270.85" y="264.98" font-size="8" text-anchor="middle" fill="#fff">0.538</text>
<text x="303.70" y="264.98" font-size="8" text-anchor="middle" fill="#fff">0.846</text>
<text x="234.75" y="276.27" font-size="8.2" text-anchor="middle" fill="#262626" textLength="32.0" lengthAdjust="spacingAndGlyphs">AA CG TG</text>
<text x="270.85" y="276.27" font-size="8" text-anchor="middle" fill="#fff">0.639</text>
<text x="303.70" y="276.27" font-size="8" text-anchor="middle" fill="#fff">0.784</text>
<rect x="215.50" y="331.30" width="38.70" height="225.80" fill="#fff"/>
<rect x="254.20" y="331.30" width="33.20" height="11.29" fill="#ffca29"/>
<rect x="287.40" y="331.30" width="32.40" height="11.29" fill="#ffd24a"/>
<rect x="254.20" y="342.59" width="33.20" height="11.29" fill="#ffce38"/>
<rect x="287.40" y="342.59" width="32.40" height="11.29" fill="#ffcf3d"/>
<rect x="254.20" y="353.88" width="33.20" height="11.29" fill="#ffd24b"/>
<rect x="287.40" y="353.88" width="32.40" height="11.29" fill="#ffcc30"/>
<rect x="254.20" y="365.17" width="33.20" height="11.29" fill="#ffce39"/>
<rect x="287.40" y="365.17" width="32.40" height="11.29" fill="#ffcd35"/>
<rect x="254.20" y="376.46" width="33.20" height="11.29" fill="#ffca27"/>
<rect x="287.40" y="376.46" width="32.40" height="11.29" fill="#ffcf3d"/>
<rect x="254.20" y="387.75" width="33.20" height="11.29" fill="#ffc513"/>
<rect x="287.40" y="387.75" width="32.40" height="11.29" fill="#ffce38"/>
<rect x="254.20" y="399.04" width="33.20" height="11.29" fill="#ffca2a"/>
<rect x="287.40" y="399.04" width="32.40" height="11.29" fill="#ffca2a"/>
<rect x="254.20" y="410.33" width="33.20" height="11.29" fill="#ffc61a"/>
<rect x="287.40" y="410.33" width="32.40" height="11.29" fill="#ffcc2f"/>
<rect x="254.20" y="421.62" width="33.20" height="11.29" fill="#ffca28"/>
<rect x="287.40" y="421.62" width="32.40" height="11.29" fill="#ffc925"/>
<rect x="254.20" y="432.91" width="33.20" height="11.29" fill="#ffca2a"/>
<rect x="287.40" y="432.91" width="32.40" height="11.29" fill="#ffc821"/>
<rect x="254.20" y="444.20" width="33.20" height="11.29" fill="#ffc513"/>
<rect x="287.40" y="444.20" width="32.40" height="11.29" fill="#ffcb2b"/>
<rect x="254.20" y="455.49" width="33.20" height="11.29" fill="#ffc822"/>
<rect x="287.40" y="455.49" width="32.40" height="11.29" fill="#ffc822"/>
<rect x="254.20" y="466.78" width="33.20" height="11.29" fill="#ffc71b"/>
<rect x="287.40" y="466.78" width="32.40" height="11.29" fill="#ffc71d"/>
<rect x="254.20" y="478.07" width="33.20" height="11.29" fill="#ffc616"/>
<rect x="287.40" y="478.07" width="32.40" height="11.29" fill="#ffc820"/>
<rect x="254.20" y="489.36" width="33.20" height="11.29" fill="#ffc001"/>
<rect x="287.40" y="489.36" width="32.40" height="11.29" fill="#ffca2a"/>
<rect x="254.20" y="500.65" width="33.20" height="11.29" fill="#ffc514"/>
<rect x="287.40" y="500.65" width="32.40" height="11.29" fill="#ffc619"/>
<rect x="254.20" y="511.94" width="33.20" height="11.29" fill="#ffc411"/>
<rect x="287.40" y="511.94" width="32.40" height="11.29" fill="#ffc619"/>
<rect x="254.20" y="523.23" width="33.20" height="11.29" fill="#ffc71d"/>
<rect x="287.40" y="523.23" width="32.40" height="11.29" fill="#ffc30d"/>
<rect x="254.20" y="534.52" width="33.20" height="11.29" fill="#ffc002"/>
<rect x="287.40" y="534.52" width="32.40" height="11.29" fill="#ffc30b"/>
<rect x="254.20" y="545.81" width="33.20" height="11.29" fill="#ffc000"/>
<rect x="287.40" y="545.81" width="32.40" height="11.29" fill="#ffc000"/>
<path d="M215.5,331.30H319.79999999999995M215.5,342.59H319.79999999999995M215.5,353.88H319.79999999999995M215.5,365.17H319.79999999999995M215.5,376.46H319.79999999999995M215.5,387.75H319.79999999999995M215.5,399.04H319.79999999999995M215.5,410.33H319.79999999999995M215.5,421.62H319.79999999999995M215.5,432.91H319.79999999999995M215.5,444.20H319.79999999999995M215.5,455.49H319.79999999999995M215.5,466.78H319.79999999999995M215.5,478.07H319.79999999999995M215.5,489.36H319.79999999999995M215.5,500.65H319.79999999999995M215.5,511.94H319.79999999999995M215.5,523.23H319.79999999999995M215.5,534.52H319.79999999999995M215.5,545.81H319.79999999999995M215.5,557.10H319.79999999999995M215.5,331.3V557.10M254.2,331.3V557.10M287.4,331.3V557.10M319.79999999999995,331.3V557.10" stroke="#202020" stroke-width="0.9" fill="none"/>
<text x="234.65" y="340.16" font-size="8.2" text-anchor="middle" fill="#262626" textLength="33.3" lengthAdjust="spacingAndGlyphs">GG CG AA</text>
<text x="270.80" y="340.16" font-size="8" text-anchor="middle" fill="#1e1a00">0.079</text>
<text x="303.60" y="340.16" font-size="8" text-anchor="middle" fill="#1e1a00">0.144</text>
<text x="234.65" y="351.45" font-size="8.2" text-anchor="middle" fill="#262626" textLength="34.0" lengthAdjust="spacingAndGlyphs">AG CG CG</text>
<text x="270.80" y="351.45" font-size="8" text-anchor="middle" fill="#1e1a00">0.095</text>
<text x="303.60" y="351.45" font-size="8" text-anchor="middle" fill="#1e1a00">0.129</text>
<text x="234.65" y="362.74" font-size="8.2" text-anchor="middle" fill="#262626" textLength="33.6" lengthAdjust="spacingAndGlyphs">CG CG AG</text>
<text x="270.80" y="362.74" font-size="8" text-anchor="middle" fill="#1e1a00">0.114</text>
<text x="303.60" y="362.74" font-size="8" text-anchor="middle" fill="#1e1a00">0.115</text>
<text x="234.65" y="374.03" font-size="8.2" text-anchor="middle" fill="#262626" textLength="34.0" lengthAdjust="spacingAndGlyphs">CG CG GG</text>
<text x="270.80" y="374.03" font-size="8" text-anchor="middle" fill="#1e1a00">0.096</text>
<text x="303.60" y="374.03" font-size="8" text-anchor="middle" fill="#1e1a00">0.120</text>
<text x="234.65" y="385.32" font-size="8.2" text-anchor="middle" fill="#262626" textLength="33.2" lengthAdjust="spacingAndGlyphs">CG CG AC</text>
<text x="270.80" y="385.32" font-size="8" text-anchor="middle" fill="#1e1a00">0.077</text>
<text x="303.60" y="385.32" font-size="8" text-anchor="middle" fill="#1e1a00">0.129</text>
<text x="234.65" y="396.61" font-size="8.2" text-anchor="middle" fill="#262626" textLength="33.6" lengthAdjust="spacingAndGlyphs">GG CG CT</text>
<text x="270.80" y="396.61" font-size="8" text-anchor="middle" fill="#1e1a00">0.057</text>
<text x="303.60" y="396.61" font-size="8" text-anchor="middle" fill="#1e1a00">0.124</text>
<text x="234.65" y="407.90" font-size="8.2" text-anchor="middle" fill="#262626" textLength="34.0" lengthAdjust="spacingAndGlyphs">CG CG GC</text>
<text x="270.80" y="407.90" font-size="8" text-anchor="middle" fill="#1e1a00">0.080</text>
<text x="303.60" y="407.90" font-size="8" text-anchor="middle" fill="#1e1a00">0.108</text>
<text x="234.65" y="419.19" font-size="8.2" text-anchor="middle" fill="#262626" textLength="34.0" lengthAdjust="spacingAndGlyphs">GG CG CG</text>
<text x="270.80" y="419.19" font-size="8" text-anchor="middle" fill="#1e1a00">0.064</text>
<text x="303.60" y="419.19" font-size="8" text-anchor="middle" fill="#1e1a00">0.113</text>
<text x="234.65" y="430.48" font-size="8.2" text-anchor="middle" fill="#262626" textLength="32.5" lengthAdjust="spacingAndGlyphs">TG CG CT</text>
<text x="270.80" y="430.48" font-size="8" text-anchor="middle" fill="#1e1a00">0.078</text>
<text x="303.60" y="430.48" font-size="8" text-anchor="middle" fill="#1e1a00">0.102</text>
<text x="234.65" y="441.77" font-size="8.2" text-anchor="middle" fill="#262626" textLength="32.9" lengthAdjust="spacingAndGlyphs">TG CG CA</text>
<text x="270.80" y="441.77" font-size="8" text-anchor="middle" fill="#1e1a00">0.080</text>
<text x="303.60" y="441.77" font-size="8" text-anchor="middle" fill="#1e1a00">0.097</text>
<text x="234.65" y="453.06" font-size="8.2" text-anchor="middle" fill="#262626" textLength="32.9" lengthAdjust="spacingAndGlyphs">CG CG AA</text>
<text x="270.80" y="453.06" font-size="8" text-anchor="middle" fill="#1e1a00">0.057</text>
<text x="303.60" y="453.06" font-size="8" text-anchor="middle" fill="#1e1a00">0.109</text>
<text x="234.65" y="464.35" font-size="8.2" text-anchor="middle" fill="#262626" textLength="33.6" lengthAdjust="spacingAndGlyphs">TG CG CG</text>
<text x="270.80" y="464.35" font-size="8" text-anchor="middle" fill="#1e1a00">0.072</text>
<text x="303.60" y="464.35" font-size="8" text-anchor="middle" fill="#1e1a00">0.099</text>
<text x="234.65" y="475.64" font-size="8.2" text-anchor="middle" fill="#262626" textLength="34.0" lengthAdjust="spacingAndGlyphs">GG CG CA</text>
<text x="270.80" y="475.64" font-size="8" text-anchor="middle" fill="#1e1a00">0.065</text>
<text x="303.60" y="475.64" font-size="8" text-anchor="middle" fill="#1e1a00">0.093</text>
<text x="234.65" y="486.93" font-size="8.2" text-anchor="middle" fill="#262626" textLength="33.2" lengthAdjust="spacingAndGlyphs">CG CG CT</text>
<text x="270.80" y="486.93" font-size="8" text-anchor="middle" fill="#1e1a00">0.060</text>
<text x="303.60" y="486.93" font-size="8" text-anchor="middle" fill="#1e1a00">0.096</text>
<text x="234.65" y="498.22" font-size="8.2" text-anchor="middle" fill="#262626" textLength="33.6" lengthAdjust="spacingAndGlyphs">AG CG CC</text>
<text x="270.80" y="498.22" font-size="8" text-anchor="middle" fill="#1e1a00">0.038</text>
<text x="303.60" y="498.22" font-size="8" text-anchor="middle" fill="#1e1a00">0.108</text>
<text x="234.65" y="509.51" font-size="8.2" text-anchor="middle" fill="#262626" textLength="34.0" lengthAdjust="spacingAndGlyphs">CG CG CG</text>
<text x="270.80" y="509.51" font-size="8" text-anchor="middle" fill="#1e1a00">0.058</text>
<text x="303.60" y="509.51" font-size="8" text-anchor="middle" fill="#1e1a00">0.088</text>
<text x="234.65" y="520.80" font-size="8.2" text-anchor="middle" fill="#262626" textLength="33.6" lengthAdjust="spacingAndGlyphs">CG CG CA</text>
<text x="270.80" y="520.80" font-size="8" text-anchor="middle" fill="#1e1a00">0.055</text>
<text x="303.60" y="520.80" font-size="8" text-anchor="middle" fill="#1e1a00">0.088</text>
<text x="234.65" y="532.09" font-size="8.2" text-anchor="middle" fill="#262626" textLength="33.2" lengthAdjust="spacingAndGlyphs">TG CG CC</text>
<text x="270.80" y="532.09" font-size="8" text-anchor="middle" fill="#1e1a00">0.067</text>
<text x="303.60" y="532.09" font-size="8" text-anchor="middle" fill="#1e1a00">0.075</text>
<text x="234.65" y="543.38" font-size="8.2" text-anchor="middle" fill="#262626" textLength="34.0" lengthAdjust="spacingAndGlyphs">GG CG CC</text>
<text x="270.80" y="543.38" font-size="8" text-anchor="middle" fill="#1e1a00">0.039</text>
<text x="303.60" y="543.38" font-size="8" text-anchor="middle" fill="#1e1a00">0.073</text>
<text x="234.65" y="554.67" font-size="8.2" text-anchor="middle" fill="#262626" textLength="34.0" lengthAdjust="spacingAndGlyphs">CG CG CC</text>
<text x="270.80" y="554.67" font-size="8" text-anchor="middle" fill="#1e1a00">0.037</text>
<text x="303.60" y="554.67" font-size="8" text-anchor="middle" fill="#1e1a00">0.060</text>
<rect x="513.60" y="53.00" width="38.20" height="225.80" fill="#fff"/>
<rect x="551.80" y="53.00" width="38.60" height="11.29" fill="#4472c4"/>
<rect x="590.40" y="53.00" width="38.10" height="11.29" fill="#6b8fd0"/>
<rect x="551.80" y="64.29" width="38.60" height="11.29" fill="#4a77c6"/>
<rect x="590.40" y="64.29" width="38.10" height="11.29" fill="#517cc8"/>
<rect x="551.80" y="75.58" width="38.60" height="11.29" fill="#6288cd"/>
<rect x="590.40" y="75.58" width="38.10" height="11.29" fill="#4472c4"/>
<rect x="551.80" y="86.87" width="38.60" height="11.29" fill="#8aa7da"/>
<rect x="590.40" y="86.87" width="38.10" height="11.29" fill="#4472c4"/>
<rect x="551.80" y="98.16" width="38.60" height="11.29" fill="#5f86cc"/>
<rect x="590.40" y="98.16" width="38.10" height="11.29" fill="#6289ce"/>
<rect x="551.80" y="109.45" width="38.60" height="11.29" fill="#4875c5"/>
<rect x="590.40" y="109.45" width="38.10" height="11.29" fill="#82a0d7"/>
<rect x="551.80" y="120.74" width="38.60" height="11.29" fill="#4775c5"/>
<rect x="590.40" y="120.74" width="38.10" height="11.29" fill="#83a1d8"/>
<rect x="551.80" y="132.03" width="38.60" height="11.29" fill="#5881ca"/>
<rect x="590.40" y="132.03" width="38.10" height="11.29" fill="#7496d3"/>
<rect x="551.80" y="143.32" width="38.60" height="11.29" fill="#86a4d9"/>
<rect x="590.40" y="143.32" width="38.10" height="11.29" fill="#4c78c7"/>
<rect x="551.80" y="154.61" width="38.60" height="11.29" fill="#a5bbe3"/>
<rect x="590.40" y="154.61" width="38.10" height="11.29" fill="#4472c4"/>
<rect x="551.80" y="165.90" width="38.60" height="11.29" fill="#7496d3"/>
<rect x="590.40" y="165.90" width="38.10" height="11.29" fill="#7697d4"/>
<rect x="551.80" y="177.19" width="38.60" height="11.29" fill="#6c90d1"/>
<rect x="590.40" y="177.19" width="38.10" height="11.29" fill="#86a4d9"/>
<rect x="551.80" y="188.48" width="38.60" height="11.29" fill="#7294d2"/>
<rect x="590.40" y="188.48" width="38.10" height="11.29" fill="#8da9db"/>
<rect x="551.80" y="199.77" width="38.60" height="11.29" fill="#86a4d9"/>
<rect x="590.40" y="199.77" width="38.10" height="11.29" fill="#7798d4"/>
<rect x="551.80" y="211.06" width="38.60" height="11.29" fill="#698ed0"/>
<rect x="590.40" y="211.06" width="38.10" height="11.29" fill="#a4bbe2"/>
<rect x="551.80" y="222.35" width="38.60" height="11.29" fill="#6a8fd0"/>
<rect x="590.40" y="222.35" width="38.10" height="11.29" fill="#a7bde3"/>
<rect x="551.80" y="233.64" width="38.60" height="11.29" fill="#8eaadb"/>
<rect x="590.40" y="233.64" width="38.10" height="11.29" fill="#84a2d8"/>
<rect x="551.80" y="244.93" width="38.60" height="11.29" fill="#8ba7da"/>
<rect x="590.40" y="244.93" width="38.10" height="11.29" fill="#96b0de"/>
<rect x="551.80" y="256.22" width="38.60" height="11.29" fill="#86a4d9"/>
<rect x="590.40" y="256.22" width="38.10" height="11.29" fill="#adc1e5"/>
<rect x="551.80" y="267.51" width="38.60" height="11.29" fill="#9db5e0"/>
<rect x="590.40" y="267.51" width="38.10" height="11.29" fill="#95afde"/>
<path d="M513.6,53.00H628.5000000000001M513.6,64.29H628.5000000000001M513.6,75.58H628.5000000000001M513.6,86.87H628.5000000000001M513.6,98.16H628.5000000000001M513.6,109.45H628.5000000000001M513.6,120.74H628.5000000000001M513.6,132.03H628.5000000000001M513.6,143.32H628.5000000000001M513.6,154.61H628.5000000000001M513.6,165.90H628.5000000000001M513.6,177.19H628.5000000000001M513.6,188.48H628.5000000000001M513.6,199.77H628.5000000000001M513.6,211.06H628.5000000000001M513.6,222.35H628.5000000000001M513.6,233.64H628.5000000000001M513.6,244.93H628.5000000000001M513.6,256.22H628.5000000000001M513.6,267.51H628.5000000000001M513.6,278.80H628.5000000000001M513.6,53.0V278.80M551.8000000000001,53.0V278.80M590.4000000000001,53.0V278.80M628.5000000000001,53.0V278.80" stroke="#202020" stroke-width="0.9" fill="none"/>
<text x="532.50" y="61.86" font-size="8.2" text-anchor="middle" fill="#262626" textLength="30.5" lengthAdjust="spacingAndGlyphs">TA CG TT</text>
<text x="571.10" y="61.86" font-size="8" text-anchor="middle" fill="#fff">1.000</text>
<text x="609.45" y="61.86" font-size="8" text-anchor="middle" fill="#fff">0.772</text>
<text x="532.50" y="73.15" font-size="8.2" text-anchor="middle" fill="#262626" textLength="30.9" lengthAdjust="spacingAndGlyphs">AA CG TT</text>
<text x="571.10" y="73.15" font-size="8" text-anchor="middle" fill="#fff">0.904</text>
<text x="609.45" y="73.15" font-size="8" text-anchor="middle" fill="#fff">0.842</text>
<text x="532.50" y="84.44" font-size="8.2" text-anchor="middle" fill="#262626" textLength="31.6" lengthAdjust="spacingAndGlyphs">GA CG TT</text>
<text x="571.10" y="84.44" font-size="8" text-anchor="middle" fill="#fff">0.810</text>
<text x="609.45" y="84.44" font-size="8" text-anchor="middle" fill="#fff">0.881</text>
<text x="532.50" y="95.73" font-size="8.2" text-anchor="middle" fill="#262626" textLength="32.4" lengthAdjust="spacingAndGlyphs">GC CG TT</text>
<text x="571.10" y="95.73" font-size="8" text-anchor="middle" fill="#fff">0.646</text>
<text x="609.45" y="95.73" font-size="8" text-anchor="middle" fill="#fff">1.000</text>
<text x="532.50" y="107.02" font-size="8.2" text-anchor="middle" fill="#262626" textLength="31.2" lengthAdjust="spacingAndGlyphs">GA CG AT</text>
<text x="571.10" y="107.02" font-size="8" text-anchor="middle" fill="#fff">0.821</text>
<text x="609.45" y="107.02" font-size="8" text-anchor="middle" fill="#fff">0.795</text>
<text x="532.50" y="118.31" font-size="8.2" text-anchor="middle" fill="#262626" textLength="30.5" lengthAdjust="spacingAndGlyphs">TA CG AT</text>
<text x="571.10" y="118.31" font-size="8" text-anchor="middle" fill="#fff">0.915</text>
<text x="609.45" y="118.31" font-size="8" text-anchor="middle" fill="#fff">0.709</text>
<text x="532.50" y="129.60" font-size="8.2" text-anchor="middle" fill="#262626" textLength="30.5" lengthAdjust="spacingAndGlyphs">AA CG AT</text>
<text x="571.10" y="129.60" font-size="8" text-anchor="middle" fill="#fff">0.916</text>
<text x="609.45" y="129.60" font-size="8" text-anchor="middle" fill="#fff">0.706</text>
<text x="532.50" y="140.89" font-size="8.2" text-anchor="middle" fill="#262626" textLength="31.2" lengthAdjust="spacingAndGlyphs">CA CG TT</text>
<text x="571.10" y="140.89" font-size="8" text-anchor="middle" fill="#fff">0.850</text>
<text x="609.45" y="140.89" font-size="8" text-anchor="middle" fill="#fff">0.747</text>
<text x="532.50" y="152.18" font-size="8.2" text-anchor="middle" fill="#262626" textLength="32.0" lengthAdjust="spacingAndGlyphs">GC CG AT</text>
<text x="571.10" y="152.18" font-size="8" text-anchor="middle" fill="#fff">0.661</text>
<text x="609.45" y="152.18" font-size="8" text-anchor="middle" fill="#fff">0.855</text>
<text x="532.50" y="163.47" font-size="8.2" text-anchor="middle" fill="#262626" textLength="33.1" lengthAdjust="spacingAndGlyphs">GC CG TC</text>
<text x="571.10" y="163.47" font-size="8" text-anchor="middle" fill="#fff">0.536</text>
<text x="609.45" y="163.47" font-size="8" text-anchor="middle" fill="#fff">0.945</text>
<text x="532.50" y="174.76" font-size="8.2" text-anchor="middle" fill="#262626" textLength="32.5" lengthAdjust="spacingAndGlyphs">CA CG GT</text>
<text x="571.10" y="174.76" font-size="8" text-anchor="middle" fill="#fff">0.735</text>
<text x="609.45" y="174.76" font-size="8" text-anchor="middle" fill="#fff">0.742</text>
<text x="532.50" y="186.05" font-size="8.2" text-anchor="middle" fill="#262626" textLength="32.1" lengthAdjust="spacingAndGlyphs">AA CG GT</text>
<text x="571.10" y="186.05" font-size="8" text-anchor="middle" fill="#fff">0.767</text>
<text x="609.45" y="186.05" font-size="8" text-anchor="middle" fill="#fff">0.697</text>
<text x="532.50" y="197.34" font-size="8.2" text-anchor="middle" fill="#262626" textLength="30.9" lengthAdjust="spacingAndGlyphs">CA CG AT</text>
<text x="571.10" y="197.34" font-size="8" text-anchor="middle" fill="#fff">0.745</text>
<text x="609.45" y="197.34" font-size="8" text-anchor="middle" fill="#fff">0.677</text>
<text x="532.50" y="208.63" font-size="8.2" text-anchor="middle" fill="#262626" textLength="31.6" lengthAdjust="spacingAndGlyphs">AA CG TC</text>
<text x="571.10" y="208.63" font-size="8" text-anchor="middle" fill="#fff">0.661</text>
<text x="609.45" y="208.63" font-size="8" text-anchor="middle" fill="#fff">0.739</text>
<text x="532.50" y="219.92" font-size="8.2" text-anchor="middle" fill="#262626" textLength="31.2" lengthAdjust="spacingAndGlyphs">TA CG GT</text>
<text x="571.10" y="219.92" font-size="8" text-anchor="middle" fill="#fff">0.781</text>
<text x="609.45" y="219.92" font-size="8" text-anchor="middle" fill="#fff">0.614</text>
<text x="532.50" y="231.21" font-size="8.2" text-anchor="middle" fill="#262626" textLength="32.1" lengthAdjust="spacingAndGlyphs">AA CG AG</text>
<text x="571.10" y="231.21" font-size="8" text-anchor="middle" fill="#fff">0.775</text>
<text x="609.45" y="231.21" font-size="8" text-anchor="middle" fill="#fff">0.606</text>
<text x="532.50" y="242.50" font-size="8.2" text-anchor="middle" fill="#262626" textLength="32.9" lengthAdjust="spacingAndGlyphs">GA CG GT</text>
<text x="571.10" y="242.50" font-size="8" text-anchor="middle" fill="#fff">0.630</text>
<text x="609.45" y="242.50" font-size="8" text-anchor="middle" fill="#fff">0.702</text>
<text x="532.50" y="253.79" font-size="8.2" text-anchor="middle" fill="#262626" textLength="32.0" lengthAdjust="spacingAndGlyphs">CC CG TT</text>
<text x="571.10" y="253.79" font-size="8" text-anchor="middle" fill="#fff">0.643</text>
<text x="609.45" y="253.79" font-size="8" text-anchor="middle" fill="#fff">0.653</text>
<text x="532.50" y="265.08" font-size="8.2" text-anchor="middle" fill="#262626" textLength="31.2" lengthAdjust="spacingAndGlyphs">TA CG AG</text>
<text x="571.10" y="265.08" font-size="8" text-anchor="middle" fill="#fff">0.661</text>
<text x="609.45" y="265.08" font-size="8" text-anchor="middle" fill="#fff">0.589</text>
<text x="532.50" y="276.37" font-size="8.2" text-anchor="middle" fill="#262626" textLength="31.6" lengthAdjust="spacingAndGlyphs">CC CG AT</text>
<text x="571.10" y="276.37" font-size="8" text-anchor="middle" fill="#fff">0.568</text>
<text x="609.45" y="276.37" font-size="8" text-anchor="middle" fill="#fff">0.655</text>
<rect x="513.50" y="331.10" width="38.40" height="225.80" fill="#fff"/>
<rect x="551.90" y="331.10" width="38.40" height="11.29" fill="#ffc412"/>
<rect x="590.30" y="331.10" width="38.10" height="11.29" fill="#ffc618"/>
<rect x="551.90" y="342.39" width="38.40" height="11.29" fill="#ffc206"/>
<rect x="590.30" y="342.39" width="38.10" height="11.29" fill="#ffc61a"/>
<rect x="551.90" y="353.68" width="38.40" height="11.29" fill="#ffc411"/>
<rect x="590.30" y="353.68" width="38.10" height="11.29" fill="#ffc411"/>
<rect x="551.90" y="364.97" width="38.40" height="11.29" fill="#ffc411"/>
<rect x="590.30" y="364.97" width="38.10" height="11.29" fill="#ffc411"/>
<rect x="551.90" y="376.26" width="38.40" height="11.29" fill="#ffc30e"/>
<rect x="590.30" y="376.26" width="38.10" height="11.29" fill="#ffc410"/>
<rect x="551.90" y="387.55" width="38.40" height="11.29" fill="#ffc206"/>
<rect x="590.30" y="387.55" width="38.10" height="11.29" fill="#ffc515"/>
<rect x="551.90" y="398.84" width="38.40" height="11.29" fill="#ffc208"/>
<rect x="590.30" y="398.84" width="38.10" height="11.29" fill="#ffc40f"/>
<rect x="551.90" y="410.13" width="38.40" height="11.29" fill="#ffc30c"/>
<rect x="590.30" y="410.13" width="38.10" height="11.29" fill="#ffc30c"/>
<rect x="551.90" y="421.42" width="38.40" height="11.29" fill="#ffc207"/>
<rect x="590.30" y="421.42" width="38.10" height="11.29" fill="#ffc30e"/>
<rect x="551.90" y="432.71" width="38.40" height="11.29" fill="#ffc208"/>
<rect x="590.30" y="432.71" width="38.10" height="11.29" fill="#ffc30c"/>
<rect x="551.90" y="444.00" width="38.40" height="11.29" fill="#ffc206"/>
<rect x="590.30" y="444.00" width="38.10" height="11.29" fill="#ffc30d"/>
<rect x="551.90" y="455.29" width="38.40" height="11.29" fill="#ffc105"/>
<rect x="590.30" y="455.29" width="38.10" height="11.29" fill="#ffc30d"/>
<rect x="551.90" y="466.58" width="38.40" height="11.29" fill="#ffc103"/>
<rect x="590.30" y="466.58" width="38.10" height="11.29" fill="#ffc30c"/>
<rect x="551.90" y="477.87" width="38.40" height="11.29" fill="#ffc105"/>
<rect x="590.30" y="477.87" width="38.10" height="11.29" fill="#ffc30b"/>
<rect x="551.90" y="489.16" width="38.40" height="11.29" fill="#ffc20a"/>
<rect x="590.30" y="489.16" width="38.10" height="11.29" fill="#ffc103"/>
<rect x="551.90" y="500.45" width="38.40" height="11.29" fill="#ffc103"/>
<rect x="590.30" y="500.45" width="38.10" height="11.29" fill="#ffc206"/>
<rect x="551.90" y="511.74" width="38.40" height="11.29" fill="#ffc000"/>
<rect x="590.30" y="511.74" width="38.10" height="11.29" fill="#ffc105"/>
<rect x="551.90" y="523.03" width="38.40" height="11.29" fill="#ffc206"/>
<rect x="590.30" y="523.03" width="38.10" height="11.29" fill="#ffc000"/>
<rect x="551.90" y="534.32" width="38.40" height="11.29" fill="#ffc104"/>
<rect x="590.30" y="534.32" width="38.10" height="11.29" fill="#ffc002"/>
<rect x="551.90" y="545.61" width="38.40" height="11.29" fill="#ffc206"/>
<rect x="590.30" y="545.61" width="38.10" height="11.29" fill="#ffc000"/>
<path d="M513.5,331.10H628.4M513.5,342.39H628.4M513.5,353.68H628.4M513.5,364.97H628.4M513.5,376.26H628.4M513.5,387.55H628.4M513.5,398.84H628.4M513.5,410.13H628.4M513.5,421.42H628.4M513.5,432.71H628.4M513.5,444.00H628.4M513.5,455.29H628.4M513.5,466.58H628.4M513.5,477.87H628.4M513.5,489.16H628.4M513.5,500.45H628.4M513.5,511.74H628.4M513.5,523.03H628.4M513.5,534.32H628.4M513.5,545.61H628.4M513.5,556.90H628.4M513.5,331.1V556.90M551.9,331.1V556.90M590.3,331.1V556.90M628.4,331.1V556.90" stroke="#202020" stroke-width="0.9" fill="none"/>
<text x="532.50" y="339.96" font-size="8.2" text-anchor="middle" fill="#262626" textLength="31.2" lengthAdjust="spacingAndGlyphs">TT CG CT</text>
<text x="571.10" y="339.96" font-size="8" text-anchor="middle" fill="#1e1a00">0.027</text>
<text x="609.35" y="339.96" font-size="8" text-anchor="middle" fill="#1e1a00">0.044</text>
<text x="532.50" y="351.25" font-size="8.2" text-anchor="middle" fill="#262626" textLength="33.2" lengthAdjust="spacingAndGlyphs">AG CG CA</text>
<text x="571.10" y="351.25" font-size="8" text-anchor="middle" fill="#1e1a00">0.016</text>
<text x="609.35" y="351.25" font-size="8" text-anchor="middle" fill="#1e1a00">0.047</text>
<text x="532.50" y="362.54" font-size="8.2" text-anchor="middle" fill="#262626" textLength="32.9" lengthAdjust="spacingAndGlyphs">AG CG CT</text>
<text x="571.10" y="362.54" font-size="8" text-anchor="middle" fill="#1e1a00">0.026</text>
<text x="609.35" y="362.54" font-size="8" text-anchor="middle" fill="#1e1a00">0.037</text>
<text x="532.50" y="373.83" font-size="8.2" text-anchor="middle" fill="#262626" textLength="33.2" lengthAdjust="spacingAndGlyphs">CG CG CT</text>
<text x="571.10" y="373.83" font-size="8" text-anchor="middle" fill="#1e1a00">0.026</text>
<text x="609.35" y="373.83" font-size="8" text-anchor="middle" fill="#1e1a00">0.037</text>
<text x="532.50" y="385.12" font-size="8.2" text-anchor="middle" fill="#262626" textLength="33.6" lengthAdjust="spacingAndGlyphs">GG CG CT</text>
<text x="571.10" y="385.12" font-size="8" text-anchor="middle" fill="#1e1a00">0.023</text>
<text x="609.35" y="385.12" font-size="8" text-anchor="middle" fill="#1e1a00">0.036</text>
<text x="532.50" y="396.41" font-size="8.2" text-anchor="middle" fill="#262626" textLength="33.6" lengthAdjust="spacingAndGlyphs">AG CG CC</text>
<text x="571.10" y="396.41" font-size="8" text-anchor="middle" fill="#1e1a00">0.016</text>
<text x="609.35" y="396.41" font-size="8" text-anchor="middle" fill="#1e1a00">0.041</text>
<text x="532.50" y="407.70" font-size="8.2" text-anchor="middle" fill="#262626" textLength="34.0" lengthAdjust="spacingAndGlyphs">CG CG CC</text>
<text x="571.10" y="407.70" font-size="8" text-anchor="middle" fill="#1e1a00">0.018</text>
<text x="609.35" y="407.70" font-size="8" text-anchor="middle" fill="#1e1a00">0.035</text>
<text x="532.50" y="418.99" font-size="8.2" text-anchor="middle" fill="#262626" textLength="33.6" lengthAdjust="spacingAndGlyphs">CG CG CA</text>
<text x="571.10" y="418.99" font-size="8" text-anchor="middle" fill="#1e1a00">0.021</text>
<text x="609.35" y="418.99" font-size="8" text-anchor="middle" fill="#1e1a00">0.031</text>
<text x="532.50" y="430.28" font-size="8.2" text-anchor="middle" fill="#262626" textLength="34.0" lengthAdjust="spacingAndGlyphs">CG CG CG</text>
<text x="571.10" y="430.28" font-size="8" text-anchor="middle" fill="#1e1a00">0.017</text>
<text x="609.35" y="430.28" font-size="8" text-anchor="middle" fill="#1e1a00">0.033</text>
<text x="532.50" y="441.57" font-size="8.2" text-anchor="middle" fill="#262626" textLength="31.6" lengthAdjust="spacingAndGlyphs">TT CG CA</text>
<text x="571.10" y="441.57" font-size="8" text-anchor="middle" fill="#1e1a00">0.018</text>
<text x="609.35" y="441.57" font-size="8" text-anchor="middle" fill="#1e1a00">0.031</text>
<text x="532.50" y="452.86" font-size="8.2" text-anchor="middle" fill="#262626" textLength="34.0" lengthAdjust="spacingAndGlyphs">GG CG CC</text>
<text x="571.10" y="452.86" font-size="8" text-anchor="middle" fill="#1e1a00">0.016</text>
<text x="609.35" y="452.86" font-size="8" text-anchor="middle" fill="#1e1a00">0.032</text>
<text x="532.50" y="464.15" font-size="8.2" text-anchor="middle" fill="#262626" textLength="34.0" lengthAdjust="spacingAndGlyphs">GG CG CA</text>
<text x="571.10" y="464.15" font-size="8" text-anchor="middle" fill="#1e1a00">0.015</text>
<text x="609.35" y="464.15" font-size="8" text-anchor="middle" fill="#1e1a00">0.032</text>
<text x="532.50" y="475.44" font-size="8.2" text-anchor="middle" fill="#262626" textLength="34.0" lengthAdjust="spacingAndGlyphs">GG CG CG</text>
<text x="571.10" y="475.44" font-size="8" text-anchor="middle" fill="#1e1a00">0.013</text>
<text x="609.35" y="475.44" font-size="8" text-anchor="middle" fill="#1e1a00">0.031</text>
<text x="532.50" y="486.73" font-size="8.2" text-anchor="middle" fill="#262626" textLength="32.9" lengthAdjust="spacingAndGlyphs">TG CG CA</text>
<text x="571.10" y="486.73" font-size="8" text-anchor="middle" fill="#1e1a00">0.015</text>
<text x="609.35" y="486.73" font-size="8" text-anchor="middle" fill="#1e1a00">0.030</text>
<text x="532.50" y="498.02" font-size="8.2" text-anchor="middle" fill="#262626" textLength="32.5" lengthAdjust="spacingAndGlyphs">TG CG CT</text>
<text x="571.10" y="498.02" font-size="8" text-anchor="middle" fill="#1e1a00">0.019</text>
<text x="609.35" y="498.02" font-size="8" text-anchor="middle" fill="#1e1a00">0.021</text>
<text x="532.50" y="509.31" font-size="8.2" text-anchor="middle" fill="#262626" textLength="32.0" lengthAdjust="spacingAndGlyphs">TT CG CC</text>
<text x="571.10" y="509.31" font-size="8" text-anchor="middle" fill="#1e1a00">0.013</text>
<text x="609.35" y="509.31" font-size="8" text-anchor="middle" fill="#1e1a00">0.025</text>
<text x="532.50" y="520.60" font-size="8.2" text-anchor="middle" fill="#262626" textLength="33.6" lengthAdjust="spacingAndGlyphs">TG CG CG</text>
<text x="571.10" y="520.60" font-size="8" text-anchor="middle" fill="#1e1a00">0.010</text>
<text x="609.35" y="520.60" font-size="8" text-anchor="middle" fill="#1e1a00">0.024</text>
<text x="532.50" y="531.89" font-size="8.2" text-anchor="middle" fill="#262626" textLength="32.4" lengthAdjust="spacingAndGlyphs">TT CG CG</text>
<text x="571.10" y="531.89" font-size="8" text-anchor="middle" fill="#1e1a00">0.016</text>
<text x="609.35" y="531.89" font-size="8" text-anchor="middle" fill="#1e1a00">0.018</text>
<text x="532.50" y="543.18" font-size="8.2" text-anchor="middle" fill="#262626" textLength="33.2" lengthAdjust="spacingAndGlyphs">TG CG CC</text>
<text x="571.10" y="543.18" font-size="8" text-anchor="middle" fill="#1e1a00">0.014</text>
<text x="609.35" y="543.18" font-size="8" text-anchor="middle" fill="#1e1a00">0.020</text>
<text x="532.50" y="554.47" font-size="8.2" text-anchor="middle" fill="#262626" textLength="34.0" lengthAdjust="spacingAndGlyphs">AG CG CG</text>
<text x="571.10" y="554.47" font-size="8" text-anchor="middle" fill="#1e1a00">0.016</text>
<text x="609.35" y="554.47" font-size="8" text-anchor="middle" fill="#1e1a00">0.018</text>
<path d="M164,53.2H215.7" stroke="#000" stroke-width="1.8" fill="none" stroke-linejoin="miter"/>
<path d="M164,92.7H170.7L215.2,278.3" stroke="#000" stroke-width="1.8" fill="none" stroke-linejoin="miter"/>
<path d="M164,517.6H170.6L214.8,331.3" stroke="#000" stroke-width="1.8" fill="none" stroke-linejoin="miter"/>
<path d="M164,556.6H215.5" stroke="#000" stroke-width="1.8" fill="none" stroke-linejoin="miter"/>
<path d="M460.2,53.3H468M469.3,53.3H513.6" stroke="#000" stroke-width="1.8" fill="none" stroke-linejoin="miter"/>
<path d="M460.2,93H468.8L513.5,278.6" stroke="#000" stroke-width="1.8" fill="none" stroke-linejoin="miter"/>
<path d="M460.2,518.1H468.6L513.4,331" stroke="#000" stroke-width="1.8" fill="none" stroke-linejoin="miter"/>
<path d="M460.2,557.8H468.1M468.7,549.6H513.5" stroke="#000" stroke-width="1.8" fill="none" stroke-linejoin="miter"/>
<circle cx="260.8" cy="300.8" r="2.4" fill="#000"/>
<circle cx="268.6" cy="300.8" r="2.4" fill="#000"/>
<circle cx="276.3" cy="300.8" r="2.4" fill="#000"/>
<circle cx="564.5" cy="300.8" r="2.4" fill="#000"/>
<circle cx="572.4" cy="300.8" r="2.4" fill="#000"/>
<circle cx="580.3" cy="300.8" r="2.4" fill="#000"/>
<rect x="663.70" y="208.90" width="16.20" height="9.62" fill="#4472c4"/>
<rect x="663.70" y="218.22" width="16.20" height="9.62" fill="#5780ca"/>
<rect x="663.70" y="227.54" width="16.20" height="9.62" fill="#698ed0"/>
<rect x="663.70" y="236.86" width="16.20" height="9.62" fill="#7c9cd6"/>
<rect x="663.70" y="246.18" width="16.20" height="9.62" fill="#8faadc"/>
<rect x="663.70" y="255.50" width="16.20" height="9.62" fill="#a2b8e2"/>
<rect x="663.70" y="264.81" width="16.20" height="9.62" fill="#b4c7e7"/>
<rect x="663.70" y="274.13" width="16.20" height="9.62" fill="#c7d5ed"/>
<rect x="663.70" y="283.45" width="16.20" height="9.62" fill="#dae3f3"/>
<rect x="663.70" y="292.77" width="16.20" height="9.62" fill="#ecf1f9"/>
<rect x="663.70" y="302.09" width="16.20" height="9.62" fill="#ffffff"/>
<rect x="663.70" y="311.41" width="16.20" height="9.62" fill="#fff9e6"/>
<rect x="663.70" y="320.73" width="16.20" height="9.62" fill="#fff2cc"/>
<rect x="663.70" y="330.05" width="16.20" height="9.62" fill="#ffecb2"/>
<rect x="663.70" y="339.37" width="16.20" height="9.62" fill="#ffe699"/>
<rect x="663.70" y="348.69" width="16.20" height="9.62" fill="#ffe080"/>
<rect x="663.70" y="358.00" width="16.20" height="9.62" fill="#ffd966"/>
<rect x="663.70" y="367.32" width="16.20" height="9.62" fill="#ffd34c"/>
<rect x="663.70" y="376.64" width="16.20" height="9.62" fill="#ffcd33"/>
<rect x="663.70" y="385.96" width="16.20" height="9.62" fill="#ffc61a"/>
<rect x="663.70" y="395.28" width="16.20" height="9.32" fill="#ffc000"/>
<text x="659.0" y="203.9" font-size="13.8" fill="#000">high</text>
<text x="660.8" y="417.7" font-size="14" fill="#000">low</text>
<text transform="translate(654.2,335.6) rotate(-90)" font-size="19" fill="#000" textLength="57" lengthAdjust="spacingAndGlyphs">activity</text>
<text x="-0.6" y="602.3" font-size="35" font-weight="bold" textLength="20.2" lengthAdjust="spacingAndGlyphs" fill="#000">b</text>
<rect x="77.70" y="672.30" width="31.70" height="29.70" fill="#63be7b"/>
<rect x="109.40" y="672.30" width="31.10" height="29.70" fill="#6ec384"/>
<rect x="140.50" y="672.30" width="31.80" height="29.70" fill="#b6e2bf"/>
<rect x="172.30" y="672.30" width="31.30" height="29.70" fill="#e3f3e6"/>
<rect x="77.70" y="702.00" width="31.70" height="29.60" fill="#6ec384"/>
<rect x="109.40" y="702.00" width="31.10" height="29.60" fill="#63be7b"/>
<rect x="140.50" y="702.00" width="31.80" height="29.60" fill="#a0d8ac"/>
<rect x="172.30" y="702.00" width="31.30" height="29.60" fill="#a0d8ac"/>
<rect x="77.70" y="731.60" width="31.70" height="29.70" fill="#b6e2bf"/>
<rect x="109.40" y="731.60" width="31.10" height="29.70" fill="#a0d8ac"/>
<rect x="140.50" y="731.60" width="31.80" height="29.70" fill="#63be7b"/>
<rect x="172.30" y="731.60" width="31.30" height="29.70" fill="#65bf7d"/>
<rect x="77.70" y="761.30" width="31.70" height="29.70" fill="#e3f3e6"/>
<rect x="109.40" y="761.30" width="31.10" height="29.70" fill="#a0d8ac"/>
<rect x="140.50" y="761.30" width="31.80" height="29.70" fill="#65bf7d"/>
<rect x="172.30" y="761.30" width="31.30" height="29.70" fill="#63be7b"/>
<path d="M14.5,612.5H203.6V791.0H14.5ZM77.7,612.5V672.3M140.5,612.5V672.3M77.7,642.0H203.6M109.4,642.0V672.3M172.3,642.0V672.3M14.5,672.3H203.6M45.7,672.3V791.0M77.7,672.3V791.0M14.5,731.6H77.7M45.7,702.0H77.7M45.7,761.3H77.7" stroke="#3a3a3a" stroke-width="1" fill="none"/>
<text x="109.1" y="632.2" font-size="12.6" font-weight="bold" text-anchor="middle" textLength="25.6" lengthAdjust="spacingAndGlyphs" fill="#000">TET1</text>
<text x="172.05" y="632.2" font-size="12.6" font-weight="bold" text-anchor="middle" textLength="25.6" lengthAdjust="spacingAndGlyphs" fill="#000">TET2</text>
<text x="93.55000000000001" y="661.7" font-size="11.2" font-weight="bold" text-anchor="middle" textLength="21.9" lengthAdjust="spacingAndGlyphs" fill="#000">5mC</text>
<text x="124.95" y="661.7" font-size="11.2" font-weight="bold" text-anchor="middle" textLength="28.5" lengthAdjust="spacingAndGlyphs" fill="#000">5hmC</text>
<text x="156.4" y="661.7" font-size="11.2" font-weight="bold" text-anchor="middle" textLength="21.9" lengthAdjust="spacingAndGlyphs" fill="#000">5mC</text>
<text x="187.95" y="661.7" font-size="11.2" font-weight="bold" text-anchor="middle" textLength="28.5" lengthAdjust="spacingAndGlyphs" fill="#000">5hmC</text>
<text x="61.7" y="691.65" font-size="11.2" font-weight="bold" text-anchor="middle" textLength="25" lengthAdjust="spacingAndGlyphs" fill="#000">5mC</text>
<text x="93.55000000000001" y="691.65" font-size="11.5" text-anchor="middle" textLength="20.4" lengthAdjust="spacingAndGlyphs" fill="#141414">1.00</text>
<text x="124.95" y="691.65" font-size="11.5" text-anchor="middle" textLength="20.4" lengthAdjust="spacingAndGlyphs" fill="#141414">0.93</text>
<text x="156.4" y="691.65" font-size="11.5" text-anchor="middle" textLength="20.4" lengthAdjust="spacingAndGlyphs" fill="#141414">0.82</text>
<text x="187.95" y="691.65" font-size="11.5" text-anchor="middle" textLength="20.4" lengthAdjust="spacingAndGlyphs" fill="#141414">0.75</text>
<text x="61.7" y="721.3" font-size="11.2" font-weight="bold" text-anchor="middle" textLength="29.6" lengthAdjust="spacingAndGlyphs" fill="#000">5hmC</text>
<text x="93.55000000000001" y="721.3" font-size="11.5" text-anchor="middle" textLength="20.4" lengthAdjust="spacingAndGlyphs" fill="#141414">0.93</text>
<text x="124.95" y="721.3" font-size="11.5" text-anchor="middle" textLength="20.4" lengthAdjust="spacingAndGlyphs" fill="#141414">1.00</text>
<text x="156.4" y="721.3" font-size="11.5" text-anchor="middle" textLength="20.4" lengthAdjust="spacingAndGlyphs" fill="#141414">0.85</text>
<text x="187.95" y="721.3" font-size="11.5" text-anchor="middle" textLength="20.4" lengthAdjust="spacingAndGlyphs" fill="#141414">0.85</text>
<text x="61.7" y="750.95" font-size="11.2" font-weight="bold" text-anchor="middle" textLength="25" lengthAdjust="spacingAndGlyphs" fill="#000">5mC</text>
<text x="93.55000000000001" y="750.95" font-size="11.5" text-anchor="middle" textLength="20.4" lengthAdjust="spacingAndGlyphs" fill="#141414">0.82</text>
<text x="124.95" y="750.95" font-size="11.5" text-anchor="middle" textLength="20.4" lengthAdjust="spacingAndGlyphs" fill="#141414">0.85</text>
<text x="156.4" y="750.95" font-size="11.5" text-anchor="middle" textLength="20.4" lengthAdjust="spacingAndGlyphs" fill="#141414">1.00</text>
<text x="187.95" y="750.95" font-size="11.5" text-anchor="middle" textLength="20.4" lengthAdjust="spacingAndGlyphs" fill="#141414">0.95</text>
<text x="61.7" y="780.65" font-size="11.2" font-weight="bold" text-anchor="middle" textLength="29.6" lengthAdjust="spacingAndGlyphs" fill="#000">5hmC</text>
<text x="93.55000000000001" y="780.65" font-size="11.5" text-anchor="middle" textLength="20.4" lengthAdjust="spacingAndGlyphs" fill="#141414">0.75</text>
<text x="124.95" y="780.65" font-size="11.5" text-anchor="middle" textLength="20.4" lengthAdjust="spacingAndGlyphs" fill="#141414">0.85</text>
<text x="156.4" y="780.65" font-size="11.5" text-anchor="middle" textLength="20.4" lengthAdjust="spacingAndGlyphs" fill="#141414">0.95</text>
<text x="187.95" y="780.65" font-size="11.5" text-anchor="middle" textLength="20.4" lengthAdjust="spacingAndGlyphs" fill="#141414">1.00</text>
<text transform="translate(34.60,701.95) rotate(-90)" font-size="12.6" font-weight="bold" text-anchor="middle" textLength="26.3" lengthAdjust="spacingAndGlyphs">TET1</text>
<text transform="translate(34.60,761.30) rotate(-90)" font-size="12.6" font-weight="bold" text-anchor="middle" textLength="26.3" lengthAdjust="spacingAndGlyphs">TET2</text>
<text x="222.6" y="602.3" font-size="32.5" font-weight="bold" textLength="16.6" lengthAdjust="spacingAndGlyphs" fill="#000">c</text>
<defs><path id="gA" d="M78.7 100 69.7 74.4H30.6L21.5 100H-0L37.4 0H62.7L100 100ZM50.1 15.4 49.6 17Q48.9 19.5 47.9 22.8Q46.9 26 35.4 58.7H64.8L54.7 30L51.6 20.3Z"/><path id="gC" d="M53.1 84Q73 84 80.8 65.5L100 72.2Q93.8 86.3 81.8 93.1Q69.8 100 53.1 100Q27.7 100 13.9 86.7Q-0 73.4 -0 49.6Q-0 25.7 13.4 12.8Q26.7 0 52.1 0Q70.6 0 82.3 6.9Q94 13.7 98.7 27L79.2 31.9Q76.8 24.6 69.6 20.3Q62.4 16 52.6 16Q37.6 16 29.9 24.6Q22.2 33.1 22.2 49.6Q22.2 66.3 30.1 75.2Q38.1 84 53.1 84Z"/><path id="gG" d="M52.2 84.1Q60.6 84.1 68.4 81.8Q76.2 79.4 80.5 75.9V62.4H55.6V47.4H100V83.1Q91.9 91 78.9 95.5Q65.9 100 51.7 100Q26.8 100 13.4 86.9Q0 73.7 0 49.6Q0 25.6 13.5 12.8Q26.9 0 52.2 0Q88.1 0 97.8 25.3L78.1 31Q75 23.6 68.2 19.8Q61.4 16 52.2 16Q37.1 16 29.3 24.7Q21.5 33.4 21.5 49.6Q21.5 66.1 29.6 75.1Q37.6 84.1 52.2 84.1Z"/><path id="gT" d="M62.2 16.2V100H37.7V16.2H0V0H100V16.2Z"/></defs>
<path d="M323.5,634.5V679.9M319.7,634.50H323.5M321.7,639.04H323.5M321.7,643.58H323.5M321.7,648.12H323.5M321.7,652.66H323.5M319.7,657.20H323.5M321.7,661.74H323.5M321.7,666.28H323.5M321.7,670.82H323.5M321.7,675.36H323.5M319.7,679.90H323.5" stroke="#333" stroke-width="0.85" fill="none"/>
<text x="319.40" y="636.70" font-size="6.5" text-anchor="end" fill="#3a3a3a" textLength="8.8" lengthAdjust="spacingAndGlyphs">1.0</text>
<text x="319.40" y="659.40" font-size="6.5" text-anchor="end" fill="#3a3a3a" textLength="8.8" lengthAdjust="spacingAndGlyphs">0.5</text>
<text x="319.40" y="682.10" font-size="6.5" text-anchor="end" fill="#3a3a3a" textLength="8.8" lengthAdjust="spacingAndGlyphs">0.0</text>
<text transform="translate(306.70,657.20) rotate(-90)" font-size="8.4" text-anchor="middle" fill="#333">probability</text>
<use href="#gT" fill="#ff0000" transform="translate(324.60,634.50) scale(0.0850,0.4540)"/>
<use href="#gA" fill="#008000" transform="translate(333.65,634.50) scale(0.0850,0.4540)"/>
<use href="#gC" fill="#0000ff" transform="translate(342.70,634.50) scale(0.0850,0.4540)"/>
<use href="#gG" fill="#ffa500" transform="translate(351.75,634.50) scale(0.0850,0.4540)"/>
<use href="#gA" fill="#008000" transform="translate(360.80,639.49) scale(0.0850,0.1453)"/>
<use href="#gG" fill="#ffa500" transform="translate(360.80,654.48) scale(0.0850,0.1226)"/>
<use href="#gT" fill="#ff0000" transform="translate(360.80,667.19) scale(0.0850,0.1271)"/>
<use href="#gA" fill="#008000" transform="translate(369.85,634.50) scale(0.0850,0.1271)"/>
<use href="#gG" fill="#ffa500" transform="translate(369.85,647.67) scale(0.0850,0.1271)"/>
<use href="#gT" fill="#ff0000" transform="translate(369.85,660.83) scale(0.0850,0.1248)"/>
<use href="#gC" fill="#0000ff" transform="translate(369.85,673.77) scale(0.0850,0.0613)"/>
<path d="M418.5,634.5V679.9M414.7,634.50H418.5M416.7,639.04H418.5M416.7,643.58H418.5M416.7,648.12H418.5M416.7,652.66H418.5M414.7,657.20H418.5M416.7,661.74H418.5M416.7,666.28H418.5M416.7,670.82H418.5M416.7,675.36H418.5M414.7,679.90H418.5" stroke="#333" stroke-width="0.85" fill="none"/>
<text x="414.40" y="636.70" font-size="6.5" text-anchor="end" fill="#3a3a3a" textLength="8.8" lengthAdjust="spacingAndGlyphs">1.0</text>
<text x="414.40" y="659.40" font-size="6.5" text-anchor="end" fill="#3a3a3a" textLength="8.8" lengthAdjust="spacingAndGlyphs">0.5</text>
<text x="414.40" y="682.10" font-size="6.5" text-anchor="end" fill="#3a3a3a" textLength="8.8" lengthAdjust="spacingAndGlyphs">0.0</text>
<text transform="translate(401.70,657.20) rotate(-90)" font-size="8.4" text-anchor="middle" fill="#333">probability</text>
<use href="#gT" fill="#ff0000" transform="translate(419.60,634.50) scale(0.0850,0.2633)"/>
<use href="#gG" fill="#ffa500" transform="translate(419.60,660.83) scale(0.0850,0.1271)"/>
<use href="#gC" fill="#0000ff" transform="translate(419.60,673.54) scale(0.0850,0.0636)"/>
<use href="#gA" fill="#008000" transform="translate(428.65,634.50) scale(0.0850,0.3133)"/>
<use href="#gC" fill="#0000ff" transform="translate(428.65,666.28) scale(0.0850,0.1362)"/>
<use href="#gC" fill="#0000ff" transform="translate(437.70,634.50) scale(0.0850,0.4540)"/>
<use href="#gG" fill="#ffa500" transform="translate(446.75,634.50) scale(0.0850,0.4540)"/>
<use href="#gT" fill="#ff0000" transform="translate(455.80,634.50) scale(0.0850,0.3269)"/>
<use href="#gA" fill="#008000" transform="translate(455.80,667.19) scale(0.0850,0.0817)"/>
<use href="#gC" fill="#0000ff" transform="translate(455.80,675.36) scale(0.0850,0.0454)"/>
<use href="#gG" fill="#ffa500" transform="translate(464.85,634.50) scale(0.0850,0.1952)"/>
<use href="#gT" fill="#ff0000" transform="translate(464.85,654.02) scale(0.0850,0.1226)"/>
<use href="#gA" fill="#008000" transform="translate(464.85,666.73) scale(0.0850,0.0681)"/>
<use href="#gC" fill="#0000ff" transform="translate(464.85,674.00) scale(0.0850,0.0590)"/>
<path d="M513.8,634.5V679.9M509.99999999999994,634.50H513.8M511.99999999999994,639.04H513.8M511.99999999999994,643.58H513.8M511.99999999999994,648.12H513.8M511.99999999999994,652.66H513.8M509.99999999999994,657.20H513.8M511.99999999999994,661.74H513.8M511.99999999999994,666.28H513.8M511.99999999999994,670.82H513.8M511.99999999999994,675.36H513.8M509.99999999999994,679.90H513.8" stroke="#333" stroke-width="0.85" fill="none"/>
<text x="509.70" y="636.70" font-size="6.5" text-anchor="end" fill="#3a3a3a" textLength="8.8" lengthAdjust="spacingAndGlyphs">1.0</text>
<text x="509.70" y="659.40" font-size="6.5" text-anchor="end" fill="#3a3a3a" textLength="8.8" lengthAdjust="spacingAndGlyphs">0.5</text>
<text x="509.70" y="682.10" font-size="6.5" text-anchor="end" fill="#3a3a3a" textLength="8.8" lengthAdjust="spacingAndGlyphs">0.0</text>
<text transform="translate(497.00,657.20) rotate(-90)" font-size="8.4" text-anchor="middle" fill="#333">probability</text>
<use href="#gA" fill="#008000" transform="translate(514.90,634.50) scale(0.0850,0.1589)"/>
<use href="#gG" fill="#ffa500" transform="translate(514.90,651.30) scale(0.0850,0.0908)"/>
<use href="#gT" fill="#ff0000" transform="translate(514.90,660.83) scale(0.0850,0.1180)"/>
<use href="#gC" fill="#0000ff" transform="translate(514.90,673.54) scale(0.0850,0.0636)"/>
<use href="#gA" fill="#008000" transform="translate(523.95,634.50) scale(0.0850,0.4540)"/>
<use href="#gC" fill="#0000ff" transform="translate(533.00,634.50) scale(0.0850,0.4540)"/>
<use href="#gG" fill="#ffa500" transform="translate(542.05,634.50) scale(0.0850,0.4540)"/>
<use href="#gT" fill="#ff0000" transform="translate(551.10,634.50) scale(0.0850,0.2588)"/>
<use href="#gA" fill="#008000" transform="translate(551.10,660.83) scale(0.0850,0.1907)"/>
<use href="#gT" fill="#ff0000" transform="translate(560.15,634.50) scale(0.0850,0.4540)"/>
<path d="M607.7,634.5V679.9M603.9000000000001,634.50H607.7M605.9000000000001,639.04H607.7M605.9000000000001,643.58H607.7M605.9000000000001,648.12H607.7M605.9000000000001,652.66H607.7M603.9000000000001,657.20H607.7M605.9000000000001,661.74H607.7M605.9000000000001,666.28H607.7M605.9000000000001,670.82H607.7M605.9000000000001,675.36H607.7M603.9000000000001,679.90H607.7" stroke="#333" stroke-width="0.85" fill="none"/>
<text x="603.60" y="636.70" font-size="6.5" text-anchor="end" fill="#3a3a3a" textLength="8.8" lengthAdjust="spacingAndGlyphs">1.0</text>
<text x="603.60" y="659.40" font-size="6.5" text-anchor="end" fill="#3a3a3a" textLength="8.8" lengthAdjust="spacingAndGlyphs">0.5</text>
<text x="603.60" y="682.10" font-size="6.5" text-anchor="end" fill="#3a3a3a" textLength="8.8" lengthAdjust="spacingAndGlyphs">0.0</text>
<text transform="translate(590.90,657.20) rotate(-90)" font-size="8.4" text-anchor="middle" fill="#333">probability</text>
<use href="#gG" fill="#ffa500" transform="translate(608.80,634.50) scale(0.0850,0.3314)"/>
<use href="#gA" fill="#008000" transform="translate(608.80,668.55) scale(0.0850,0.0545)"/>
<use href="#gT" fill="#ff0000" transform="translate(608.80,674.91) scale(0.0850,0.0499)"/>
<use href="#gA" fill="#008000" transform="translate(617.85,634.50) scale(0.0850,0.2452)"/>
<use href="#gC" fill="#0000ff" transform="translate(617.85,659.47) scale(0.0850,0.2043)"/>
<use href="#gC" fill="#0000ff" transform="translate(626.90,634.50) scale(0.0850,0.4540)"/>
<use href="#gG" fill="#ffa500" transform="translate(635.95,634.50) scale(0.0850,0.4540)"/>
<use href="#gT" fill="#ff0000" transform="translate(645.00,634.50) scale(0.0850,0.3541)"/>
<use href="#gA" fill="#008000" transform="translate(645.00,670.82) scale(0.0850,0.0908)"/>
<use href="#gT" fill="#ff0000" transform="translate(654.05,634.50) scale(0.0850,0.3904)"/>
<use href="#gC" fill="#0000ff" transform="translate(654.05,674.00) scale(0.0850,0.0590)"/>
<path d="M323.5,693.7V739.1M319.7,693.70H323.5M321.7,698.24H323.5M321.7,702.78H323.5M321.7,707.32H323.5M321.7,711.86H323.5M319.7,716.40H323.5M321.7,720.94H323.5M321.7,725.48H323.5M321.7,730.02H323.5M321.7,734.56H323.5M319.7,739.10H323.5" stroke="#333" stroke-width="0.85" fill="none"/>
<text x="319.40" y="695.90" font-size="6.5" text-anchor="end" fill="#3a3a3a" textLength="8.8" lengthAdjust="spacingAndGlyphs">1.0</text>
<text x="319.40" y="718.60" font-size="6.5" text-anchor="end" fill="#3a3a3a" textLength="8.8" lengthAdjust="spacingAndGlyphs">0.5</text>
<text x="319.40" y="741.30" font-size="6.5" text-anchor="end" fill="#3a3a3a" textLength="8.8" lengthAdjust="spacingAndGlyphs">0.0</text>
<text transform="translate(306.70,716.40) rotate(-90)" font-size="8.4" text-anchor="middle" fill="#333">probability</text>
<use href="#gT" fill="#ff0000" transform="translate(324.60,693.70) scale(0.0850,0.1861)"/>
<use href="#gC" fill="#0000ff" transform="translate(324.60,713.22) scale(0.0850,0.1317)"/>
<use href="#gA" fill="#008000" transform="translate(324.60,726.84) scale(0.0850,0.0590)"/>
<use href="#gG" fill="#ffa500" transform="translate(324.60,733.20) scale(0.0850,0.0590)"/>
<use href="#gA" fill="#008000" transform="translate(333.65,693.70) scale(0.0850,0.4540)"/>
<use href="#gC" fill="#0000ff" transform="translate(342.70,693.70) scale(0.0850,0.4540)"/>
<use href="#gG" fill="#ffa500" transform="translate(351.75,693.70) scale(0.0850,0.4540)"/>
<use href="#gT" fill="#ff0000" transform="translate(360.80,693.70) scale(0.0850,0.2225)"/>
<use href="#gG" fill="#ffa500" transform="translate(360.80,716.40) scale(0.0850,0.2270)"/>
<use href="#gT" fill="#ff0000" transform="translate(369.85,693.70) scale(0.0850,0.1861)"/>
<use href="#gG" fill="#ffa500" transform="translate(369.85,713.22) scale(0.0850,0.1317)"/>
<use href="#gA" fill="#008000" transform="translate(369.85,726.84) scale(0.0850,0.0590)"/>
<use href="#gC" fill="#0000ff" transform="translate(369.85,733.20) scale(0.0850,0.0590)"/>
<path d="M418.5,693.7V739.1M414.7,693.70H418.5M416.7,698.24H418.5M416.7,702.78H418.5M416.7,707.32H418.5M416.7,711.86H418.5M414.7,716.40H418.5M416.7,720.94H418.5M416.7,725.48H418.5M416.7,730.02H418.5M416.7,734.56H418.5M414.7,739.10H418.5" stroke="#333" stroke-width="0.85" fill="none"/>
<text x="414.40" y="695.90" font-size="6.5" text-anchor="end" fill="#3a3a3a" textLength="8.8" lengthAdjust="spacingAndGlyphs">1.0</text>
<text x="414.40" y="718.60" font-size="6.5" text-anchor="end" fill="#3a3a3a" textLength="8.8" lengthAdjust="spacingAndGlyphs">0.5</text>
<text x="414.40" y="741.30" font-size="6.5" text-anchor="end" fill="#3a3a3a" textLength="8.8" lengthAdjust="spacingAndGlyphs">0.0</text>
<text transform="translate(401.70,716.40) rotate(-90)" font-size="8.4" text-anchor="middle" fill="#333">probability</text>
<use href="#gT" fill="#ff0000" transform="translate(419.60,693.70) scale(0.0850,0.1861)"/>
<use href="#gA" fill="#008000" transform="translate(419.60,713.22) scale(0.0850,0.1226)"/>
<use href="#gG" fill="#ffa500" transform="translate(419.60,726.39) scale(0.0850,0.1271)"/>
<use href="#gA" fill="#008000" transform="translate(428.65,693.70) scale(0.0850,0.4540)"/>
<use href="#gC" fill="#0000ff" transform="translate(437.70,693.70) scale(0.0850,0.4540)"/>
<use href="#gG" fill="#ffa500" transform="translate(446.75,693.70) scale(0.0850,0.4540)"/>
<use href="#gT" fill="#ff0000" transform="translate(455.80,693.70) scale(0.0850,0.3178)"/>
<use href="#gA" fill="#008000" transform="translate(455.80,726.39) scale(0.0850,0.0636)"/>
<use href="#gG" fill="#ffa500" transform="translate(455.80,733.20) scale(0.0850,0.0590)"/>
<use href="#gT" fill="#ff0000" transform="translate(464.85,693.70) scale(0.0850,0.3178)"/>
<use href="#gC" fill="#0000ff" transform="translate(464.85,726.39) scale(0.0850,0.0636)"/>
<use href="#gG" fill="#ffa500" transform="translate(464.85,733.20) scale(0.0850,0.0590)"/>
<path d="M513.8,693.7V739.1M509.99999999999994,693.70H513.8M511.99999999999994,698.24H513.8M511.99999999999994,702.78H513.8M511.99999999999994,707.32H513.8M511.99999999999994,711.86H513.8M509.99999999999994,716.40H513.8M511.99999999999994,720.94H513.8M511.99999999999994,725.48H513.8M511.99999999999994,730.02H513.8M511.99999999999994,734.56H513.8M509.99999999999994,739.10H513.8" stroke="#333" stroke-width="0.85" fill="none"/>
<text x="509.70" y="695.90" font-size="6.5" text-anchor="end" fill="#3a3a3a" textLength="8.8" lengthAdjust="spacingAndGlyphs">1.0</text>
<text x="509.70" y="718.60" font-size="6.5" text-anchor="end" fill="#3a3a3a" textLength="8.8" lengthAdjust="spacingAndGlyphs">0.5</text>
<text x="509.70" y="741.30" font-size="6.5" text-anchor="end" fill="#3a3a3a" textLength="8.8" lengthAdjust="spacingAndGlyphs">0.0</text>
<text transform="translate(497.00,716.40) rotate(-90)" font-size="8.4" text-anchor="middle" fill="#333">probability</text>
<use href="#gA" fill="#008000" transform="translate(514.90,693.70) scale(0.0850,0.1952)"/>
<use href="#gC" fill="#0000ff" transform="translate(514.90,713.68) scale(0.0850,0.1180)"/>
<use href="#gG" fill="#ffa500" transform="translate(514.90,726.39) scale(0.0850,0.0545)"/>
<use href="#gT" fill="#ff0000" transform="translate(514.90,732.74) scale(0.0850,0.0636)"/>
<use href="#gA" fill="#008000" transform="translate(523.95,693.70) scale(0.0850,0.3814)"/>
<use href="#gC" fill="#0000ff" transform="translate(523.95,732.74) scale(0.0850,0.0636)"/>
<use href="#gC" fill="#0000ff" transform="translate(533.00,693.70) scale(0.0850,0.4540)"/>
<use href="#gG" fill="#ffa500" transform="translate(542.05,693.70) scale(0.0850,0.4540)"/>
<use href="#gA" fill="#008000" transform="translate(551.10,693.70) scale(0.0850,0.1861)"/>
<use href="#gG" fill="#ffa500" transform="translate(551.10,713.22) scale(0.0850,0.1861)"/>
<use href="#gT" fill="#ff0000" transform="translate(551.10,732.74) scale(0.0850,0.0636)"/>
<use href="#gT" fill="#ff0000" transform="translate(560.15,693.70) scale(0.0850,0.3178)"/>
<use href="#gC" fill="#0000ff" transform="translate(560.15,726.39) scale(0.0850,0.0636)"/>
<use href="#gG" fill="#ffa500" transform="translate(560.15,733.20) scale(0.0850,0.0590)"/>
<path d="M607.7,693.7V739.1M603.9000000000001,693.70H607.7M605.9000000000001,698.24H607.7M605.9000000000001,702.78H607.7M605.9000000000001,707.32H607.7M605.9000000000001,711.86H607.7M603.9000000000001,716.40H607.7M605.9000000000001,720.94H607.7M605.9000000000001,725.48H607.7M605.9000000000001,730.02H607.7M605.9000000000001,734.56H607.7M603.9000000000001,739.10H607.7" stroke="#333" stroke-width="0.85" fill="none"/>
<text x="603.60" y="695.90" font-size="6.5" text-anchor="end" fill="#3a3a3a" textLength="8.8" lengthAdjust="spacingAndGlyphs">1.0</text>
<text x="603.60" y="718.60" font-size="6.5" text-anchor="end" fill="#3a3a3a" textLength="8.8" lengthAdjust="spacingAndGlyphs">0.5</text>
<text x="603.60" y="741.30" font-size="6.5" text-anchor="end" fill="#3a3a3a" textLength="8.8" lengthAdjust="spacingAndGlyphs">0.0</text>
<text transform="translate(590.90,716.40) rotate(-90)" font-size="8.4" text-anchor="middle" fill="#333">probability</text>
<use href="#gA" fill="#008000" transform="translate(608.80,693.70) scale(0.0850,0.1271)"/>
<use href="#gC" fill="#0000ff" transform="translate(608.80,706.87) scale(0.0850,0.1180)"/>
<use href="#gG" fill="#ffa500" transform="translate(608.80,719.58) scale(0.0850,0.1226)"/>
<use href="#gT" fill="#ff0000" transform="translate(608.80,732.74) scale(0.0850,0.0636)"/>
<use href="#gA" fill="#008000" transform="translate(617.85,693.70) scale(0.0850,0.3814)"/>
<use href="#gC" fill="#0000ff" transform="translate(617.85,732.74) scale(0.0850,0.0636)"/>
<use href="#gC" fill="#0000ff" transform="translate(626.90,693.70) scale(0.0850,0.4540)"/>
<use href="#gG" fill="#ffa500" transform="translate(635.95,693.70) scale(0.0850,0.4540)"/>
<use href="#gG" fill="#ffa500" transform="translate(645.00,693.70) scale(0.0850,0.1952)"/>
<use href="#gA" fill="#008000" transform="translate(645.00,713.68) scale(0.0850,0.1180)"/>
<use href="#gT" fill="#ff0000" transform="translate(645.00,726.39) scale(0.0850,0.1271)"/>
<use href="#gT" fill="#ff0000" transform="translate(654.05,693.70) scale(0.0850,0.3904)"/>
<use href="#gC" fill="#0000ff" transform="translate(654.05,733.20) scale(0.0850,0.0590)"/>
<path d="M323.5,752.9V798.3M319.7,752.90H323.5M321.7,757.44H323.5M321.7,761.98H323.5M321.7,766.52H323.5M321.7,771.06H323.5M319.7,775.60H323.5M321.7,780.14H323.5M321.7,784.68H323.5M321.7,789.22H323.5M321.7,793.76H323.5M319.7,798.30H323.5" stroke="#333" stroke-width="0.85" fill="none"/>
<text x="319.40" y="755.10" font-size="6.5" text-anchor="end" fill="#3a3a3a" textLength="8.8" lengthAdjust="spacingAndGlyphs">1.0</text>
<text x="319.40" y="777.80" font-size="6.5" text-anchor="end" fill="#3a3a3a" textLength="8.8" lengthAdjust="spacingAndGlyphs">0.5</text>
<text x="319.40" y="800.50" font-size="6.5" text-anchor="end" fill="#3a3a3a" textLength="8.8" lengthAdjust="spacingAndGlyphs">0.0</text>
<text transform="translate(306.70,775.60) rotate(-90)" font-size="8.4" text-anchor="middle" fill="#333">probability</text>
<use href="#gA" fill="#008000" transform="translate(324.60,752.90) scale(0.0850,0.1544)"/>
<use href="#gG" fill="#ffa500" transform="translate(324.60,768.79) scale(0.0850,0.1180)"/>
<use href="#gC" fill="#0000ff" transform="translate(324.60,781.50) scale(0.0850,0.0999)"/>
<use href="#gT" fill="#ff0000" transform="translate(324.60,792.40) scale(0.0850,0.0590)"/>
<use href="#gA" fill="#008000" transform="translate(333.65,752.90) scale(0.0850,0.4540)"/>
<use href="#gC" fill="#0000ff" transform="translate(342.70,752.90) scale(0.0850,0.4540)"/>
<use href="#gG" fill="#ffa500" transform="translate(351.75,752.90) scale(0.0850,0.4540)"/>
<use href="#gT" fill="#ff0000" transform="translate(360.80,752.90) scale(0.0850,0.1680)"/>
<use href="#gA" fill="#008000" transform="translate(360.80,770.15) scale(0.0850,0.1544)"/>
<use href="#gG" fill="#ffa500" transform="translate(360.80,786.04) scale(0.0850,0.0908)"/>
<use href="#gC" fill="#0000ff" transform="translate(360.80,796.03) scale(0.0850,0.0227)"/>
<use href="#gT" fill="#ff0000" transform="translate(369.85,752.90) scale(0.0850,0.1589)"/>
<use href="#gA" fill="#008000" transform="translate(369.85,769.70) scale(0.0850,0.1090)"/>
<use href="#gG" fill="#ffa500" transform="translate(369.85,781.50) scale(0.0850,0.0863)"/>
<use href="#gC" fill="#0000ff" transform="translate(369.85,791.04) scale(0.0850,0.0726)"/>
<path d="M418.5,752.9V798.3M414.7,752.90H418.5M416.7,757.44H418.5M416.7,761.98H418.5M416.7,766.52H418.5M416.7,771.06H418.5M414.7,775.60H418.5M416.7,780.14H418.5M416.7,784.68H418.5M416.7,789.22H418.5M416.7,793.76H418.5M414.7,798.30H418.5" stroke="#333" stroke-width="0.85" fill="none"/>
<text x="414.40" y="755.10" font-size="6.5" text-anchor="end" fill="#3a3a3a" textLength="8.8" lengthAdjust="spacingAndGlyphs">1.0</text>
<text x="414.40" y="777.80" font-size="6.5" text-anchor="end" fill="#3a3a3a" textLength="8.8" lengthAdjust="spacingAndGlyphs">0.5</text>
<text x="414.40" y="800.50" font-size="6.5" text-anchor="end" fill="#3a3a3a" textLength="8.8" lengthAdjust="spacingAndGlyphs">0.0</text>
<text transform="translate(401.70,775.60) rotate(-90)" font-size="8.4" text-anchor="middle" fill="#333">probability</text>
<use href="#gG" fill="#ffa500" transform="translate(419.60,752.90) scale(0.0850,0.1544)"/>
<use href="#gA" fill="#008000" transform="translate(419.60,768.79) scale(0.0850,0.1180)"/>
<use href="#gC" fill="#0000ff" transform="translate(419.60,781.50) scale(0.0850,0.0999)"/>
<use href="#gT" fill="#ff0000" transform="translate(419.60,792.40) scale(0.0850,0.0590)"/>
<use href="#gA" fill="#008000" transform="translate(428.65,752.90) scale(0.0850,0.3950)"/>
<use href="#gT" fill="#ff0000" transform="translate(428.65,793.31) scale(0.0850,0.0272)"/>
<use href="#gC" fill="#0000ff" transform="translate(428.65,796.03) scale(0.0850,0.0227)"/>
<use href="#gC" fill="#0000ff" transform="translate(437.70,752.90) scale(0.0850,0.4540)"/>
<use href="#gG" fill="#ffa500" transform="translate(446.75,752.90) scale(0.0850,0.4540)"/>
<use href="#gT" fill="#ff0000" transform="translate(455.80,752.90) scale(0.0850,0.1907)"/>
<use href="#gA" fill="#008000" transform="translate(455.80,772.42) scale(0.0850,0.1226)"/>
<use href="#gG" fill="#ffa500" transform="translate(455.80,785.59) scale(0.0850,0.1271)"/>
<use href="#gT" fill="#ff0000" transform="translate(464.85,752.90) scale(0.0850,0.1589)"/>
<use href="#gA" fill="#008000" transform="translate(464.85,769.70) scale(0.0850,0.1226)"/>
<use href="#gC" fill="#0000ff" transform="translate(464.85,782.86) scale(0.0850,0.0726)"/>
<use href="#gG" fill="#ffa500" transform="translate(464.85,791.04) scale(0.0850,0.0726)"/>
<path d="M513.8,752.9V798.3M509.99999999999994,752.90H513.8M511.99999999999994,757.44H513.8M511.99999999999994,761.98H513.8M511.99999999999994,766.52H513.8M511.99999999999994,771.06H513.8M509.99999999999994,775.60H513.8M511.99999999999994,780.14H513.8M511.99999999999994,784.68H513.8M511.99999999999994,789.22H513.8M511.99999999999994,793.76H513.8M509.99999999999994,798.30H513.8" stroke="#333" stroke-width="0.85" fill="none"/>
<text x="509.70" y="755.10" font-size="6.5" text-anchor="end" fill="#3a3a3a" textLength="8.8" lengthAdjust="spacingAndGlyphs">1.0</text>
<text x="509.70" y="777.80" font-size="6.5" text-anchor="end" fill="#3a3a3a" textLength="8.8" lengthAdjust="spacingAndGlyphs">0.5</text>
<text x="509.70" y="800.50" font-size="6.5" text-anchor="end" fill="#3a3a3a" textLength="8.8" lengthAdjust="spacingAndGlyphs">0.0</text>
<text transform="translate(497.00,775.60) rotate(-90)" font-size="8.4" text-anchor="middle" fill="#333">probability</text>
<use href="#gG" fill="#ffa500" transform="translate(514.90,752.90) scale(0.0850,0.1271)"/>
<use href="#gC" fill="#0000ff" transform="translate(514.90,766.07) scale(0.0850,0.1135)"/>
<use href="#gA" fill="#008000" transform="translate(514.90,777.87) scale(0.0850,0.1044)"/>
<use href="#gT" fill="#ff0000" transform="translate(514.90,788.77) scale(0.0850,0.0953)"/>
<use href="#gA" fill="#008000" transform="translate(523.95,752.90) scale(0.0850,0.2497)"/>
<use href="#gC" fill="#0000ff" transform="translate(523.95,778.78) scale(0.0850,0.1952)"/>
<use href="#gC" fill="#0000ff" transform="translate(533.00,752.90) scale(0.0850,0.4540)"/>
<use href="#gG" fill="#ffa500" transform="translate(542.05,752.90) scale(0.0850,0.4540)"/>
<use href="#gT" fill="#ff0000" transform="translate(551.10,752.90) scale(0.0850,0.2315)"/>
<use href="#gA" fill="#008000" transform="translate(551.10,776.51) scale(0.0850,0.1634)"/>
<use href="#gG" fill="#ffa500" transform="translate(551.10,793.76) scale(0.0850,0.0454)"/>
<use href="#gC" fill="#0000ff" transform="translate(560.15,752.90) scale(0.0850,0.1407)"/>
<use href="#gG" fill="#ffa500" transform="translate(560.15,767.43) scale(0.0850,0.1180)"/>
<use href="#gT" fill="#ff0000" transform="translate(560.15,780.14) scale(0.0850,0.1453)"/>
<use href="#gA" fill="#008000" transform="translate(560.15,795.12) scale(0.0850,0.0318)"/>
<path d="M607.7,752.9V798.3M603.9000000000001,752.90H607.7M605.9000000000001,757.44H607.7M605.9000000000001,761.98H607.7M605.9000000000001,766.52H607.7M605.9000000000001,771.06H607.7M603.9000000000001,775.60H607.7M605.9000000000001,780.14H607.7M605.9000000000001,784.68H607.7M605.9000000000001,789.22H607.7M605.9000000000001,793.76H607.7M603.9000000000001,798.30H607.7" stroke="#333" stroke-width="0.85" fill="none"/>
<text x="603.60" y="755.10" font-size="6.5" text-anchor="end" fill="#3a3a3a" textLength="8.8" lengthAdjust="spacingAndGlyphs">1.0</text>
<text x="603.60" y="777.80" font-size="6.5" text-anchor="end" fill="#3a3a3a" textLength="8.8" lengthAdjust="spacingAndGlyphs">0.5</text>
<text x="603.60" y="800.50" font-size="6.5" text-anchor="end" fill="#3a3a3a" textLength="8.8" lengthAdjust="spacingAndGlyphs">0.0</text>
<text transform="translate(590.90,775.60) rotate(-90)" font-size="8.4" text-anchor="middle" fill="#333">probability</text>
<use href="#gC" fill="#0000ff" transform="translate(608.80,752.90) scale(0.0850,0.1407)"/>
<use href="#gG" fill="#ffa500" transform="translate(608.80,767.43) scale(0.0850,0.1135)"/>
<use href="#gA" fill="#008000" transform="translate(608.80,779.23) scale(0.0850,0.1044)"/>
<use href="#gT" fill="#ff0000" transform="translate(608.80,790.13) scale(0.0850,0.0817)"/>
<use href="#gA" fill="#008000" transform="translate(617.85,752.90) scale(0.0850,0.2588)"/>
<use href="#gC" fill="#0000ff" transform="translate(617.85,779.23) scale(0.0850,0.1453)"/>
<use href="#gT" fill="#ff0000" transform="translate(617.85,794.67) scale(0.0850,0.0363)"/>
<use href="#gC" fill="#0000ff" transform="translate(626.90,752.90) scale(0.0850,0.4540)"/>
<use href="#gG" fill="#ffa500" transform="translate(635.95,752.90) scale(0.0850,0.4540)"/>
<use href="#gA" fill="#008000" transform="translate(645.00,752.90) scale(0.0850,0.2088)"/>
<use href="#gT" fill="#ff0000" transform="translate(645.00,774.69) scale(0.0850,0.1816)"/>
<use href="#gG" fill="#ffa500" transform="translate(645.00,793.76) scale(0.0850,0.0454)"/>
<use href="#gC" fill="#0000ff" transform="translate(654.05,752.90) scale(0.0850,0.1407)"/>
<use href="#gG" fill="#ffa500" transform="translate(654.05,767.43) scale(0.0850,0.1407)"/>
<use href="#gT" fill="#ff0000" transform="translate(654.05,781.96) scale(0.0850,0.1407)"/>
<use href="#gA" fill="#008000" transform="translate(654.05,796.48) scale(0.0850,0.0182)"/>
<path d="M323.5,812.1V857.5M319.7,812.10H323.5M321.7,816.64H323.5M321.7,821.18H323.5M321.7,825.72H323.5M321.7,830.26H323.5M319.7,834.80H323.5M321.7,839.34H323.5M321.7,843.88H323.5M321.7,848.42H323.5M321.7,852.96H323.5M319.7,857.50H323.5" stroke="#333" stroke-width="0.85" fill="none"/>
<text x="319.40" y="814.30" font-size="6.5" text-anchor="end" fill="#3a3a3a" textLength="8.8" lengthAdjust="spacingAndGlyphs">1.0</text>
<text x="319.40" y="837.00" font-size="6.5" text-anchor="end" fill="#3a3a3a" textLength="8.8" lengthAdjust="spacingAndGlyphs">0.5</text>
<text x="319.40" y="859.70" font-size="6.5" text-anchor="end" fill="#3a3a3a" textLength="8.8" lengthAdjust="spacingAndGlyphs">0.0</text>
<text transform="translate(306.70,834.80) rotate(-90)" font-size="8.4" text-anchor="middle" fill="#333">probability</text>
<use href="#gT" fill="#ff0000" transform="translate(324.60,812.10) scale(0.0850,0.1544)"/>
<use href="#gA" fill="#008000" transform="translate(324.60,827.99) scale(0.0850,0.1453)"/>
<use href="#gC" fill="#0000ff" transform="translate(324.60,843.43) scale(0.0850,0.0726)"/>
<use href="#gG" fill="#ffa500" transform="translate(324.60,851.60) scale(0.0850,0.0590)"/>
<use href="#gG" fill="#ffa500" transform="translate(333.65,812.10) scale(0.0850,0.3587)"/>
<use href="#gC" fill="#0000ff" transform="translate(333.65,848.87) scale(0.0850,0.0409)"/>
<use href="#gT" fill="#ff0000" transform="translate(333.65,853.87) scale(0.0850,0.0363)"/>
<use href="#gC" fill="#0000ff" transform="translate(342.70,812.10) scale(0.0850,0.4540)"/>
<use href="#gG" fill="#ffa500" transform="translate(351.75,812.10) scale(0.0850,0.4540)"/>
<use href="#gC" fill="#0000ff" transform="translate(360.80,812.10) scale(0.0850,0.1907)"/>
<use href="#gG" fill="#ffa500" transform="translate(360.80,831.62) scale(0.0850,0.1317)"/>
<use href="#gA" fill="#008000" transform="translate(360.80,845.24) scale(0.0850,0.1226)"/>
<use href="#gC" fill="#0000ff" transform="translate(369.85,812.10) scale(0.0850,0.1907)"/>
<use href="#gG" fill="#ffa500" transform="translate(369.85,831.62) scale(0.0850,0.1317)"/>
<use href="#gA" fill="#008000" transform="translate(369.85,845.24) scale(0.0850,0.0772)"/>
<use href="#gT" fill="#ff0000" transform="translate(369.85,853.87) scale(0.0850,0.0363)"/>
<path d="M418.5,812.1V857.5M414.7,812.10H418.5M416.7,816.64H418.5M416.7,821.18H418.5M416.7,825.72H418.5M416.7,830.26H418.5M414.7,834.80H418.5M416.7,839.34H418.5M416.7,843.88H418.5M416.7,848.42H418.5M416.7,852.96H418.5M414.7,857.50H418.5" stroke="#333" stroke-width="0.85" fill="none"/>
<text x="414.40" y="814.30" font-size="6.5" text-anchor="end" fill="#3a3a3a" textLength="8.8" lengthAdjust="spacingAndGlyphs">1.0</text>
<text x="414.40" y="837.00" font-size="6.5" text-anchor="end" fill="#3a3a3a" textLength="8.8" lengthAdjust="spacingAndGlyphs">0.5</text>
<text x="414.40" y="859.70" font-size="6.5" text-anchor="end" fill="#3a3a3a" textLength="8.8" lengthAdjust="spacingAndGlyphs">0.0</text>
<text transform="translate(401.70,834.80) rotate(-90)" font-size="8.4" text-anchor="middle" fill="#333">probability</text>
<use href="#gC" fill="#0000ff" transform="translate(419.60,812.10) scale(0.0850,0.1317)"/>
<use href="#gG" fill="#ffa500" transform="translate(419.60,826.17) scale(0.0850,0.1362)"/>
<use href="#gT" fill="#ff0000" transform="translate(419.60,840.70) scale(0.0850,0.1090)"/>
<use href="#gA" fill="#008000" transform="translate(419.60,852.05) scale(0.0850,0.0545)"/>
<use href="#gG" fill="#ffa500" transform="translate(428.65,812.10) scale(0.0850,0.3859)"/>
<use href="#gT" fill="#ff0000" transform="translate(428.65,851.60) scale(0.0850,0.0590)"/>
<use href="#gC" fill="#0000ff" transform="translate(437.70,812.10) scale(0.0850,0.4540)"/>
<use href="#gG" fill="#ffa500" transform="translate(446.75,812.10) scale(0.0850,0.4540)"/>
<use href="#gA" fill="#008000" transform="translate(455.80,812.10) scale(0.0850,0.1407)"/>
<use href="#gC" fill="#0000ff" transform="translate(455.80,826.63) scale(0.0850,0.1317)"/>
<use href="#gG" fill="#ffa500" transform="translate(455.80,840.70) scale(0.0850,0.1362)"/>
<use href="#gT" fill="#ff0000" transform="translate(455.80,855.23) scale(0.0850,0.0227)"/>
<use href="#gC" fill="#0000ff" transform="translate(464.85,812.10) scale(0.0850,0.1407)"/>
<use href="#gA" fill="#008000" transform="translate(464.85,826.63) scale(0.0850,0.1135)"/>
<use href="#gG" fill="#ffa500" transform="translate(464.85,838.43) scale(0.0850,0.1044)"/>
<use href="#gT" fill="#ff0000" transform="translate(464.85,849.33) scale(0.0850,0.0817)"/>
<path d="M513.8,812.1V857.5M509.99999999999994,812.10H513.8M511.99999999999994,816.64H513.8M511.99999999999994,821.18H513.8M511.99999999999994,825.72H513.8M511.99999999999994,830.26H513.8M509.99999999999994,834.80H513.8M511.99999999999994,839.34H513.8M511.99999999999994,843.88H513.8M511.99999999999994,848.42H513.8M511.99999999999994,852.96H513.8M509.99999999999994,857.50H513.8" stroke="#333" stroke-width="0.85" fill="none"/>
<text x="509.70" y="814.30" font-size="6.5" text-anchor="end" fill="#3a3a3a" textLength="8.8" lengthAdjust="spacingAndGlyphs">1.0</text>
<text x="509.70" y="837.00" font-size="6.5" text-anchor="end" fill="#3a3a3a" textLength="8.8" lengthAdjust="spacingAndGlyphs">0.5</text>
<text x="509.70" y="859.70" font-size="6.5" text-anchor="end" fill="#3a3a3a" textLength="8.8" lengthAdjust="spacingAndGlyphs">0.0</text>
<text transform="translate(497.00,834.80) rotate(-90)" font-size="8.4" text-anchor="middle" fill="#333">probability</text>
<use href="#gG" fill="#ffa500" transform="translate(514.90,812.10) scale(0.0850,0.1271)"/>
<use href="#gC" fill="#0000ff" transform="translate(514.90,825.27) scale(0.0850,0.1180)"/>
<use href="#gA" fill="#008000" transform="translate(514.90,837.98) scale(0.0850,0.0953)"/>
<use href="#gT" fill="#ff0000" transform="translate(514.90,847.97) scale(0.0850,0.0953)"/>
<use href="#gG" fill="#ffa500" transform="translate(523.95,812.10) scale(0.0850,0.2088)"/>
<use href="#gT" fill="#ff0000" transform="translate(523.95,833.89) scale(0.0850,0.1907)"/>
<use href="#gC" fill="#0000ff" transform="translate(523.95,853.87) scale(0.0850,0.0363)"/>
<use href="#gC" fill="#0000ff" transform="translate(533.00,812.10) scale(0.0850,0.4540)"/>
<use href="#gG" fill="#ffa500" transform="translate(542.05,812.10) scale(0.0850,0.4540)"/>
<use href="#gC" fill="#0000ff" transform="translate(551.10,812.10) scale(0.0850,0.3314)"/>
<use href="#gG" fill="#ffa500" transform="translate(551.10,846.15) scale(0.0850,0.0817)"/>
<use href="#gT" fill="#ff0000" transform="translate(551.10,855.23) scale(0.0850,0.0227)"/>
<use href="#gG" fill="#ffa500" transform="translate(560.15,812.10) scale(0.0850,0.1544)"/>
<use href="#gT" fill="#ff0000" transform="translate(560.15,827.99) scale(0.0850,0.1271)"/>
<use href="#gC" fill="#0000ff" transform="translate(560.15,841.16) scale(0.0850,0.0817)"/>
<use href="#gA" fill="#008000" transform="translate(560.15,850.24) scale(0.0850,0.0726)"/>
<path d="M607.7,812.1V857.5M603.9000000000001,812.10H607.7M605.9000000000001,816.64H607.7M605.9000000000001,821.18H607.7M605.9000000000001,825.72H607.7M605.9000000000001,830.26H607.7M603.9000000000001,834.80H607.7M605.9000000000001,839.34H607.7M605.9000000000001,843.88H607.7M605.9000000000001,848.42H607.7M605.9000000000001,852.96H607.7M603.9000000000001,857.50H607.7" stroke="#333" stroke-width="0.85" fill="none"/>
<text x="603.60" y="814.30" font-size="6.5" text-anchor="end" fill="#3a3a3a" textLength="8.8" lengthAdjust="spacingAndGlyphs">1.0</text>
<text x="603.60" y="837.00" font-size="6.5" text-anchor="end" fill="#3a3a3a" textLength="8.8" lengthAdjust="spacingAndGlyphs">0.5</text>
<text x="603.60" y="859.70" font-size="6.5" text-anchor="end" fill="#3a3a3a" textLength="8.8" lengthAdjust="spacingAndGlyphs">0.0</text>
<text transform="translate(590.90,834.80) rotate(-90)" font-size="8.4" text-anchor="middle" fill="#333">probability</text>
<use href="#gA" fill="#008000" transform="translate(608.80,812.10) scale(0.0850,0.1544)"/>
<use href="#gT" fill="#ff0000" transform="translate(608.80,827.99) scale(0.0850,0.1453)"/>
<use href="#gG" fill="#ffa500" transform="translate(608.80,843.43) scale(0.0850,0.0726)"/>
<use href="#gC" fill="#0000ff" transform="translate(608.80,851.60) scale(0.0850,0.0590)"/>
<use href="#gG" fill="#ffa500" transform="translate(617.85,812.10) scale(0.0850,0.2724)"/>
<use href="#gT" fill="#ff0000" transform="translate(617.85,839.79) scale(0.0850,0.1771)"/>
<use href="#gC" fill="#0000ff" transform="translate(626.90,812.10) scale(0.0850,0.4540)"/>
<use href="#gG" fill="#ffa500" transform="translate(635.95,812.10) scale(0.0850,0.4540)"/>
<use href="#gC" fill="#0000ff" transform="translate(645.00,812.10) scale(0.0850,0.2724)"/>
<use href="#gG" fill="#ffa500" transform="translate(645.00,839.79) scale(0.0850,0.1090)"/>
<use href="#gA" fill="#008000" transform="translate(645.00,851.60) scale(0.0850,0.0409)"/>
<use href="#gT" fill="#ff0000" transform="translate(645.00,855.68) scale(0.0850,0.0182)"/>
<use href="#gA" fill="#008000" transform="translate(654.05,812.10) scale(0.0850,0.1180)"/>
<use href="#gC" fill="#0000ff" transform="translate(654.05,824.81) scale(0.0850,0.1180)"/>
<use href="#gG" fill="#ffa500" transform="translate(654.05,837.07) scale(0.0850,0.1044)"/>
<use href="#gT" fill="#ff0000" transform="translate(654.05,847.97) scale(0.0850,0.0953)"/>
<path d="M323.5,871.3V916.6999999999999M319.7,871.30H323.5M321.7,875.84H323.5M321.7,880.38H323.5M321.7,884.92H323.5M321.7,889.46H323.5M319.7,894.00H323.5M321.7,898.54H323.5M321.7,903.08H323.5M321.7,907.62H323.5M321.7,912.16H323.5M319.7,916.70H323.5" stroke="#333" stroke-width="0.85" fill="none"/>
<text x="319.40" y="873.50" font-size="6.5" text-anchor="end" fill="#3a3a3a" textLength="8.8" lengthAdjust="spacingAndGlyphs">1.0</text>
<text x="319.40" y="896.20" font-size="6.5" text-anchor="end" fill="#3a3a3a" textLength="8.8" lengthAdjust="spacingAndGlyphs">0.5</text>
<text x="319.40" y="918.90" font-size="6.5" text-anchor="end" fill="#3a3a3a" textLength="8.8" lengthAdjust="spacingAndGlyphs">0.0</text>
<text transform="translate(306.70,894.00) rotate(-90)" font-size="8.4" text-anchor="middle" fill="#333">probability</text>
<use href="#gT" fill="#ff0000" transform="translate(324.60,871.30) scale(0.0850,0.1907)"/>
<use href="#gC" fill="#0000ff" transform="translate(324.60,890.82) scale(0.0850,0.1271)"/>
<use href="#gG" fill="#ffa500" transform="translate(324.60,903.99) scale(0.0850,0.1271)"/>
<use href="#gG" fill="#ffa500" transform="translate(333.65,871.30) scale(0.0850,0.4540)"/>
<use href="#gC" fill="#0000ff" transform="translate(342.70,871.30) scale(0.0850,0.4540)"/>
<use href="#gG" fill="#ffa500" transform="translate(351.75,871.30) scale(0.0850,0.4540)"/>
<use href="#gC" fill="#0000ff" transform="translate(360.80,871.30) scale(0.0850,0.3904)"/>
<use href="#gA" fill="#008000" transform="translate(360.80,910.80) scale(0.0850,0.0590)"/>
<use href="#gC" fill="#0000ff" transform="translate(369.85,871.30) scale(0.0850,0.1271)"/>
<use href="#gG" fill="#ffa500" transform="translate(369.85,884.92) scale(0.0850,0.1135)"/>
<use href="#gT" fill="#ff0000" transform="translate(369.85,897.18) scale(0.0850,0.1317)"/>
<use href="#gA" fill="#008000" transform="translate(369.85,910.80) scale(0.0850,0.0590)"/>
<path d="M418.5,871.3V916.6999999999999M414.7,871.30H418.5M416.7,875.84H418.5M416.7,880.38H418.5M416.7,884.92H418.5M416.7,889.46H418.5M414.7,894.00H418.5M416.7,898.54H418.5M416.7,903.08H418.5M416.7,907.62H418.5M416.7,912.16H418.5M414.7,916.70H418.5" stroke="#333" stroke-width="0.85" fill="none"/>
<text x="414.40" y="873.50" font-size="6.5" text-anchor="end" fill="#3a3a3a" textLength="8.8" lengthAdjust="spacingAndGlyphs">1.0</text>
<text x="414.40" y="896.20" font-size="6.5" text-anchor="end" fill="#3a3a3a" textLength="8.8" lengthAdjust="spacingAndGlyphs">0.5</text>
<text x="414.40" y="918.90" font-size="6.5" text-anchor="end" fill="#3a3a3a" textLength="8.8" lengthAdjust="spacingAndGlyphs">0.0</text>
<text transform="translate(401.70,894.00) rotate(-90)" font-size="8.4" text-anchor="middle" fill="#333">probability</text>
<use href="#gT" fill="#ff0000" transform="translate(419.60,871.30) scale(0.0850,0.1907)"/>
<use href="#gC" fill="#0000ff" transform="translate(419.60,890.82) scale(0.0850,0.1317)"/>
<use href="#gA" fill="#008000" transform="translate(419.60,904.90) scale(0.0850,0.0545)"/>
<use href="#gG" fill="#ffa500" transform="translate(419.60,910.80) scale(0.0850,0.0590)"/>
<use href="#gG" fill="#ffa500" transform="translate(428.65,871.30) scale(0.0850,0.4540)"/>
<use href="#gC" fill="#0000ff" transform="translate(437.70,871.30) scale(0.0850,0.4540)"/>
<use href="#gG" fill="#ffa500" transform="translate(446.75,871.30) scale(0.0850,0.4540)"/>
<use href="#gC" fill="#0000ff" transform="translate(455.80,871.30) scale(0.0850,0.3223)"/>
<use href="#gA" fill="#008000" transform="translate(455.80,903.99) scale(0.0850,0.0636)"/>
<use href="#gG" fill="#ffa500" transform="translate(455.80,910.80) scale(0.0850,0.0590)"/>
<use href="#gA" fill="#008000" transform="translate(464.85,871.30) scale(0.0850,0.1271)"/>
<use href="#gC" fill="#0000ff" transform="translate(464.85,884.92) scale(0.0850,0.1226)"/>
<use href="#gG" fill="#ffa500" transform="translate(464.85,898.09) scale(0.0850,0.1135)"/>
<use href="#gT" fill="#ff0000" transform="translate(464.85,910.34) scale(0.0850,0.0636)"/>
<path d="M513.8,871.3V916.6999999999999M509.99999999999994,871.30H513.8M511.99999999999994,875.84H513.8M511.99999999999994,880.38H513.8M511.99999999999994,884.92H513.8M511.99999999999994,889.46H513.8M509.99999999999994,894.00H513.8M511.99999999999994,898.54H513.8M511.99999999999994,903.08H513.8M511.99999999999994,907.62H513.8M511.99999999999994,912.16H513.8M509.99999999999994,916.70H513.8" stroke="#333" stroke-width="0.85" fill="none"/>
<text x="509.70" y="873.50" font-size="6.5" text-anchor="end" fill="#3a3a3a" textLength="8.8" lengthAdjust="spacingAndGlyphs">1.0</text>
<text x="509.70" y="896.20" font-size="6.5" text-anchor="end" fill="#3a3a3a" textLength="8.8" lengthAdjust="spacingAndGlyphs">0.5</text>
<text x="509.70" y="918.90" font-size="6.5" text-anchor="end" fill="#3a3a3a" textLength="8.8" lengthAdjust="spacingAndGlyphs">0.0</text>
<text transform="translate(497.00,894.00) rotate(-90)" font-size="8.4" text-anchor="middle" fill="#333">probability</text>
<use href="#gA" fill="#008000" transform="translate(514.90,871.30) scale(0.0850,0.1271)"/>
<use href="#gC" fill="#0000ff" transform="translate(514.90,884.92) scale(0.0850,0.1135)"/>
<use href="#gT" fill="#ff0000" transform="translate(514.90,897.18) scale(0.0850,0.1226)"/>
<use href="#gG" fill="#ffa500" transform="translate(514.90,910.34) scale(0.0850,0.0636)"/>
<use href="#gG" fill="#ffa500" transform="translate(523.95,871.30) scale(0.0850,0.3133)"/>
<use href="#gT" fill="#ff0000" transform="translate(523.95,903.53) scale(0.0850,0.1317)"/>
<use href="#gC" fill="#0000ff" transform="translate(533.00,871.30) scale(0.0850,0.4540)"/>
<use href="#gG" fill="#ffa500" transform="translate(542.05,871.30) scale(0.0850,0.4540)"/>
<use href="#gC" fill="#0000ff" transform="translate(551.10,871.30) scale(0.0850,0.4540)"/>
<use href="#gC" fill="#0000ff" transform="translate(560.15,871.30) scale(0.0850,0.1907)"/>
<use href="#gA" fill="#008000" transform="translate(560.15,890.82) scale(0.0850,0.1271)"/>
<use href="#gG" fill="#ffa500" transform="translate(560.15,903.99) scale(0.0850,0.1271)"/>
<path d="M607.7,871.3V916.6999999999999M603.9000000000001,871.30H607.7M605.9000000000001,875.84H607.7M605.9000000000001,880.38H607.7M605.9000000000001,884.92H607.7M605.9000000000001,889.46H607.7M603.9000000000001,894.00H607.7M605.9000000000001,898.54H607.7M605.9000000000001,903.08H607.7M605.9000000000001,907.62H607.7M605.9000000000001,912.16H607.7M603.9000000000001,916.70H607.7" stroke="#333" stroke-width="0.85" fill="none"/>
<text x="603.60" y="873.50" font-size="6.5" text-anchor="end" fill="#3a3a3a" textLength="8.8" lengthAdjust="spacingAndGlyphs">1.0</text>
<text x="603.60" y="896.20" font-size="6.5" text-anchor="end" fill="#3a3a3a" textLength="8.8" lengthAdjust="spacingAndGlyphs">0.5</text>
<text x="603.60" y="918.90" font-size="6.5" text-anchor="end" fill="#3a3a3a" textLength="8.8" lengthAdjust="spacingAndGlyphs">0.0</text>
<text transform="translate(590.90,894.00) rotate(-90)" font-size="8.4" text-anchor="middle" fill="#333">probability</text>
<use href="#gC" fill="#0000ff" transform="translate(608.80,871.30) scale(0.0850,0.1907)"/>
<use href="#gG" fill="#ffa500" transform="translate(608.80,890.82) scale(0.0850,0.1861)"/>
<use href="#gT" fill="#ff0000" transform="translate(608.80,910.34) scale(0.0850,0.0636)"/>
<use href="#gG" fill="#ffa500" transform="translate(617.85,871.30) scale(0.0850,0.3814)"/>
<use href="#gT" fill="#ff0000" transform="translate(617.85,910.34) scale(0.0850,0.0636)"/>
<use href="#gC" fill="#0000ff" transform="translate(626.90,871.30) scale(0.0850,0.4540)"/>
<use href="#gG" fill="#ffa500" transform="translate(635.95,871.30) scale(0.0850,0.4540)"/>
<use href="#gC" fill="#0000ff" transform="translate(645.00,871.30) scale(0.0850,0.4086)"/>
<use href="#gG" fill="#ffa500" transform="translate(645.00,912.61) scale(0.0850,0.0409)"/>
<use href="#gA" fill="#008000" transform="translate(654.05,871.30) scale(0.0850,0.1907)"/>
<use href="#gG" fill="#ffa500" transform="translate(654.05,890.82) scale(0.0850,0.1861)"/>
<use href="#gC" fill="#0000ff" transform="translate(654.05,910.34) scale(0.0850,0.0636)"/>
<path d="M323.5,930.5V975.9M319.7,930.50H323.5M321.7,935.04H323.5M321.7,939.58H323.5M321.7,944.12H323.5M321.7,948.66H323.5M319.7,953.20H323.5M321.7,957.74H323.5M321.7,962.28H323.5M321.7,966.82H323.5M321.7,971.36H323.5M319.7,975.90H323.5" stroke="#333" stroke-width="0.85" fill="none"/>
<text x="319.40" y="932.70" font-size="6.5" text-anchor="end" fill="#3a3a3a" textLength="8.8" lengthAdjust="spacingAndGlyphs">1.0</text>
<text x="319.40" y="955.40" font-size="6.5" text-anchor="end" fill="#3a3a3a" textLength="8.8" lengthAdjust="spacingAndGlyphs">0.5</text>
<text x="319.40" y="978.10" font-size="6.5" text-anchor="end" fill="#3a3a3a" textLength="8.8" lengthAdjust="spacingAndGlyphs">0.0</text>
<text transform="translate(306.70,953.20) rotate(-90)" font-size="8.4" text-anchor="middle" fill="#333">probability</text>
<use href="#gC" fill="#0000ff" transform="translate(324.60,930.50) scale(0.0850,0.2588)"/>
<use href="#gG" fill="#ffa500" transform="translate(324.60,956.83) scale(0.0850,0.1271)"/>
<use href="#gA" fill="#008000" transform="translate(324.60,970.00) scale(0.0850,0.0590)"/>
<use href="#gG" fill="#ffa500" transform="translate(333.65,930.50) scale(0.0850,0.4540)"/>
<use href="#gC" fill="#0000ff" transform="translate(342.70,930.50) scale(0.0850,0.4540)"/>
<use href="#gG" fill="#ffa500" transform="translate(351.75,930.50) scale(0.0850,0.4540)"/>
<use href="#gC" fill="#0000ff" transform="translate(360.80,930.50) scale(0.0850,0.3904)"/>
<use href="#gA" fill="#008000" transform="translate(360.80,970.00) scale(0.0850,0.0590)"/>
<use href="#gC" fill="#0000ff" transform="translate(369.85,930.50) scale(0.0850,0.1907)"/>
<use href="#gA" fill="#008000" transform="translate(369.85,950.02) scale(0.0850,0.1271)"/>
<use href="#gG" fill="#ffa500" transform="translate(369.85,963.19) scale(0.0850,0.0636)"/>
<use href="#gT" fill="#ff0000" transform="translate(369.85,970.00) scale(0.0850,0.0590)"/>
<path d="M418.5,930.5V975.9M414.7,930.50H418.5M416.7,935.04H418.5M416.7,939.58H418.5M416.7,944.12H418.5M416.7,948.66H418.5M414.7,953.20H418.5M416.7,957.74H418.5M416.7,962.28H418.5M416.7,966.82H418.5M416.7,971.36H418.5M414.7,975.90H418.5" stroke="#333" stroke-width="0.85" fill="none"/>
<text x="414.40" y="932.70" font-size="6.5" text-anchor="end" fill="#3a3a3a" textLength="8.8" lengthAdjust="spacingAndGlyphs">1.0</text>
<text x="414.40" y="955.40" font-size="6.5" text-anchor="end" fill="#3a3a3a" textLength="8.8" lengthAdjust="spacingAndGlyphs">0.5</text>
<text x="414.40" y="978.10" font-size="6.5" text-anchor="end" fill="#3a3a3a" textLength="8.8" lengthAdjust="spacingAndGlyphs">0.0</text>
<text transform="translate(401.70,953.20) rotate(-90)" font-size="8.4" text-anchor="middle" fill="#333">probability</text>
<use href="#gC" fill="#0000ff" transform="translate(419.60,930.50) scale(0.0850,0.2588)"/>
<use href="#gG" fill="#ffa500" transform="translate(419.60,956.83) scale(0.0850,0.1271)"/>
<use href="#gT" fill="#ff0000" transform="translate(419.60,970.00) scale(0.0850,0.0590)"/>
<use href="#gG" fill="#ffa500" transform="translate(428.65,930.50) scale(0.0850,0.4540)"/>
<use href="#gC" fill="#0000ff" transform="translate(437.70,930.50) scale(0.0850,0.4540)"/>
<use href="#gG" fill="#ffa500" transform="translate(446.75,930.50) scale(0.0850,0.4540)"/>
<use href="#gC" fill="#0000ff" transform="translate(455.80,930.50) scale(0.0850,0.4540)"/>
<use href="#gC" fill="#0000ff" transform="translate(464.85,930.50) scale(0.0850,0.1952)"/>
<use href="#gA" fill="#008000" transform="translate(464.85,950.93) scale(0.0850,0.1180)"/>
<use href="#gG" fill="#ffa500" transform="translate(464.85,963.19) scale(0.0850,0.0636)"/>
<use href="#gT" fill="#ff0000" transform="translate(464.85,970.00) scale(0.0850,0.0590)"/>
<path d="M513.8,930.5V975.9M509.99999999999994,930.50H513.8M511.99999999999994,935.04H513.8M511.99999999999994,939.58H513.8M511.99999999999994,944.12H513.8M511.99999999999994,948.66H513.8M509.99999999999994,953.20H513.8M511.99999999999994,957.74H513.8M511.99999999999994,962.28H513.8M511.99999999999994,966.82H513.8M511.99999999999994,971.36H513.8M509.99999999999994,975.90H513.8" stroke="#333" stroke-width="0.85" fill="none"/>
<text x="509.70" y="932.70" font-size="6.5" text-anchor="end" fill="#3a3a3a" textLength="8.8" lengthAdjust="spacingAndGlyphs">1.0</text>
<text x="509.70" y="955.40" font-size="6.5" text-anchor="end" fill="#3a3a3a" textLength="8.8" lengthAdjust="spacingAndGlyphs">0.5</text>
<text x="509.70" y="978.10" font-size="6.5" text-anchor="end" fill="#3a3a3a" textLength="8.8" lengthAdjust="spacingAndGlyphs">0.0</text>
<text transform="translate(497.00,953.20) rotate(-90)" font-size="8.4" text-anchor="middle" fill="#333">probability</text>
<use href="#gT" fill="#ff0000" transform="translate(514.90,930.50) scale(0.0850,0.2588)"/>
<use href="#gG" fill="#ffa500" transform="translate(514.90,956.83) scale(0.0850,0.1271)"/>
<use href="#gA" fill="#008000" transform="translate(514.90,970.00) scale(0.0850,0.0590)"/>
<use href="#gG" fill="#ffa500" transform="translate(523.95,930.50) scale(0.0850,0.3814)"/>
<use href="#gT" fill="#ff0000" transform="translate(523.95,969.54) scale(0.0850,0.0636)"/>
<use href="#gC" fill="#0000ff" transform="translate(533.00,930.50) scale(0.0850,0.4540)"/>
<use href="#gG" fill="#ffa500" transform="translate(542.05,930.50) scale(0.0850,0.4540)"/>
<use href="#gC" fill="#0000ff" transform="translate(551.10,930.50) scale(0.0850,0.4540)"/>
<use href="#gG" fill="#ffa500" transform="translate(560.15,930.50) scale(0.0850,0.1907)"/>
<use href="#gA" fill="#008000" transform="translate(560.15,950.02) scale(0.0850,0.1271)"/>
<use href="#gC" fill="#0000ff" transform="translate(560.15,963.19) scale(0.0850,0.1271)"/>
<path d="M607.7,930.5V975.9M603.9000000000001,930.50H607.7M605.9000000000001,935.04H607.7M605.9000000000001,939.58H607.7M605.9000000000001,944.12H607.7M605.9000000000001,948.66H607.7M603.9000000000001,953.20H607.7M605.9000000000001,957.74H607.7M605.9000000000001,962.28H607.7M605.9000000000001,966.82H607.7M605.9000000000001,971.36H607.7M603.9000000000001,975.90H607.7" stroke="#333" stroke-width="0.85" fill="none"/>
<text x="603.60" y="932.70" font-size="6.5" text-anchor="end" fill="#3a3a3a" textLength="8.8" lengthAdjust="spacingAndGlyphs">1.0</text>
<text x="603.60" y="955.40" font-size="6.5" text-anchor="end" fill="#3a3a3a" textLength="8.8" lengthAdjust="spacingAndGlyphs">0.5</text>
<text x="603.60" y="978.10" font-size="6.5" text-anchor="end" fill="#3a3a3a" textLength="8.8" lengthAdjust="spacingAndGlyphs">0.0</text>
<text transform="translate(590.90,953.20) rotate(-90)" font-size="8.4" text-anchor="middle" fill="#333">probability</text>
<use href="#gT" fill="#ff0000" transform="translate(608.80,930.50) scale(0.0850,0.3904)"/>
<use href="#gA" fill="#008000" transform="translate(608.80,970.00) scale(0.0850,0.0590)"/>
<use href="#gG" fill="#ffa500" transform="translate(617.85,930.50) scale(0.0850,0.3133)"/>
<use href="#gT" fill="#ff0000" transform="translate(617.85,962.73) scale(0.0850,0.1317)"/>
<use href="#gC" fill="#0000ff" transform="translate(626.90,930.50) scale(0.0850,0.4540)"/>
<use href="#gG" fill="#ffa500" transform="translate(635.95,930.50) scale(0.0850,0.4540)"/>
<use href="#gC" fill="#0000ff" transform="translate(645.00,930.50) scale(0.0850,0.4540)"/>
<use href="#gG" fill="#ffa500" transform="translate(654.05,930.50) scale(0.0850,0.1907)"/>
<use href="#gC" fill="#0000ff" transform="translate(654.05,950.02) scale(0.0850,0.1317)"/>
<use href="#gA" fill="#008000" transform="translate(654.05,964.10) scale(0.0850,0.0545)"/>
<use href="#gT" fill="#ff0000" transform="translate(654.05,970.00) scale(0.0850,0.0590)"/>
<path d="M253.9,586.7H672.5V982.7H253.9ZM253.9,607.0H672.5M253.9,627.5H672.5M253.9,686.7H672.5M253.9,745.9H672.5M253.9,805.1H672.5M253.9,864.3H672.5M253.9,923.5H672.5M293.0,586.7V982.7M483.3,586.7V982.7M388.0,607.0V982.7M577.2,607.0V982.7" stroke="#1a1a1a" stroke-width="1.5" fill="none"/>
<text x="388.15" y="602.0" font-size="12.4" font-weight="bold" text-anchor="middle" textLength="28.4" lengthAdjust="spacingAndGlyphs" fill="#000">TET1</text>
<text x="577.9" y="602.0" font-size="12.4" font-weight="bold" text-anchor="middle" textLength="28.4" lengthAdjust="spacingAndGlyphs" fill="#000">TET2</text>
<text x="340.5" y="622.9" font-size="13.4" font-weight="bold" text-anchor="middle" textLength="29" lengthAdjust="spacingAndGlyphs" fill="#000">5mC</text>
<text x="435.65" y="622.9" font-size="13.4" font-weight="bold" text-anchor="middle" textLength="36.5" lengthAdjust="spacingAndGlyphs" fill="#000">5hmC</text>
<text x="530.25" y="622.9" font-size="13.4" font-weight="bold" text-anchor="middle" textLength="29" lengthAdjust="spacingAndGlyphs" fill="#000">5mC</text>
<text x="624.85" y="622.9" font-size="13.4" font-weight="bold" text-anchor="middle" textLength="36.5" lengthAdjust="spacingAndGlyphs" fill="#000">5hmC</text>
<text x="273.45" y="654.7" font-size="10" font-weight="bold" text-anchor="middle" textLength="19.5" lengthAdjust="spacingAndGlyphs" fill="#000">Best</text>
<text x="273.45" y="668.2" font-size="10" font-weight="bold" text-anchor="middle" textLength="13.0" lengthAdjust="spacingAndGlyphs" fill="#000">3%</text>
<text x="273.45" y="713.9" font-size="10" font-weight="bold" text-anchor="middle" textLength="19.5" lengthAdjust="spacingAndGlyphs" fill="#000">Best</text>
<text x="273.45" y="727.4" font-size="10" font-weight="bold" text-anchor="middle" textLength="21.0" lengthAdjust="spacingAndGlyphs" fill="#000">3-6%</text>
<text x="273.45" y="773.1" font-size="10" font-weight="bold" text-anchor="middle" textLength="19.5" lengthAdjust="spacingAndGlyphs" fill="#000">Best</text>
<text x="273.45" y="786.6" font-size="10" font-weight="bold" text-anchor="middle" textLength="26.0" lengthAdjust="spacingAndGlyphs" fill="#000">6-15%</text>
<text x="273.45" y="832.3000000000001" font-size="10" font-weight="bold" text-anchor="middle" textLength="25.3" lengthAdjust="spacingAndGlyphs" fill="#000">Worst</text>
<text x="273.45" y="845.8000000000001" font-size="10" font-weight="bold" text-anchor="middle" textLength="26.0" lengthAdjust="spacingAndGlyphs" fill="#000">6-15%</text>
<text x="273.45" y="891.5" font-size="10" font-weight="bold" text-anchor="middle" textLength="25.3" lengthAdjust="spacingAndGlyphs" fill="#000">Worst</text>
<text x="273.45" y="905.0" font-size="10" font-weight="bold" text-anchor="middle" textLength="21.0" lengthAdjust="spacingAndGlyphs" fill="#000">3-6%</text>
<text x="273.45" y="950.7" font-size="10" font-weight="bold" text-anchor="middle" textLength="25.3" lengthAdjust="spacingAndGlyphs" fill="#000">Worst</text>
<text x="273.45" y="964.2" font-size="10" font-weight="bold" text-anchor="middle" textLength="13.0" lengthAdjust="spacingAndGlyphs" fill="#000">3%</text>
</svg></body></html>
